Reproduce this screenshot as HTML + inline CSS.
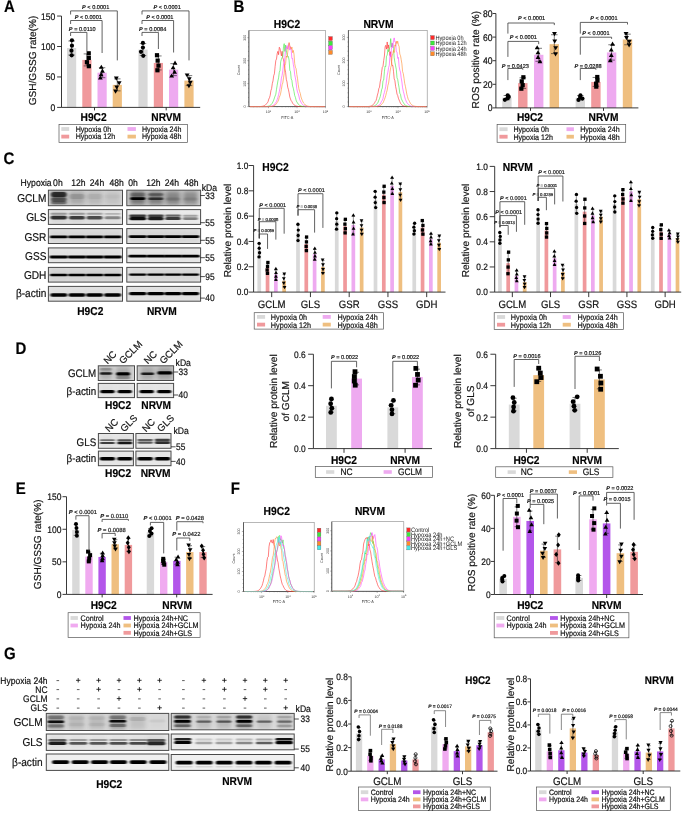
<!DOCTYPE html>
<html><head><meta charset="utf-8"><style>
html,body{margin:0;padding:0;background:#fff;}
body{width:685px;height:814px;overflow:hidden;}
svg{display:block;font-family:"Liberation Sans", sans-serif;will-change:transform;text-rendering:geometricPrecision;}
text{stroke:#111;stroke-width:0.18px;stroke-linejoin:round;}
text[fill="#333"],text[fill="#1a1a1a"]{stroke:none;}
</style></head><body>
<svg width="685" height="814" viewBox="0 0 685 814">
<defs>
<filter id="bl" x="-20%" y="-100%" width="140%" height="300%"><feGaussianBlur stdDeviation="1.1 0.7"/></filter>
<filter id="bl2" x="-20%" y="-100%" width="140%" height="300%"><feGaussianBlur stdDeviation="1.2"/></filter>
<filter id="bl3" x="-20%" y="-100%" width="140%" height="300%"><feGaussianBlur stdDeviation="2"/></filter>
</defs>
<text x="3.9" y="11.3" font-size="15" text-anchor="start" font-weight="bold" fill="#000" transform="translate(0 -0.71) scale(1 1.12)">A</text>
<text x="233.5" y="11.6" font-size="15" text-anchor="start" font-weight="bold" fill="#000" transform="translate(0 -0.74) scale(1 1.12)">B</text>
<text x="3.4" y="163.1" font-size="15" text-anchor="start" font-weight="bold" fill="#000" transform="translate(0 -18.92) scale(1 1.12)">C</text>
<text x="15.5" y="353.8" font-size="15" text-anchor="start" font-weight="bold" fill="#000" transform="translate(0 -41.81) scale(1 1.12)">D</text>
<text x="15.8" y="492.9" font-size="15" text-anchor="start" font-weight="bold" fill="#000" transform="translate(0 -58.5) scale(1 1.12)">E</text>
<text x="230.8" y="492.9" font-size="15" text-anchor="start" font-weight="bold" fill="#000" transform="translate(0 -58.5) scale(1 1.12)">F</text>
<text x="4" y="658.6" font-size="15" text-anchor="start" font-weight="bold" fill="#000" transform="translate(0 -78.38) scale(1 1.12)">G</text>
<line x1="61.5" y1="107.4" x2="61.5" y2="16.05" stroke="#222" stroke-width="0.9"/>
<line x1="57.1" y1="107.4" x2="61.5" y2="107.4" stroke="#222" stroke-width="0.9"/>
<text x="55.3" y="110.5" font-size="8.6" text-anchor="end" font-weight="normal" fill="#111" transform="translate(0 -12.89) scale(1 1.12)">0</text>
<line x1="57.1" y1="76.95" x2="61.5" y2="76.95" stroke="#222" stroke-width="0.9"/>
<text x="55.3" y="80.05" font-size="8.6" text-anchor="end" font-weight="normal" fill="#111" transform="translate(0 -9.23) scale(1 1.12)">50</text>
<line x1="57.1" y1="46.5" x2="61.5" y2="46.5" stroke="#222" stroke-width="0.9"/>
<text x="55.3" y="49.6" font-size="8.6" text-anchor="end" font-weight="normal" fill="#111" transform="translate(0 -5.58) scale(1 1.12)">100</text>
<line x1="57.1" y1="16.05" x2="61.5" y2="16.05" stroke="#222" stroke-width="0.9"/>
<text x="55.3" y="19.15" font-size="8.6" text-anchor="end" font-weight="normal" fill="#111" transform="translate(0 -1.93) scale(1 1.12)">150</text>
<text x="32.8" y="64.14" font-size="10.1" text-anchor="middle" font-weight="normal" fill="#111" transform="rotate(-90 32.8 60.5)">GSH/GSSG rate(%)</text>
<rect x="67" y="48.02" width="9.2" height="59.38" fill="#d9d9d9"/>
<line x1="71.6" y1="41.02" x2="71.6" y2="55.02" stroke="#222" stroke-width="0.6"/>
<line x1="68.38" y1="41.02" x2="74.82" y2="41.02" stroke="#222" stroke-width="0.6"/>
<line x1="68.38" y1="55.02" x2="74.82" y2="55.02" stroke="#222" stroke-width="0.6"/>
<circle cx="71.91" cy="40.32" r="2.1" fill="#000"/>
<circle cx="71.94" cy="45.71" r="2.1" fill="#000"/>
<circle cx="71.47" cy="50.72" r="2.1" fill="#000"/>
<circle cx="71.7" cy="55.34" r="2.1" fill="#000"/>
<rect x="138.4" y="49.55" width="9.2" height="57.85" fill="#d9d9d9"/>
<line x1="143" y1="43.55" x2="143" y2="55.55" stroke="#222" stroke-width="0.6"/>
<line x1="139.78" y1="43.55" x2="146.22" y2="43.55" stroke="#222" stroke-width="0.6"/>
<line x1="139.78" y1="55.55" x2="146.22" y2="55.55" stroke="#222" stroke-width="0.6"/>
<circle cx="142.92" cy="42.95" r="2.1" fill="#000"/>
<circle cx="142.92" cy="47.57" r="2.1" fill="#000"/>
<circle cx="140.96" cy="51.86" r="2.1" fill="#000"/>
<circle cx="143.24" cy="55.82" r="2.1" fill="#000"/>
<rect x="82.3" y="59.9" width="9.2" height="47.5" fill="#f0999c"/>
<line x1="86.9" y1="53.9" x2="86.9" y2="65.9" stroke="#222" stroke-width="0.6"/>
<line x1="83.68" y1="53.9" x2="90.12" y2="53.9" stroke="#222" stroke-width="0.6"/>
<line x1="83.68" y1="65.9" x2="90.12" y2="65.9" stroke="#222" stroke-width="0.6"/>
<rect x="86.63" y="51.2" width="4.2" height="4.2" fill="#000"/>
<rect x="86.69" y="55.82" width="4.2" height="4.2" fill="#000"/>
<rect x="84.83" y="60.11" width="4.2" height="4.2" fill="#000"/>
<rect x="86.75" y="64.07" width="4.2" height="4.2" fill="#000"/>
<rect x="153.8" y="62.94" width="9.2" height="44.46" fill="#f0999c"/>
<line x1="158.4" y1="55.94" x2="158.4" y2="69.94" stroke="#222" stroke-width="0.6"/>
<line x1="155.18" y1="55.94" x2="161.62" y2="55.94" stroke="#222" stroke-width="0.6"/>
<line x1="155.18" y1="69.94" x2="161.62" y2="69.94" stroke="#222" stroke-width="0.6"/>
<rect x="154.89" y="53.14" width="4.2" height="4.2" fill="#000"/>
<rect x="155.56" y="58.53" width="4.2" height="4.2" fill="#000"/>
<rect x="156.4" y="63.54" width="4.2" height="4.2" fill="#000"/>
<rect x="155.35" y="68.16" width="4.2" height="4.2" fill="#000"/>
<rect x="97.5" y="72.69" width="9.2" height="34.71" fill="#eeaaf0"/>
<line x1="102.1" y1="67.69" x2="102.1" y2="77.69" stroke="#222" stroke-width="0.6"/>
<line x1="98.88" y1="67.69" x2="105.32" y2="67.69" stroke="#222" stroke-width="0.6"/>
<line x1="98.88" y1="77.69" x2="105.32" y2="77.69" stroke="#222" stroke-width="0.6"/>
<polygon points="101.33,64.67 98.91,68.87 103.74,68.87" fill="#000"/>
<polygon points="102.46,68.52 100.05,72.72 104.88,72.72" fill="#000"/>
<polygon points="101.11,72.09 98.7,76.29 103.53,76.29" fill="#000"/>
<polygon points="100.35,75.39 97.93,79.59 102.76,79.59" fill="#000"/>
<rect x="169" y="69.64" width="9.2" height="37.76" fill="#eeaaf0"/>
<line x1="173.6" y1="63.64" x2="173.6" y2="75.64" stroke="#222" stroke-width="0.6"/>
<line x1="170.38" y1="63.64" x2="176.82" y2="63.64" stroke="#222" stroke-width="0.6"/>
<line x1="170.38" y1="75.64" x2="176.82" y2="75.64" stroke="#222" stroke-width="0.6"/>
<polygon points="175.05,60.52 172.63,64.72 177.46,64.72" fill="#000"/>
<polygon points="173.13,65.14 170.72,69.34 175.55,69.34" fill="#000"/>
<polygon points="174.6,69.43 172.18,73.63 177.01,73.63" fill="#000"/>
<polygon points="171.67,73.39 169.26,77.59 174.09,77.59" fill="#000"/>
<rect x="112.7" y="84.87" width="9.2" height="22.53" fill="#efbf80"/>
<line x1="117.3" y1="78.87" x2="117.3" y2="90.87" stroke="#222" stroke-width="0.6"/>
<line x1="114.08" y1="78.87" x2="120.52" y2="78.87" stroke="#222" stroke-width="0.6"/>
<line x1="114.08" y1="90.87" x2="120.52" y2="90.87" stroke="#222" stroke-width="0.6"/>
<polygon points="116.3,80.79 113.88,76.59 118.71,76.59" fill="#000"/>
<polygon points="119.18,85.41 116.76,81.21 121.59,81.21" fill="#000"/>
<polygon points="116.75,89.7 114.33,85.5 119.16,85.5" fill="#000"/>
<polygon points="115.59,93.66 113.17,89.46 118,89.46" fill="#000"/>
<rect x="184.4" y="80.6" width="9.2" height="26.8" fill="#efbf80"/>
<line x1="189" y1="75.6" x2="189" y2="85.6" stroke="#222" stroke-width="0.6"/>
<line x1="185.78" y1="75.6" x2="192.22" y2="75.6" stroke="#222" stroke-width="0.6"/>
<line x1="185.78" y1="85.6" x2="192.22" y2="85.6" stroke="#222" stroke-width="0.6"/>
<polygon points="187.13,77.62 184.71,73.42 189.54,73.42" fill="#000"/>
<polygon points="189.28,81.47 186.87,77.27 191.7,77.27" fill="#000"/>
<polygon points="190.3,85.05 187.89,80.85 192.72,80.85" fill="#000"/>
<polygon points="188.93,88.35 186.51,84.15 191.34,84.15" fill="#000"/>
<line x1="61.5" y1="107.4" x2="200.2" y2="107.4" stroke="#222" stroke-width="0.9"/>
<line x1="94.5" y1="107.4" x2="94.5" y2="110.4" stroke="#222" stroke-width="0.9"/>
<line x1="166.2" y1="107.4" x2="166.2" y2="110.4" stroke="#222" stroke-width="0.9"/>
<text x="93.6" y="120.97" font-size="10.2" text-anchor="middle" font-weight="bold" fill="#000" transform="translate(0 -14.08) scale(1 1.12)">H9C2</text>
<text x="166.2" y="120.97" font-size="10.2" text-anchor="middle" font-weight="bold" fill="#000" transform="translate(0 -14.08) scale(1 1.12)">NRVM</text>
<polyline points="70.6,36 70.6,32.4 86.9,32.4 86.9,51.5" fill="none" stroke="#3a3a3a" stroke-width="0.8"/>
<text x="82.25" y="31.22" font-size="5.6" text-anchor="middle" fill="#222"><tspan font-weight="bold" font-style="italic">P</tspan> = 0.0110</text>
<polyline points="70.6,24 70.6,20.5 102.1,20.5 102.1,53" fill="none" stroke="#3a3a3a" stroke-width="0.8"/>
<text x="88.35" y="18.72" font-size="5.6" text-anchor="middle" fill="#222"><tspan font-weight="bold" font-style="italic">P</tspan> &lt; 0.0001</text>
<polyline points="70.6,14.5 70.6,10.9 117.3,10.9 117.3,60.4" fill="none" stroke="#3a3a3a" stroke-width="0.8"/>
<text x="95.65" y="8.72" font-size="5.6" text-anchor="middle" fill="#222"><tspan font-weight="bold" font-style="italic">P</tspan> &lt; 0.0001</text>
<polyline points="142,36 142,32.4 158.4,32.4 158.4,49" fill="none" stroke="#3a3a3a" stroke-width="0.8"/>
<text x="152.7" y="31.22" font-size="5.6" text-anchor="middle" fill="#222"><tspan font-weight="bold" font-style="italic">P</tspan> = 0.0084</text>
<polyline points="142,24 142,20.5 173.6,20.5 173.6,52.5" fill="none" stroke="#3a3a3a" stroke-width="0.8"/>
<text x="159.8" y="18.72" font-size="5.6" text-anchor="middle" fill="#222"><tspan font-weight="bold" font-style="italic">P</tspan> &lt; 0.0001</text>
<polyline points="142,14.5 142,10.9 189,10.9 189,60.4" fill="none" stroke="#3a3a3a" stroke-width="0.8"/>
<text x="167.2" y="8.72" font-size="5.6" text-anchor="middle" fill="#222"><tspan font-weight="bold" font-style="italic">P</tspan> &lt; 0.0001</text>
<rect x="59" y="124.6" width="128.6" height="17.9" fill="#fff" stroke="#555" stroke-width="0.7"/>
<rect x="61.3" y="127.1" width="7.9" height="3.8" fill="#d9d9d9"/>
<text x="75.7" y="131.56" font-size="7.1" text-anchor="start" font-weight="normal" fill="#111" transform="translate(0 -15.48) scale(1 1.12)">Hypoxia 0h</text>
<rect x="61.3" y="134.7" width="7.9" height="3.8" fill="#f0999c"/>
<text x="75.7" y="139.16" font-size="7.1" text-anchor="start" font-weight="normal" fill="#111" transform="translate(0 -16.39) scale(1 1.12)">Hypoxia 12h</text>
<rect x="127.5" y="127.1" width="8.4" height="3.8" fill="#eeaaf0"/>
<text x="142" y="131.56" font-size="7.1" text-anchor="start" font-weight="normal" fill="#111" transform="translate(0 -15.48) scale(1 1.12)">Hypoxia 24h</text>
<rect x="127.5" y="134.7" width="8.4" height="3.8" fill="#efbf80"/>
<text x="142" y="139.16" font-size="7.1" text-anchor="start" font-weight="normal" fill="#111" transform="translate(0 -16.39) scale(1 1.12)">Hypoxia 48h</text>
<line x1="495.9" y1="107.9" x2="495.9" y2="13.5" stroke="#222" stroke-width="0.9"/>
<line x1="492.6" y1="107.9" x2="495.9" y2="107.9" stroke="#222" stroke-width="0.9"/>
<text x="492.6" y="111" font-size="8.6" text-anchor="end" font-weight="normal" fill="#111" transform="translate(0 -12.95) scale(1 1.12)">0</text>
<line x1="492.6" y1="84.3" x2="495.9" y2="84.3" stroke="#222" stroke-width="0.9"/>
<text x="492.6" y="87.4" font-size="8.6" text-anchor="end" font-weight="normal" fill="#111" transform="translate(0 -10.12) scale(1 1.12)">20</text>
<line x1="492.6" y1="60.7" x2="495.9" y2="60.7" stroke="#222" stroke-width="0.9"/>
<text x="492.6" y="63.8" font-size="8.6" text-anchor="end" font-weight="normal" fill="#111" transform="translate(0 -7.28) scale(1 1.12)">40</text>
<line x1="492.6" y1="37.1" x2="495.9" y2="37.1" stroke="#222" stroke-width="0.9"/>
<text x="492.6" y="40.2" font-size="8.6" text-anchor="end" font-weight="normal" fill="#111" transform="translate(0 -4.45) scale(1 1.12)">60</text>
<line x1="492.6" y1="13.5" x2="495.9" y2="13.5" stroke="#222" stroke-width="0.9"/>
<text x="492.6" y="16.6" font-size="8.6" text-anchor="end" font-weight="normal" fill="#111" transform="translate(0 -1.62) scale(1 1.12)">80</text>
<text x="475.4" y="63.24" font-size="10.1" text-anchor="middle" font-weight="normal" fill="#111" transform="rotate(-90 475.4 59.6)">ROS positive rate (%)</text>
<rect x="502.2" y="97.63" width="9.4" height="10.27" fill="#d9d9d9"/>
<line x1="506.9" y1="95.51" x2="506.9" y2="99.76" stroke="#222" stroke-width="0.6"/>
<line x1="503.61" y1="95.51" x2="510.19" y2="95.51" stroke="#222" stroke-width="0.6"/>
<line x1="503.61" y1="99.76" x2="510.19" y2="99.76" stroke="#222" stroke-width="0.6"/>
<circle cx="507.69" cy="95.3" r="2.1" fill="#000"/>
<circle cx="508.77" cy="96.93" r="2.1" fill="#000"/>
<circle cx="507.36" cy="98.45" r="2.1" fill="#000"/>
<circle cx="504.89" cy="99.85" r="2.1" fill="#000"/>
<rect x="575.6" y="97.75" width="9.4" height="10.15" fill="#d9d9d9"/>
<line x1="580.3" y1="95.63" x2="580.3" y2="99.88" stroke="#222" stroke-width="0.6"/>
<line x1="577.01" y1="95.63" x2="583.59" y2="95.63" stroke="#222" stroke-width="0.6"/>
<line x1="577.01" y1="99.88" x2="583.59" y2="99.88" stroke="#222" stroke-width="0.6"/>
<circle cx="580.43" cy="95.42" r="2.1" fill="#000"/>
<circle cx="580.1" cy="97.05" r="2.1" fill="#000"/>
<circle cx="582.37" cy="98.57" r="2.1" fill="#000"/>
<circle cx="578.49" cy="99.97" r="2.1" fill="#000"/>
<rect x="518.1" y="83.12" width="9.4" height="24.78" fill="#f0999c"/>
<line x1="522.8" y1="77.81" x2="522.8" y2="88.43" stroke="#222" stroke-width="0.6"/>
<line x1="519.51" y1="77.81" x2="526.09" y2="77.81" stroke="#222" stroke-width="0.6"/>
<line x1="519.51" y1="88.43" x2="526.09" y2="88.43" stroke="#222" stroke-width="0.6"/>
<rect x="521.28" y="75.18" width="4.2" height="4.2" fill="#000"/>
<rect x="519.62" y="79.27" width="4.2" height="4.2" fill="#000"/>
<rect x="520.56" y="83.06" width="4.2" height="4.2" fill="#000"/>
<rect x="519.23" y="86.57" width="4.2" height="4.2" fill="#000"/>
<rect x="591.2" y="81.94" width="9.4" height="25.96" fill="#f0999c"/>
<line x1="595.9" y1="77.46" x2="595.9" y2="86.42" stroke="#222" stroke-width="0.6"/>
<line x1="592.61" y1="77.46" x2="599.19" y2="77.46" stroke="#222" stroke-width="0.6"/>
<line x1="592.61" y1="86.42" x2="599.19" y2="86.42" stroke="#222" stroke-width="0.6"/>
<rect x="595.18" y="74.91" width="4.2" height="4.2" fill="#000"/>
<rect x="595.4" y="78.36" width="4.2" height="4.2" fill="#000"/>
<rect x="594" y="81.57" width="4.2" height="4.2" fill="#000"/>
<rect x="594.17" y="84.53" width="4.2" height="4.2" fill="#000"/>
<rect x="534" y="54.8" width="9.4" height="53.1" fill="#eeaaf0"/>
<line x1="538.7" y1="48.31" x2="538.7" y2="61.29" stroke="#222" stroke-width="0.6"/>
<line x1="535.41" y1="48.31" x2="541.99" y2="48.31" stroke="#222" stroke-width="0.6"/>
<line x1="535.41" y1="61.29" x2="541.99" y2="61.29" stroke="#222" stroke-width="0.6"/>
<polygon points="537.19,45.14 534.78,49.34 539.61,49.34" fill="#000"/>
<polygon points="537.99,50.14 535.57,54.34 540.4,54.34" fill="#000"/>
<polygon points="538.03,54.78 535.62,58.98 540.45,58.98" fill="#000"/>
<polygon points="539.92,59.06 537.51,63.26 542.34,63.26" fill="#000"/>
<rect x="606.9" y="52.44" width="9.4" height="55.46" fill="#eeaaf0"/>
<line x1="611.6" y1="44.77" x2="611.6" y2="60.11" stroke="#222" stroke-width="0.6"/>
<line x1="608.31" y1="44.77" x2="614.89" y2="44.77" stroke="#222" stroke-width="0.6"/>
<line x1="608.31" y1="60.11" x2="614.89" y2="60.11" stroke="#222" stroke-width="0.6"/>
<polygon points="612.55,41.48 610.14,45.68 614.97,45.68" fill="#000"/>
<polygon points="611.26,47.39 608.85,51.59 613.68,51.59" fill="#000"/>
<polygon points="611.31,52.87 608.89,57.07 613.72,57.07" fill="#000"/>
<polygon points="610.29,57.94 607.88,62.14 612.71,62.14" fill="#000"/>
<rect x="549.6" y="44.18" width="9.4" height="63.72" fill="#efbf80"/>
<line x1="554.3" y1="34.74" x2="554.3" y2="53.62" stroke="#222" stroke-width="0.6"/>
<line x1="551.01" y1="34.74" x2="557.59" y2="34.74" stroke="#222" stroke-width="0.6"/>
<line x1="551.01" y1="53.62" x2="557.59" y2="53.62" stroke="#222" stroke-width="0.6"/>
<polygon points="554.48,36.32 552.06,32.12 556.89,32.12" fill="#000"/>
<polygon points="554.75,43.58 552.33,39.38 557.16,39.38" fill="#000"/>
<polygon points="555.69,50.33 553.27,46.13 558.1,46.13" fill="#000"/>
<polygon points="555.54,56.56 553.12,52.36 557.95,52.36" fill="#000"/>
<rect x="622.8" y="39.46" width="9.4" height="68.44" fill="#efbf80"/>
<line x1="627.5" y1="34.15" x2="627.5" y2="44.77" stroke="#222" stroke-width="0.6"/>
<line x1="624.21" y1="34.15" x2="630.79" y2="34.15" stroke="#222" stroke-width="0.6"/>
<line x1="624.21" y1="44.77" x2="630.79" y2="44.77" stroke="#222" stroke-width="0.6"/>
<polygon points="626.06,36.14 623.64,31.94 628.47,31.94" fill="#000"/>
<polygon points="626.47,40.23 624.05,36.03 628.88,36.03" fill="#000"/>
<polygon points="629.27,44.02 626.85,39.82 631.68,39.82" fill="#000"/>
<polygon points="629.11,47.53 626.7,43.33 631.53,43.33" fill="#000"/>
<line x1="495.9" y1="107.9" x2="638.4" y2="107.9" stroke="#222" stroke-width="0.9"/>
<line x1="530.5" y1="107.9" x2="530.5" y2="110.9" stroke="#222" stroke-width="0.9"/>
<line x1="603.5" y1="107.9" x2="603.5" y2="110.9" stroke="#222" stroke-width="0.9"/>
<text x="530" y="120.47" font-size="10.2" text-anchor="middle" font-weight="bold" fill="#000" transform="translate(0 -14.02) scale(1 1.12)">H9C2</text>
<text x="603.5" y="120.47" font-size="10.2" text-anchor="middle" font-weight="bold" fill="#000" transform="translate(0 -14.02) scale(1 1.12)">NRVM</text>
<polyline points="507.9,80.1 507.9,68.5 522.8,68.5 522.8,69.8" fill="none" stroke="#3a3a3a" stroke-width="0.8"/>
<text x="515.35" y="67.62" font-size="5.6" text-anchor="middle" fill="#222"><tspan font-weight="bold" font-style="italic">P</tspan> = 0.0423</text>
<polyline points="507.9,56.9 507.9,41.4 538.7,41.4 538.7,44.2" fill="none" stroke="#3a3a3a" stroke-width="0.8"/>
<text x="523.3" y="39.42" font-size="5.6" text-anchor="middle" fill="#222"><tspan font-weight="bold" font-style="italic">P</tspan> &lt; 0.0001</text>
<polyline points="507.9,33.6 507.9,23 554.3,23 554.3,25.1" fill="none" stroke="#3a3a3a" stroke-width="0.8"/>
<text x="531.6" y="19.82" font-size="5.6" text-anchor="middle" fill="#222"><tspan font-weight="bold" font-style="italic">P</tspan> &lt; 0.0001</text>
<polyline points="580.3,80.1 580.3,68.5 595.9,68.5 595.9,69.8" fill="none" stroke="#3a3a3a" stroke-width="0.8"/>
<text x="588.1" y="67.62" font-size="5.6" text-anchor="middle" fill="#222"><tspan font-weight="bold" font-style="italic">P</tspan> = 0.0288</text>
<polyline points="580.3,54.7 580.3,37.2 611.6,37.2 611.6,38.9" fill="none" stroke="#3a3a3a" stroke-width="0.8"/>
<text x="595.95" y="35.42" font-size="5.6" text-anchor="middle" fill="#222"><tspan font-weight="bold" font-style="italic">P</tspan> &lt; 0.0001</text>
<polyline points="580.3,33.6 580.3,22.4 627.5,22.4 627.5,24.5" fill="none" stroke="#3a3a3a" stroke-width="0.8"/>
<text x="603.9" y="20.02" font-size="5.6" text-anchor="middle" fill="#222"><tspan font-weight="bold" font-style="italic">P</tspan> &lt; 0.0001</text>
<rect x="497.1" y="124.5" width="128.6" height="17.8" fill="#fff" stroke="#555" stroke-width="0.7"/>
<rect x="499.4" y="127.3" width="8.2" height="3.8" fill="#d9d9d9"/>
<text x="513.4" y="131.76" font-size="7.1" text-anchor="start" font-weight="normal" fill="#111" transform="translate(0 -15.5) scale(1 1.12)">Hypoxia 0h</text>
<rect x="499.4" y="134.8" width="8.2" height="3.8" fill="#f0999c"/>
<text x="513.4" y="139.26" font-size="7.1" text-anchor="start" font-weight="normal" fill="#111" transform="translate(0 -16.4) scale(1 1.12)">Hypoxia 12h</text>
<rect x="566.5" y="127.3" width="7.4" height="3.8" fill="#eeaaf0"/>
<text x="580.2" y="131.76" font-size="7.1" text-anchor="start" font-weight="normal" fill="#111" transform="translate(0 -15.5) scale(1 1.12)">Hypoxia 24h</text>
<rect x="566.5" y="134.8" width="7.4" height="3.8" fill="#efbf80"/>
<text x="580.2" y="139.26" font-size="7.1" text-anchor="start" font-weight="normal" fill="#111" transform="translate(0 -16.4) scale(1 1.12)">Hypoxia 48h</text>
<text x="287" y="27.21" font-size="10.3" text-anchor="middle" font-weight="bold" fill="#000" transform="translate(0 -2.82) scale(1 1.12)">H9C2</text>
<text x="378.5" y="27.21" font-size="10.3" text-anchor="middle" font-weight="bold" fill="#000" transform="translate(0 -2.82) scale(1 1.12)">NRVM</text>
<rect x="248.9" y="30.6" width="76.7" height="76" fill="#fff" stroke="#888" stroke-width="0.6"/>
<line x1="248.9" y1="30.6" x2="248.9" y2="106.6" stroke="#333" stroke-width="0.7"/>
<line x1="248.9" y1="106.6" x2="325.6" y2="106.6" stroke="#333" stroke-width="0.7"/>
<line x1="247.3" y1="106.6" x2="248.9" y2="106.6" stroke="#444" stroke-width="0.4"/>
<line x1="248" y1="102" x2="248.9" y2="102" stroke="#444" stroke-width="0.4"/>
<line x1="248" y1="97.41" x2="248.9" y2="97.41" stroke="#444" stroke-width="0.4"/>
<line x1="248" y1="92.81" x2="248.9" y2="92.81" stroke="#444" stroke-width="0.4"/>
<line x1="248" y1="88.22" x2="248.9" y2="88.22" stroke="#444" stroke-width="0.4"/>
<line x1="247.3" y1="83.62" x2="248.9" y2="83.62" stroke="#444" stroke-width="0.4"/>
<line x1="248" y1="79.03" x2="248.9" y2="79.03" stroke="#444" stroke-width="0.4"/>
<line x1="248" y1="74.43" x2="248.9" y2="74.43" stroke="#444" stroke-width="0.4"/>
<line x1="248" y1="69.84" x2="248.9" y2="69.84" stroke="#444" stroke-width="0.4"/>
<line x1="248" y1="65.24" x2="248.9" y2="65.24" stroke="#444" stroke-width="0.4"/>
<line x1="247.3" y1="60.65" x2="248.9" y2="60.65" stroke="#444" stroke-width="0.4"/>
<line x1="248" y1="56.05" x2="248.9" y2="56.05" stroke="#444" stroke-width="0.4"/>
<line x1="248" y1="51.45" x2="248.9" y2="51.45" stroke="#444" stroke-width="0.4"/>
<line x1="248" y1="46.86" x2="248.9" y2="46.86" stroke="#444" stroke-width="0.4"/>
<line x1="248" y1="42.26" x2="248.9" y2="42.26" stroke="#444" stroke-width="0.4"/>
<line x1="247.3" y1="37.67" x2="248.9" y2="37.67" stroke="#444" stroke-width="0.4"/>
<text x="244.6" y="107.9" font-size="3.6" text-anchor="middle" font-weight="normal" fill="#333" transform="rotate(-90 244.6 106.6)">0</text>
<text x="244.6" y="84.92" font-size="3.6" text-anchor="middle" font-weight="normal" fill="#333" transform="rotate(-90 244.6 83.62)">100</text>
<text x="244.6" y="61.94" font-size="3.6" text-anchor="middle" font-weight="normal" fill="#333" transform="rotate(-90 244.6 60.65)">200</text>
<text x="244.6" y="38.96" font-size="3.6" text-anchor="middle" font-weight="normal" fill="#333" transform="rotate(-90 244.6 37.67)">300</text>
<text x="238.7" y="71.47" font-size="3.8" text-anchor="middle" font-weight="normal" fill="#333" transform="rotate(-90 238.7 70.1)">Count</text>
<line x1="268.5" y1="106.6" x2="268.5" y2="108.2" stroke="#444" stroke-width="0.4"/>
<text x="268.5" y="112.9" font-size="3.6" text-anchor="middle" fill="#333">10<tspan font-size="2.4" dy="-1.3">3</tspan></text>
<line x1="297" y1="106.6" x2="297" y2="108.2" stroke="#444" stroke-width="0.4"/>
<text x="297" y="112.9" font-size="3.6" text-anchor="middle" fill="#333">10<tspan font-size="2.4" dy="-1.3">4</tspan></text>
<line x1="325.5" y1="106.6" x2="325.5" y2="108.2" stroke="#444" stroke-width="0.4"/>
<text x="325.5" y="112.9" font-size="3.6" text-anchor="middle" fill="#333">10<tspan font-size="2.4" dy="-1.3">5</tspan></text>
<line x1="253.6" y1="106.6" x2="253.6" y2="107.4" stroke="#555" stroke-width="0.35"/>
<line x1="257.16" y1="106.6" x2="257.16" y2="107.4" stroke="#555" stroke-width="0.35"/>
<line x1="259.92" y1="106.6" x2="259.92" y2="107.4" stroke="#555" stroke-width="0.35"/>
<line x1="262.18" y1="106.6" x2="262.18" y2="107.4" stroke="#555" stroke-width="0.35"/>
<line x1="264.09" y1="106.6" x2="264.09" y2="107.4" stroke="#555" stroke-width="0.35"/>
<line x1="265.74" y1="106.6" x2="265.74" y2="107.4" stroke="#555" stroke-width="0.35"/>
<line x1="267.2" y1="106.6" x2="267.2" y2="107.4" stroke="#555" stroke-width="0.35"/>
<line x1="277.08" y1="106.6" x2="277.08" y2="107.4" stroke="#555" stroke-width="0.35"/>
<line x1="282.1" y1="106.6" x2="282.1" y2="107.4" stroke="#555" stroke-width="0.35"/>
<line x1="285.66" y1="106.6" x2="285.66" y2="107.4" stroke="#555" stroke-width="0.35"/>
<line x1="288.42" y1="106.6" x2="288.42" y2="107.4" stroke="#555" stroke-width="0.35"/>
<line x1="290.68" y1="106.6" x2="290.68" y2="107.4" stroke="#555" stroke-width="0.35"/>
<line x1="292.59" y1="106.6" x2="292.59" y2="107.4" stroke="#555" stroke-width="0.35"/>
<line x1="294.24" y1="106.6" x2="294.24" y2="107.4" stroke="#555" stroke-width="0.35"/>
<line x1="295.7" y1="106.6" x2="295.7" y2="107.4" stroke="#555" stroke-width="0.35"/>
<line x1="305.58" y1="106.6" x2="305.58" y2="107.4" stroke="#555" stroke-width="0.35"/>
<line x1="310.6" y1="106.6" x2="310.6" y2="107.4" stroke="#555" stroke-width="0.35"/>
<line x1="314.16" y1="106.6" x2="314.16" y2="107.4" stroke="#555" stroke-width="0.35"/>
<line x1="316.92" y1="106.6" x2="316.92" y2="107.4" stroke="#555" stroke-width="0.35"/>
<line x1="319.18" y1="106.6" x2="319.18" y2="107.4" stroke="#555" stroke-width="0.35"/>
<line x1="321.09" y1="106.6" x2="321.09" y2="107.4" stroke="#555" stroke-width="0.35"/>
<line x1="322.74" y1="106.6" x2="322.74" y2="107.4" stroke="#555" stroke-width="0.35"/>
<line x1="324.2" y1="106.6" x2="324.2" y2="107.4" stroke="#555" stroke-width="0.35"/>
<text x="287.25" y="118.37" font-size="3.8" text-anchor="middle" font-weight="normal" fill="#333" transform="translate(0 -14.04) scale(1 1.12)">FITC-A</text>
<polyline points="249.9,106.6 250.6,106.6 251.3,106.6 252,106.6 252.7,106.6 253.4,106.6 254.1,106.6 254.8,106.6 255.5,106.6 256.2,106.6 256.9,106.59 257.6,106.59 258.3,106.58 259,106.57 259.7,106.54 260.4,106.51 261.1,106.46 261.8,106.38 262.5,106.26 263.2,106.09 263.9,105.88 264.6,105.5 265.3,105.08 266,104.38 266.7,103.52 267.4,102.79 268.1,101.55 268.8,99.03 269.5,97.68 270.2,95.32 270.9,90.72 271.6,88.62 272.3,83.62 273,80.81 273.7,75.7 274.4,73.84 275.1,66.58 275.8,60.55 276.5,58.96 277.2,53.68 277.9,51.35 278.6,54.68 279.3,47.28 280,48.59 280.7,51.97 281.4,55.95 282.1,51.29 282.8,57.78 283.5,59.77 284.2,63.06 284.9,68.72 285.6,72.3 286.3,79.34 287,81.95 287.7,87.15 288.4,89.38 289.1,92.83 289.8,96.96 290.5,99.03 291.2,100.72 291.9,101.61 292.6,103.19 293.3,104.04 294,104.85 294.7,105.33 295.4,105.73 296.1,106 296.8,106.2 297.5,106.33 298.2,106.43 298.9,106.49 299.6,106.53 300.3,106.56 301,106.57 301.7,106.58 302.4,106.59 303.1,106.59 303.8,106.6 304.5,106.6 305.2,106.6 305.9,106.6 306.6,106.6 307.3,106.6 308,106.6 308.7,106.6 309.4,106.6 310.1,106.6 310.8,106.6 311.5,106.6 312.2,106.6 312.9,106.6 313.6,106.6 314.3,106.6 315,106.6 315.7,106.6 316.4,106.6 317.1,106.6 317.8,106.6 318.5,106.6 319.2,106.6 319.9,106.6 320.6,106.6 321.3,106.6 322,106.6 322.7,106.6 323.4,106.6 324.1,106.6 324.8,106.6" fill="none" stroke="#ff2a2a" stroke-width="0.6" stroke-linejoin="round"/>
<polyline points="249.9,106.6 250.6,106.6 251.3,106.6 252,106.6 252.7,106.6 253.4,106.6 254.1,106.6 254.8,106.6 255.5,106.6 256.2,106.6 256.9,106.6 257.6,106.6 258.3,106.6 259,106.6 259.7,106.6 260.4,106.6 261.1,106.6 261.8,106.6 262.5,106.59 263.2,106.59 263.9,106.58 264.6,106.56 265.3,106.54 266,106.5 266.7,106.45 267.4,106.36 268.1,106.23 268.8,106.05 269.5,105.8 270.2,105.39 270.9,104.86 271.6,104.03 272.3,103.16 273,101.74 273.7,100.17 274.4,97.98 275.1,96 275.8,94.22 276.5,89.34 277.2,85.12 277.9,80.97 278.6,77.8 279.3,72.35 280,70.51 280.7,61.85 281.4,59.16 282.1,57.51 282.8,56.21 283.5,46.65 284.2,43.64 284.9,51.45 285.6,45.1 286.3,50.12 287,54.68 287.7,56.44 288.4,56.46 289.1,60.21 289.8,70.27 290.5,71.5 291.2,78.98 291.9,80.41 292.6,86.05 293.3,88.22 294,91.56 294.7,95.53 295.4,97.3 296.1,100.21 296.8,101.98 297.5,102.88 298.2,104.14 298.9,104.8 299.6,105.29 300.3,105.67 301,105.98 301.7,106.19 302.4,106.33 303.1,106.43 303.8,106.49 304.5,106.53 305.2,106.56 305.9,106.58 306.6,106.59 307.3,106.59 308,106.6 308.7,106.6 309.4,106.6 310.1,106.6 310.8,106.6 311.5,106.6 312.2,106.6 312.9,106.6 313.6,106.6 314.3,106.6 315,106.6 315.7,106.6 316.4,106.6 317.1,106.6 317.8,106.6 318.5,106.6 319.2,106.6 319.9,106.6 320.6,106.6 321.3,106.6 322,106.6 322.7,106.6 323.4,106.6 324.1,106.6 324.8,106.6" fill="none" stroke="#3ce83c" stroke-width="0.6" stroke-linejoin="round"/>
<polyline points="249.9,106.6 250.6,106.6 251.3,106.6 252,106.6 252.7,106.6 253.4,106.6 254.1,106.6 254.8,106.6 255.5,106.6 256.2,106.6 256.9,106.6 257.6,106.6 258.3,106.6 259,106.6 259.7,106.6 260.4,106.6 261.1,106.6 261.8,106.6 262.5,106.6 263.2,106.6 263.9,106.6 264.6,106.6 265.3,106.59 266,106.59 266.7,106.58 267.4,106.57 268.1,106.55 268.8,106.52 269.5,106.47 270.2,106.4 270.9,106.29 271.6,106.13 272.3,105.94 273,105.65 273.7,105.04 274.4,104.58 275.1,103.49 275.8,102.39 276.5,101.37 277.2,99.59 277.9,97.4 278.6,94.6 279.3,91.63 280,88.19 280.7,83.99 281.4,78.2 282.1,75.37 282.8,70.93 283.5,64.15 284.2,62.67 284.9,57.79 285.6,47.93 286.3,48.46 287,45.56 287.7,49.2 288.4,44.51 289.1,43.23 289.8,50.14 290.5,46.73 291.2,49.86 291.9,58.6 292.6,58.45 293.3,64.42 294,68.05 294.7,74.8 295.4,77.85 296.1,82.33 296.8,88.76 297.5,92.01 298.2,93.7 298.9,96.02 299.6,99.29 300.3,100.86 301,102.22 301.7,103.52 302.4,104.36 303.1,105.02 303.8,105.49 304.5,105.81 305.2,106.07 305.9,106.25 306.6,106.37 307.3,106.45 308,106.51 308.7,106.54 309.4,106.56 310.1,106.58 310.8,106.59 311.5,106.59 312.2,106.6 312.9,106.6 313.6,106.6 314.3,106.6 315,106.6 315.7,106.6 316.4,106.6 317.1,106.6 317.8,106.6 318.5,106.6 319.2,106.6 319.9,106.6 320.6,106.6 321.3,106.6 322,106.6 322.7,106.6 323.4,106.6 324.1,106.6 324.8,106.6" fill="none" stroke="#ff3cff" stroke-width="0.6" stroke-linejoin="round"/>
<polyline points="249.9,106.6 250.6,106.6 251.3,106.6 252,106.6 252.7,106.6 253.4,106.6 254.1,106.6 254.8,106.6 255.5,106.6 256.2,106.6 256.9,106.6 257.6,106.6 258.3,106.6 259,106.6 259.7,106.6 260.4,106.6 261.1,106.6 261.8,106.6 262.5,106.6 263.2,106.6 263.9,106.6 264.6,106.6 265.3,106.6 266,106.59 266.7,106.59 267.4,106.59 268.1,106.58 268.8,106.56 269.5,106.54 270.2,106.5 270.9,106.45 271.6,106.37 272.3,106.25 273,106.08 273.7,105.86 274.4,105.52 275.1,104.98 275.8,104.6 276.5,103.6 277.2,102.44 277.9,101.44 278.6,99.94 279.3,97.18 280,95.69 280.7,93.09 281.4,89.3 282.1,84.77 282.8,83 283.5,77.87 284.2,73.36 284.9,65.7 285.6,63.57 286.3,55.98 287,57.39 287.7,52.56 288.4,46.85 289.1,42.47 289.8,45.52 290.5,47.55 291.2,49.28 291.9,46.98 292.6,52.6 293.3,50.42 294,54.22 294.7,63.5 295.4,67.22 296.1,68.67 296.8,74.37 297.5,78.23 298.2,84.31 298.9,88.72 299.6,91.55 300.3,93.46 301,97 301.7,99.01 302.4,100.69 303.1,102.12 303.8,103.27 304.5,103.95 305.2,104.9 305.9,105.42 306.6,105.64 307.3,105.98 308,106.18 308.7,106.32 309.4,106.42 310.1,106.48 310.8,106.52 311.5,106.55 312.2,106.57 312.9,106.58 313.6,106.59 314.3,106.59 315,106.6 315.7,106.6 316.4,106.6 317.1,106.6 317.8,106.6 318.5,106.6 319.2,106.6 319.9,106.6 320.6,106.6 321.3,106.6 322,106.6 322.7,106.6 323.4,106.6 324.1,106.6 324.8,106.6" fill="none" stroke="#ff8a2a" stroke-width="0.6" stroke-linejoin="round"/>
<rect x="348.4" y="30.3" width="78.8" height="76.3" fill="#fff" stroke="#888" stroke-width="0.6"/>
<line x1="348.4" y1="30.3" x2="348.4" y2="106.6" stroke="#333" stroke-width="0.7"/>
<line x1="348.4" y1="106.6" x2="427.2" y2="106.6" stroke="#333" stroke-width="0.7"/>
<line x1="346.8" y1="106.6" x2="348.4" y2="106.6" stroke="#444" stroke-width="0.4"/>
<line x1="347.5" y1="101.99" x2="348.4" y2="101.99" stroke="#444" stroke-width="0.4"/>
<line x1="347.5" y1="97.37" x2="348.4" y2="97.37" stroke="#444" stroke-width="0.4"/>
<line x1="347.5" y1="92.76" x2="348.4" y2="92.76" stroke="#444" stroke-width="0.4"/>
<line x1="347.5" y1="88.15" x2="348.4" y2="88.15" stroke="#444" stroke-width="0.4"/>
<line x1="346.8" y1="83.53" x2="348.4" y2="83.53" stroke="#444" stroke-width="0.4"/>
<line x1="347.5" y1="78.92" x2="348.4" y2="78.92" stroke="#444" stroke-width="0.4"/>
<line x1="347.5" y1="74.3" x2="348.4" y2="74.3" stroke="#444" stroke-width="0.4"/>
<line x1="347.5" y1="69.69" x2="348.4" y2="69.69" stroke="#444" stroke-width="0.4"/>
<line x1="347.5" y1="65.08" x2="348.4" y2="65.08" stroke="#444" stroke-width="0.4"/>
<line x1="346.8" y1="60.46" x2="348.4" y2="60.46" stroke="#444" stroke-width="0.4"/>
<line x1="347.5" y1="55.85" x2="348.4" y2="55.85" stroke="#444" stroke-width="0.4"/>
<line x1="347.5" y1="51.24" x2="348.4" y2="51.24" stroke="#444" stroke-width="0.4"/>
<line x1="347.5" y1="46.62" x2="348.4" y2="46.62" stroke="#444" stroke-width="0.4"/>
<line x1="347.5" y1="42.01" x2="348.4" y2="42.01" stroke="#444" stroke-width="0.4"/>
<line x1="346.8" y1="37.4" x2="348.4" y2="37.4" stroke="#444" stroke-width="0.4"/>
<text x="344.1" y="107.9" font-size="3.6" text-anchor="middle" font-weight="normal" fill="#333" transform="rotate(-90 344.1 106.6)">0</text>
<text x="344.1" y="84.83" font-size="3.6" text-anchor="middle" font-weight="normal" fill="#333" transform="rotate(-90 344.1 83.53)">100</text>
<text x="344.1" y="61.76" font-size="3.6" text-anchor="middle" font-weight="normal" fill="#333" transform="rotate(-90 344.1 60.46)">200</text>
<text x="344.1" y="38.69" font-size="3.6" text-anchor="middle" font-weight="normal" fill="#333" transform="rotate(-90 344.1 37.4)">300</text>
<text x="338.2" y="71.32" font-size="3.8" text-anchor="middle" font-weight="normal" fill="#333" transform="rotate(-90 338.2 69.95)">Count</text>
<line x1="369" y1="106.6" x2="369" y2="108.2" stroke="#444" stroke-width="0.4"/>
<text x="369" y="112.9" font-size="3.6" text-anchor="middle" fill="#333">10<tspan font-size="2.4" dy="-1.3">3</tspan></text>
<line x1="398" y1="106.6" x2="398" y2="108.2" stroke="#444" stroke-width="0.4"/>
<text x="398" y="112.9" font-size="3.6" text-anchor="middle" fill="#333">10<tspan font-size="2.4" dy="-1.3">4</tspan></text>
<line x1="427" y1="106.6" x2="427" y2="108.2" stroke="#444" stroke-width="0.4"/>
<text x="427" y="112.9" font-size="3.6" text-anchor="middle" fill="#333">10<tspan font-size="2.4" dy="-1.3">5</tspan></text>
<line x1="348.73" y1="106.6" x2="348.73" y2="107.4" stroke="#555" stroke-width="0.35"/>
<line x1="353.84" y1="106.6" x2="353.84" y2="107.4" stroke="#555" stroke-width="0.35"/>
<line x1="357.46" y1="106.6" x2="357.46" y2="107.4" stroke="#555" stroke-width="0.35"/>
<line x1="360.27" y1="106.6" x2="360.27" y2="107.4" stroke="#555" stroke-width="0.35"/>
<line x1="362.57" y1="106.6" x2="362.57" y2="107.4" stroke="#555" stroke-width="0.35"/>
<line x1="364.51" y1="106.6" x2="364.51" y2="107.4" stroke="#555" stroke-width="0.35"/>
<line x1="366.19" y1="106.6" x2="366.19" y2="107.4" stroke="#555" stroke-width="0.35"/>
<line x1="367.67" y1="106.6" x2="367.67" y2="107.4" stroke="#555" stroke-width="0.35"/>
<line x1="377.73" y1="106.6" x2="377.73" y2="107.4" stroke="#555" stroke-width="0.35"/>
<line x1="382.84" y1="106.6" x2="382.84" y2="107.4" stroke="#555" stroke-width="0.35"/>
<line x1="386.46" y1="106.6" x2="386.46" y2="107.4" stroke="#555" stroke-width="0.35"/>
<line x1="389.27" y1="106.6" x2="389.27" y2="107.4" stroke="#555" stroke-width="0.35"/>
<line x1="391.57" y1="106.6" x2="391.57" y2="107.4" stroke="#555" stroke-width="0.35"/>
<line x1="393.51" y1="106.6" x2="393.51" y2="107.4" stroke="#555" stroke-width="0.35"/>
<line x1="395.19" y1="106.6" x2="395.19" y2="107.4" stroke="#555" stroke-width="0.35"/>
<line x1="396.67" y1="106.6" x2="396.67" y2="107.4" stroke="#555" stroke-width="0.35"/>
<line x1="406.73" y1="106.6" x2="406.73" y2="107.4" stroke="#555" stroke-width="0.35"/>
<line x1="411.84" y1="106.6" x2="411.84" y2="107.4" stroke="#555" stroke-width="0.35"/>
<line x1="415.46" y1="106.6" x2="415.46" y2="107.4" stroke="#555" stroke-width="0.35"/>
<line x1="418.27" y1="106.6" x2="418.27" y2="107.4" stroke="#555" stroke-width="0.35"/>
<line x1="420.57" y1="106.6" x2="420.57" y2="107.4" stroke="#555" stroke-width="0.35"/>
<line x1="422.51" y1="106.6" x2="422.51" y2="107.4" stroke="#555" stroke-width="0.35"/>
<line x1="424.19" y1="106.6" x2="424.19" y2="107.4" stroke="#555" stroke-width="0.35"/>
<line x1="425.67" y1="106.6" x2="425.67" y2="107.4" stroke="#555" stroke-width="0.35"/>
<text x="387.8" y="118.37" font-size="3.8" text-anchor="middle" font-weight="normal" fill="#333" transform="translate(0 -14.04) scale(1 1.12)">FITC-A</text>
<polyline points="349.4,106.6 350.1,106.6 350.8,106.6 351.5,106.6 352.2,106.6 352.9,106.6 353.6,106.6 354.3,106.6 355,106.6 355.7,106.6 356.4,106.6 357.1,106.6 357.8,106.6 358.5,106.6 359.2,106.6 359.9,106.6 360.6,106.6 361.3,106.6 362,106.6 362.7,106.6 363.4,106.6 364.1,106.59 364.8,106.59 365.5,106.58 366.2,106.57 366.9,106.56 367.6,106.53 368.3,106.49 369,106.43 369.7,106.33 370.4,106.19 371.1,105.99 371.8,105.68 372.5,105.24 373.2,104.66 373.9,103.82 374.6,102.9 375.3,101.46 376,100.68 376.7,98.28 377.4,95.08 378.1,92.69 378.8,88.63 379.5,87.24 380.2,81.93 380.9,78.49 381.6,72.33 382.3,67.25 383,66.32 383.7,60.52 384.4,56.02 385.1,46.86 385.8,45.27 386.5,49.14 387.2,41.94 387.9,48.51 388.6,44.91 389.3,51.61 390,55.49 390.7,51.65 391.4,61.18 392.1,65.55 392.8,65.46 393.5,71.27 394.2,78.93 394.9,80.64 395.6,86.4 396.3,89.75 397,94.07 397.7,95.48 398.4,98.29 399.1,99.99 399.8,101.69 400.5,103.3 401.2,104.18 401.9,104.93 402.6,105.43 403.3,105.8 404,106.02 404.7,106.21 405.4,106.35 406.1,106.44 406.8,106.5 407.5,106.54 408.2,106.56 408.9,106.58 409.6,106.59 410.3,106.59 411,106.6 411.7,106.6 412.4,106.6 413.1,106.6 413.8,106.6 414.5,106.6 415.2,106.6 415.9,106.6 416.6,106.6 417.3,106.6 418,106.6 418.7,106.6 419.4,106.6 420.1,106.6 420.8,106.6 421.5,106.6 422.2,106.6 422.9,106.6 423.6,106.6 424.3,106.6 425,106.6 425.7,106.6 426.4,106.6" fill="none" stroke="#ff2a2a" stroke-width="0.6" stroke-linejoin="round"/>
<polyline points="349.4,106.6 350.1,106.6 350.8,106.6 351.5,106.6 352.2,106.6 352.9,106.6 353.6,106.6 354.3,106.6 355,106.6 355.7,106.6 356.4,106.6 357.1,106.6 357.8,106.6 358.5,106.6 359.2,106.6 359.9,106.6 360.6,106.6 361.3,106.6 362,106.6 362.7,106.6 363.4,106.6 364.1,106.6 364.8,106.6 365.5,106.6 366.2,106.6 366.9,106.6 367.6,106.59 368.3,106.59 369,106.58 369.7,106.56 370.4,106.54 371.1,106.5 371.8,106.44 372.5,106.35 373.2,106.23 373.9,106.04 374.6,105.8 375.3,105.37 376,105.01 376.7,104.11 377.4,103.34 378.1,102.2 378.8,100.22 379.5,98.66 380.2,96.62 380.9,93.58 381.6,89.75 382.3,87.99 383,80.58 383.7,80.08 384.4,71.74 385.1,66 385.8,66.51 386.5,56.16 387.2,55.1 387.9,49.4 388.6,51.65 389.3,49.2 390,46.66 390.7,38.59 391.4,47.08 392.1,43.4 392.8,44.68 393.5,48.39 394.2,57.68 394.9,62.14 395.6,65.83 396.3,69.4 397,77.79 397.7,79.48 398.4,83.81 399.1,87.73 399.8,93.27 400.5,94.37 401.2,98.27 401.9,99.94 402.6,101.36 403.3,102.52 404,103.88 404.7,104.47 405.4,105.18 406.1,105.65 406.8,105.93 407.5,106.15 408.2,106.31 408.9,106.41 409.6,106.48 410.3,106.52 411,106.55 411.7,106.57 412.4,106.58 413.1,106.59 413.8,106.59 414.5,106.6 415.2,106.6 415.9,106.6 416.6,106.6 417.3,106.6 418,106.6 418.7,106.6 419.4,106.6 420.1,106.6 420.8,106.6 421.5,106.6 422.2,106.6 422.9,106.6 423.6,106.6 424.3,106.6 425,106.6 425.7,106.6 426.4,106.6" fill="none" stroke="#3ce83c" stroke-width="0.6" stroke-linejoin="round"/>
<polyline points="349.4,106.6 350.1,106.6 350.8,106.6 351.5,106.6 352.2,106.6 352.9,106.6 353.6,106.6 354.3,106.6 355,106.6 355.7,106.6 356.4,106.6 357.1,106.6 357.8,106.6 358.5,106.6 359.2,106.6 359.9,106.6 360.6,106.6 361.3,106.6 362,106.6 362.7,106.6 363.4,106.6 364.1,106.6 364.8,106.6 365.5,106.6 366.2,106.6 366.9,106.6 367.6,106.6 368.3,106.6 369,106.6 369.7,106.6 370.4,106.59 371.1,106.59 371.8,106.58 372.5,106.57 373.2,106.55 373.9,106.52 374.6,106.47 375.3,106.4 376,106.3 376.7,106.14 377.4,105.93 378.1,105.65 378.8,105.26 379.5,104.75 380.2,104 380.9,102.73 381.6,101.15 382.3,100.29 383,98.55 383.7,94.63 384.4,92.55 385.1,89.54 385.8,86.38 386.5,80.91 387.2,75.18 387.9,72.18 388.6,67.49 389.3,65.25 390,54.1 390.7,57.04 391.4,49.31 392.1,42.91 392.8,47.68 393.5,40.37 394.2,37.9 394.9,42 395.6,42.3 396.3,51.54 397,51.91 397.7,58.33 398.4,57.46 399.1,66.25 399.8,70.1 400.5,72.15 401.2,77.84 401.9,82 402.6,87.85 403.3,91.28 404,93.87 404.7,96.97 405.4,99.37 406.1,100.99 406.8,102.57 407.5,103.51 408.2,104.13 408.9,104.85 409.6,105.43 410.3,105.81 411,106.06 411.7,106.24 412.4,106.36 413.1,106.45 413.8,106.5 414.5,106.54 415.2,106.56 415.9,106.58 416.6,106.59 417.3,106.59 418,106.6 418.7,106.6 419.4,106.6 420.1,106.6 420.8,106.6 421.5,106.6 422.2,106.6 422.9,106.6 423.6,106.6 424.3,106.6 425,106.6 425.7,106.6 426.4,106.6" fill="none" stroke="#ff3cff" stroke-width="0.6" stroke-linejoin="round"/>
<polyline points="349.4,106.6 350.1,106.6 350.8,106.6 351.5,106.6 352.2,106.6 352.9,106.6 353.6,106.6 354.3,106.6 355,106.6 355.7,106.6 356.4,106.6 357.1,106.6 357.8,106.6 358.5,106.6 359.2,106.6 359.9,106.6 360.6,106.6 361.3,106.6 362,106.6 362.7,106.6 363.4,106.6 364.1,106.6 364.8,106.6 365.5,106.6 366.2,106.6 366.9,106.6 367.6,106.6 368.3,106.6 369,106.6 369.7,106.6 370.4,106.6 371.1,106.6 371.8,106.59 372.5,106.59 373.2,106.59 373.9,106.58 374.6,106.56 375.3,106.54 376,106.5 376.7,106.45 377.4,106.37 378.1,106.25 378.8,106.09 379.5,105.87 380.2,105.6 380.9,105.15 381.6,104.42 382.3,103.57 383,102.83 383.7,101.25 384.4,99.62 385.1,97.72 385.8,95.38 386.5,92.37 387.2,90.15 387.9,85.53 388.6,83.09 389.3,77.99 390,71.93 390.7,67.5 391.4,65.34 392.1,55.97 392.8,53.79 393.5,50.45 394.2,52.5 394.9,44.93 395.6,46.23 396.3,41.22 397,43.55 397.7,41.17 398.4,44.95 399.1,46.49 399.8,54.07 400.5,55.68 401.2,59.56 401.9,63.82 402.6,71.55 403.3,73.63 404,78.22 404.7,83.3 405.4,86.35 406.1,90.06 406.8,94.12 407.5,96.66 408.2,99.27 408.9,100.3 409.6,101.74 410.3,103.22 411,104.02 411.7,104.72 412.4,105.25 413.1,105.73 413.8,105.96 414.5,106.17 415.2,106.31 415.9,106.41 416.6,106.47 417.3,106.52 418,106.55 418.7,106.57 419.4,106.58 420.1,106.59 420.8,106.59 421.5,106.6 422.2,106.6 422.9,106.6 423.6,106.6 424.3,106.6 425,106.6 425.7,106.6 426.4,106.6" fill="none" stroke="#ff8a2a" stroke-width="0.6" stroke-linejoin="round"/>
<rect x="328.6" y="36.6" width="3.8" height="4" fill="#ff2a2a" stroke="#555" stroke-width="0.3"/>
<rect x="328.6" y="41.2" width="3.8" height="4" fill="#3ce83c" stroke="#555" stroke-width="0.3"/>
<rect x="328.6" y="45.8" width="3.8" height="4" fill="#ff3cff" stroke="#555" stroke-width="0.3"/>
<rect x="328.6" y="50.4" width="3.8" height="4" fill="#ff8a2a" stroke="#555" stroke-width="0.3"/>
<rect x="430.6" y="35.6" width="3.8" height="4" fill="#ff2a2a" stroke="#555" stroke-width="0.3"/>
<rect x="430.6" y="41" width="3.8" height="4" fill="#3ce83c" stroke="#555" stroke-width="0.3"/>
<rect x="430.6" y="46.4" width="3.8" height="4" fill="#ff3cff" stroke="#555" stroke-width="0.3"/>
<rect x="430.6" y="51.8" width="3.8" height="4" fill="#ff8a2a" stroke="#555" stroke-width="0.3"/>
<text x="435.4" y="39.83" font-size="5.65" text-anchor="start" font-weight="normal" fill="#1a1a1a" transform="translate(0 -4.54) scale(1 1.12)">Hypoxia 0h</text>
<text x="435.4" y="45.23" font-size="5.65" text-anchor="start" font-weight="normal" fill="#1a1a1a" transform="translate(0 -5.18) scale(1 1.12)">Hypoxia 12h</text>
<text x="435.4" y="50.63" font-size="5.65" text-anchor="start" font-weight="normal" fill="#1a1a1a" transform="translate(0 -5.83) scale(1 1.12)">Hypoxia 24h</text>
<text x="435.4" y="56.03" font-size="5.65" text-anchor="start" font-weight="normal" fill="#1a1a1a" transform="translate(0 -6.48) scale(1 1.12)">Hypoxia 48h</text>
<text x="20.6" y="185.8" font-size="8.6" text-anchor="start" font-weight="normal" fill="#111" transform="translate(0 -21.92) scale(1 1.12)">Hypoxia</text>
<text x="57.9" y="185.8" font-size="8.6" text-anchor="middle" font-weight="normal" fill="#111" transform="translate(0 -21.92) scale(1 1.12)">0h</text>
<text x="78.4" y="185.8" font-size="8.6" text-anchor="middle" font-weight="normal" fill="#111" transform="translate(0 -21.92) scale(1 1.12)">12h</text>
<text x="97" y="185.8" font-size="8.6" text-anchor="middle" font-weight="normal" fill="#111" transform="translate(0 -21.92) scale(1 1.12)">24h</text>
<text x="116.7" y="185.8" font-size="8.6" text-anchor="middle" font-weight="normal" fill="#111" transform="translate(0 -21.92) scale(1 1.12)">48h</text>
<text x="133.1" y="185.8" font-size="8.6" text-anchor="middle" font-weight="normal" fill="#111" transform="translate(0 -21.92) scale(1 1.12)">0h</text>
<text x="153.3" y="185.8" font-size="8.6" text-anchor="middle" font-weight="normal" fill="#111" transform="translate(0 -21.92) scale(1 1.12)">12h</text>
<text x="171.8" y="185.8" font-size="8.6" text-anchor="middle" font-weight="normal" fill="#111" transform="translate(0 -21.92) scale(1 1.12)">24h</text>
<text x="191.4" y="185.8" font-size="8.6" text-anchor="middle" font-weight="normal" fill="#111" transform="translate(0 -21.92) scale(1 1.12)">48h</text>
<text x="201.8" y="190.8" font-size="8.6" text-anchor="start" font-weight="normal" fill="#111" transform="translate(0 -22.52) scale(1 1.12)">kDa</text>
<text x="46.4" y="201.99" font-size="10.1" text-anchor="end" font-weight="normal" fill="#111" transform="translate(0 -23.8) scale(1 1.12)">GCLM</text>
<text x="46.4" y="221.04" font-size="10.1" text-anchor="end" font-weight="normal" fill="#111" transform="translate(0 -26.09) scale(1 1.12)">GLS</text>
<text x="46.4" y="240.09" font-size="10.1" text-anchor="end" font-weight="normal" fill="#111" transform="translate(0 -28.37) scale(1 1.12)">GSR</text>
<text x="46.4" y="259.34" font-size="10.1" text-anchor="end" font-weight="normal" fill="#111" transform="translate(0 -30.68) scale(1 1.12)">GSS</text>
<text x="46.4" y="278.79" font-size="10.1" text-anchor="end" font-weight="normal" fill="#111" transform="translate(0 -33.02) scale(1 1.12)">GDH</text>
<text x="46.4" y="296.84" font-size="10.1" text-anchor="end" font-weight="normal" fill="#111" transform="translate(0 -35.18) scale(1 1.12)">β-actin</text>
<clipPath id="cp1"><rect x="48.4" y="190.2" width="74.1" height="15.5"/></clipPath>
<g clip-path="url(#cp1)">
<rect x="48.4" y="190.2" width="74.1" height="15.5" fill="#d8d8d8"/>
<rect x="51.05" y="191.2" width="15.5" height="13.5" fill="#000" fill-opacity="0.42" filter="url(#bl3)"/>
<rect x="51.05" y="192" width="15.5" height="5" rx="2.5" fill="#000" fill-opacity="0.7" filter="url(#bl)"/>
<rect x="51.05" y="197.5" width="15.5" height="4" rx="2" fill="#000" fill-opacity="0.4" filter="url(#bl)"/>
<rect x="51.05" y="201" width="15.5" height="3" rx="1.5" fill="#000" fill-opacity="0.3" filter="url(#bl)"/>
<rect x="69.25" y="191.2" width="15.5" height="13.5" fill="#000" fill-opacity="0.22" filter="url(#bl3)"/>
<rect x="69.25" y="194" width="15.5" height="5" rx="2.5" fill="#000" fill-opacity="0.12" filter="url(#bl)"/>
<rect x="86.85" y="191.2" width="15.5" height="13.5" fill="#000" fill-opacity="0.15" filter="url(#bl3)"/>
<rect x="86.85" y="194" width="15.5" height="5" rx="2.5" fill="#000" fill-opacity="0.06" filter="url(#bl)"/>
<rect x="104.85" y="191.2" width="15.5" height="13.5" fill="#000" fill-opacity="0.1" filter="url(#bl3)"/>
<rect x="104.85" y="194.5" width="15.5" height="4" rx="2" fill="#000" fill-opacity="0.03" filter="url(#bl)"/>
</g>
<rect x="48.4" y="190.2" width="74.1" height="15.5" fill="none" stroke="#4a4a4a" stroke-width="1"/>
<clipPath id="cp2"><rect x="48.4" y="209.6" width="74.1" height="14.8"/></clipPath>
<g clip-path="url(#cp2)">
<rect x="48.4" y="209.6" width="74.1" height="14.8" fill="#e8e8e8"/>
<rect x="50.55" y="210.6" width="16.5" height="12.8" fill="#000" fill-opacity="0.08" filter="url(#bl3)"/>
<rect x="50.55" y="212.8" width="16.5" height="2" rx="1" fill="#000" fill-opacity="0.3" filter="url(#bl)"/>
<rect x="50.55" y="215.8" width="16.5" height="3.6" rx="1.8" fill="#000" fill-opacity="0.78" filter="url(#bl)"/>
<rect x="69" y="210.6" width="16" height="12.8" fill="#000" fill-opacity="0.08" filter="url(#bl3)"/>
<rect x="69" y="212.8" width="16" height="2" rx="1" fill="#000" fill-opacity="0.3" filter="url(#bl)"/>
<rect x="69" y="216" width="16" height="3.6" rx="1.8" fill="#000" fill-opacity="0.72" filter="url(#bl)"/>
<rect x="86.6" y="210.6" width="16" height="12.8" fill="#000" fill-opacity="0.06" filter="url(#bl3)"/>
<rect x="86.6" y="212.8" width="16" height="2" rx="1" fill="#000" fill-opacity="0.28" filter="url(#bl)"/>
<rect x="86.6" y="216.1" width="16" height="3.4" rx="1.7" fill="#000" fill-opacity="0.66" filter="url(#bl)"/>
<rect x="104.6" y="210.6" width="16" height="12.8" fill="#000" fill-opacity="0.04" filter="url(#bl3)"/>
<rect x="104.6" y="212.9" width="16" height="1.8" rx="0.9" fill="#000" fill-opacity="0.2" filter="url(#bl)"/>
<rect x="104.6" y="216.3" width="16" height="3" rx="1.5" fill="#000" fill-opacity="0.4" filter="url(#bl)"/>
</g>
<rect x="48.4" y="209.6" width="74.1" height="14.8" fill="none" stroke="#4a4a4a" stroke-width="1"/>
<clipPath id="cp3"><rect x="48.4" y="228.6" width="74.1" height="14.9"/></clipPath>
<g clip-path="url(#cp3)">
<rect x="48.4" y="228.6" width="74.1" height="14.9" fill="#e2e2e2"/>
<rect x="49.9" y="229.6" width="17.8" height="12.9" fill="#000" fill-opacity="0.05" filter="url(#bl3)"/>
<rect x="49.9" y="235.6" width="17.8" height="2.6" rx="1.3" fill="#000" fill-opacity="1" filter="url(#bl)"/>
<rect x="68.1" y="229.6" width="17.8" height="12.9" fill="#000" fill-opacity="0.05" filter="url(#bl3)"/>
<rect x="68.1" y="235.6" width="17.8" height="2.6" rx="1.3" fill="#000" fill-opacity="1" filter="url(#bl)"/>
<rect x="85.7" y="229.6" width="17.8" height="12.9" fill="#000" fill-opacity="0.05" filter="url(#bl3)"/>
<rect x="85.7" y="235.6" width="17.8" height="2.6" rx="1.3" fill="#000" fill-opacity="1" filter="url(#bl)"/>
<rect x="103.7" y="229.6" width="17.8" height="12.9" fill="#000" fill-opacity="0.05" filter="url(#bl3)"/>
<rect x="103.7" y="235.6" width="17.8" height="2.6" rx="1.3" fill="#000" fill-opacity="1" filter="url(#bl)"/>
</g>
<rect x="48.4" y="228.6" width="74.1" height="14.9" fill="none" stroke="#4a4a4a" stroke-width="1"/>
<clipPath id="cp4"><rect x="48.4" y="247.9" width="74.1" height="14.8"/></clipPath>
<g clip-path="url(#cp4)">
<rect x="48.4" y="247.9" width="74.1" height="14.8" fill="#e8e8e8"/>
<rect x="49.55" y="248.9" width="18.5" height="12.8" fill="#000" fill-opacity="0.03" filter="url(#bl3)"/>
<rect x="49.55" y="255.6" width="18.5" height="2.8" rx="1.4" fill="#000" fill-opacity="1" filter="url(#bl)"/>
<rect x="67.75" y="248.9" width="18.5" height="12.8" fill="#000" fill-opacity="0.03" filter="url(#bl3)"/>
<rect x="67.75" y="255.6" width="18.5" height="2.8" rx="1.4" fill="#000" fill-opacity="1" filter="url(#bl)"/>
<rect x="85.35" y="248.9" width="18.5" height="12.8" fill="#000" fill-opacity="0.03" filter="url(#bl3)"/>
<rect x="85.35" y="255.6" width="18.5" height="2.8" rx="1.4" fill="#000" fill-opacity="1" filter="url(#bl)"/>
<rect x="103.35" y="248.9" width="18.5" height="12.8" fill="#000" fill-opacity="0.03" filter="url(#bl3)"/>
<rect x="103.35" y="255.6" width="18.5" height="2.8" rx="1.4" fill="#000" fill-opacity="1" filter="url(#bl)"/>
</g>
<rect x="48.4" y="247.9" width="74.1" height="14.8" fill="none" stroke="#4a4a4a" stroke-width="1"/>
<clipPath id="cp5"><rect x="48.4" y="267.4" width="74.1" height="14.7"/></clipPath>
<g clip-path="url(#cp5)">
<rect x="48.4" y="267.4" width="74.1" height="14.7" fill="#dedede"/>
<rect x="49.9" y="268.4" width="17.8" height="12.7" fill="#000" fill-opacity="0.06" filter="url(#bl3)"/>
<rect x="49.9" y="273.8" width="17.8" height="2.4" rx="1.2" fill="#000" fill-opacity="1" filter="url(#bl)"/>
<rect x="68.1" y="268.4" width="17.8" height="12.7" fill="#000" fill-opacity="0.06" filter="url(#bl3)"/>
<rect x="68.1" y="273.8" width="17.8" height="2.4" rx="1.2" fill="#000" fill-opacity="1" filter="url(#bl)"/>
<rect x="85.7" y="268.4" width="17.8" height="12.7" fill="#000" fill-opacity="0.06" filter="url(#bl3)"/>
<rect x="85.7" y="273.8" width="17.8" height="2.4" rx="1.2" fill="#000" fill-opacity="1" filter="url(#bl)"/>
<rect x="103.7" y="268.4" width="17.8" height="12.7" fill="#000" fill-opacity="0.06" filter="url(#bl3)"/>
<rect x="103.7" y="273.8" width="17.8" height="2.4" rx="1.2" fill="#000" fill-opacity="1" filter="url(#bl)"/>
</g>
<rect x="48.4" y="267.4" width="74.1" height="14.7" fill="none" stroke="#4a4a4a" stroke-width="1"/>
<clipPath id="cp6"><rect x="48.4" y="286.4" width="74.1" height="14.8"/></clipPath>
<g clip-path="url(#cp6)">
<rect x="48.4" y="286.4" width="74.1" height="14.8" fill="#e4e4e4"/>
<rect x="50.3" y="287.4" width="17" height="12.8" fill="#000" fill-opacity="0.03" filter="url(#bl3)"/>
<rect x="50.3" y="293.3" width="17" height="3.4" rx="1.7" fill="#000" fill-opacity="1" filter="url(#bl)"/>
<rect x="68.5" y="287.4" width="17" height="12.8" fill="#000" fill-opacity="0.03" filter="url(#bl3)"/>
<rect x="68.5" y="293.3" width="17" height="3.4" rx="1.7" fill="#000" fill-opacity="1" filter="url(#bl)"/>
<rect x="86.1" y="287.4" width="17" height="12.8" fill="#000" fill-opacity="0.03" filter="url(#bl3)"/>
<rect x="86.1" y="293.3" width="17" height="3.4" rx="1.7" fill="#000" fill-opacity="1" filter="url(#bl)"/>
<rect x="104.1" y="287.4" width="17" height="12.8" fill="#000" fill-opacity="0.03" filter="url(#bl3)"/>
<rect x="104.1" y="293.3" width="17" height="3.4" rx="1.7" fill="#000" fill-opacity="1" filter="url(#bl)"/>
</g>
<rect x="48.4" y="286.4" width="74.1" height="14.8" fill="none" stroke="#4a4a4a" stroke-width="1"/>
<clipPath id="cp7"><rect x="126.8" y="190.2" width="73.8" height="15.5"/></clipPath>
<g clip-path="url(#cp7)">
<rect x="126.8" y="190.2" width="73.8" height="15.5" fill="#d0d0d0"/>
<rect x="130.3" y="191.2" width="15" height="13.5" fill="#000" fill-opacity="0.45" filter="url(#bl3)"/>
<rect x="130.3" y="197.2" width="15" height="2.8" rx="1.4" fill="#000" fill-opacity="1" filter="url(#bl)"/>
<rect x="130.3" y="192.75" width="15" height="3.5" rx="1.75" fill="#000" fill-opacity="0.2" filter="url(#bl)"/>
<rect x="148.3" y="191.2" width="15" height="13.5" fill="#000" fill-opacity="0.4" filter="url(#bl3)"/>
<rect x="148.3" y="197.5" width="15" height="2.6" rx="1.3" fill="#000" fill-opacity="0.65" filter="url(#bl)"/>
<rect x="148.3" y="193.2" width="15" height="2.6" rx="1.3" fill="#000" fill-opacity="0.35" filter="url(#bl)"/>
<rect x="165.75" y="191.2" width="14.5" height="13.5" fill="#000" fill-opacity="0.36" filter="url(#bl3)"/>
<rect x="165.75" y="197.5" width="14.5" height="3" rx="1.5" fill="#000" fill-opacity="0.15" filter="url(#bl)"/>
<rect x="183.15" y="191.2" width="14.5" height="13.5" fill="#000" fill-opacity="0.32" filter="url(#bl3)"/>
<rect x="183.15" y="197.5" width="14.5" height="3" rx="1.5" fill="#000" fill-opacity="0.1" filter="url(#bl)"/>
</g>
<rect x="126.8" y="190.2" width="73.8" height="15.5" fill="none" stroke="#4a4a4a" stroke-width="1"/>
<clipPath id="cp8"><rect x="126.8" y="209.6" width="73.8" height="14.8"/></clipPath>
<g clip-path="url(#cp8)">
<rect x="126.8" y="209.6" width="73.8" height="14.8" fill="#ededed"/>
<rect x="129.3" y="210.6" width="17" height="12.8" fill="#000" fill-opacity="0.04" filter="url(#bl3)"/>
<rect x="129.3" y="214.5" width="17" height="2.4" rx="1.2" fill="#000" fill-opacity="0.75" filter="url(#bl)"/>
<rect x="129.3" y="217" width="17" height="3.2" rx="1.6" fill="#000" fill-opacity="0.95" filter="url(#bl)"/>
<rect x="147.8" y="210.6" width="16" height="12.8" fill="#000" fill-opacity="0.04" filter="url(#bl3)"/>
<rect x="147.8" y="214.5" width="16" height="2.4" rx="1.2" fill="#000" fill-opacity="0.72" filter="url(#bl)"/>
<rect x="147.8" y="217" width="16" height="3.2" rx="1.6" fill="#000" fill-opacity="0.88" filter="url(#bl)"/>
<rect x="165.25" y="210.6" width="15.5" height="12.8" fill="#000" fill-opacity="0.03" filter="url(#bl3)"/>
<rect x="165.25" y="214.6" width="15.5" height="2.2" rx="1.1" fill="#000" fill-opacity="0.55" filter="url(#bl)"/>
<rect x="165.25" y="217.1" width="15.5" height="3" rx="1.5" fill="#000" fill-opacity="0.75" filter="url(#bl)"/>
<rect x="182.9" y="210.6" width="15" height="12.8" fill="#000" fill-opacity="0.02" filter="url(#bl3)"/>
<rect x="182.9" y="214.7" width="15" height="2" rx="1" fill="#000" fill-opacity="0.3" filter="url(#bl)"/>
<rect x="182.9" y="217.3" width="15" height="2.6" rx="1.3" fill="#000" fill-opacity="0.45" filter="url(#bl)"/>
</g>
<rect x="126.8" y="209.6" width="73.8" height="14.8" fill="none" stroke="#4a4a4a" stroke-width="1"/>
<clipPath id="cp9"><rect x="126.8" y="228.6" width="73.8" height="14.9"/></clipPath>
<g clip-path="url(#cp9)">
<rect x="126.8" y="228.6" width="73.8" height="14.9" fill="#e2e2e2"/>
<rect x="128.8" y="229.6" width="18" height="12.9" fill="#000" fill-opacity="0.05" filter="url(#bl3)"/>
<rect x="128.8" y="235.3" width="18" height="2.6" rx="1.3" fill="#000" fill-opacity="1" filter="url(#bl)"/>
<rect x="146.8" y="229.6" width="18" height="12.9" fill="#000" fill-opacity="0.05" filter="url(#bl3)"/>
<rect x="146.8" y="235.3" width="18" height="2.6" rx="1.3" fill="#000" fill-opacity="1" filter="url(#bl)"/>
<rect x="164" y="229.6" width="18" height="12.9" fill="#000" fill-opacity="0.05" filter="url(#bl3)"/>
<rect x="164" y="235.3" width="18" height="2.6" rx="1.3" fill="#000" fill-opacity="1" filter="url(#bl)"/>
<rect x="181.4" y="229.6" width="18" height="12.9" fill="#000" fill-opacity="0.05" filter="url(#bl3)"/>
<rect x="181.4" y="235.3" width="18" height="2.6" rx="1.3" fill="#000" fill-opacity="1" filter="url(#bl)"/>
</g>
<rect x="126.8" y="228.6" width="73.8" height="14.9" fill="none" stroke="#4a4a4a" stroke-width="1"/>
<clipPath id="cp10"><rect x="126.8" y="247.9" width="73.8" height="14.8"/></clipPath>
<g clip-path="url(#cp10)">
<rect x="126.8" y="247.9" width="73.8" height="14.8" fill="#ebebeb"/>
<rect x="128.4" y="248.9" width="18.8" height="12.8" fill="#000" fill-opacity="0.03" filter="url(#bl3)"/>
<rect x="128.4" y="254.8" width="18.8" height="2.8" rx="1.4" fill="#000" fill-opacity="1" filter="url(#bl)"/>
<rect x="146.4" y="248.9" width="18.8" height="12.8" fill="#000" fill-opacity="0.03" filter="url(#bl3)"/>
<rect x="146.4" y="254.8" width="18.8" height="2.8" rx="1.4" fill="#000" fill-opacity="1" filter="url(#bl)"/>
<rect x="163.6" y="248.9" width="18.8" height="12.8" fill="#000" fill-opacity="0.03" filter="url(#bl3)"/>
<rect x="163.6" y="254.8" width="18.8" height="2.8" rx="1.4" fill="#000" fill-opacity="1" filter="url(#bl)"/>
<rect x="181" y="248.9" width="18.8" height="12.8" fill="#000" fill-opacity="0.03" filter="url(#bl3)"/>
<rect x="181" y="254.8" width="18.8" height="2.8" rx="1.4" fill="#000" fill-opacity="1" filter="url(#bl)"/>
</g>
<rect x="126.8" y="247.9" width="73.8" height="14.8" fill="none" stroke="#4a4a4a" stroke-width="1"/>
<clipPath id="cp11"><rect x="126.8" y="267.4" width="73.8" height="14.7"/></clipPath>
<g clip-path="url(#cp11)">
<rect x="126.8" y="267.4" width="73.8" height="14.7" fill="#e2e2e2"/>
<rect x="129.05" y="268.4" width="17.5" height="12.7" fill="#000" fill-opacity="0.05" filter="url(#bl3)"/>
<rect x="129.05" y="273.5" width="17.5" height="2.2" rx="1.1" fill="#000" fill-opacity="1" filter="url(#bl)"/>
<rect x="147.05" y="268.4" width="17.5" height="12.7" fill="#000" fill-opacity="0.05" filter="url(#bl3)"/>
<rect x="147.05" y="273.5" width="17.5" height="2.2" rx="1.1" fill="#000" fill-opacity="1" filter="url(#bl)"/>
<rect x="164.25" y="268.4" width="17.5" height="12.7" fill="#000" fill-opacity="0.05" filter="url(#bl3)"/>
<rect x="164.25" y="273.5" width="17.5" height="2.2" rx="1.1" fill="#000" fill-opacity="1" filter="url(#bl)"/>
<rect x="181.65" y="268.4" width="17.5" height="12.7" fill="#000" fill-opacity="0.05" filter="url(#bl3)"/>
<rect x="181.65" y="273.5" width="17.5" height="2.2" rx="1.1" fill="#000" fill-opacity="1" filter="url(#bl)"/>
</g>
<rect x="126.8" y="267.4" width="73.8" height="14.7" fill="none" stroke="#4a4a4a" stroke-width="1"/>
<clipPath id="cp12"><rect x="126.8" y="286.4" width="73.8" height="14.8"/></clipPath>
<g clip-path="url(#cp12)">
<rect x="126.8" y="286.4" width="73.8" height="14.8" fill="#e6e6e6"/>
<rect x="129.05" y="287.4" width="17.5" height="12.8" fill="#000" fill-opacity="0.03" filter="url(#bl3)"/>
<rect x="129.05" y="291.9" width="17.5" height="3.4" rx="1.7" fill="#000" fill-opacity="1" filter="url(#bl)"/>
<rect x="147.05" y="287.4" width="17.5" height="12.8" fill="#000" fill-opacity="0.03" filter="url(#bl3)"/>
<rect x="147.05" y="291.9" width="17.5" height="3.4" rx="1.7" fill="#000" fill-opacity="1" filter="url(#bl)"/>
<rect x="164.25" y="287.4" width="17.5" height="12.8" fill="#000" fill-opacity="0.03" filter="url(#bl3)"/>
<rect x="164.25" y="291.9" width="17.5" height="3.4" rx="1.7" fill="#000" fill-opacity="1" filter="url(#bl)"/>
<rect x="181.65" y="287.4" width="17.5" height="12.8" fill="#000" fill-opacity="0.03" filter="url(#bl3)"/>
<rect x="181.65" y="291.9" width="17.5" height="3.4" rx="1.7" fill="#000" fill-opacity="1" filter="url(#bl)"/>
</g>
<rect x="126.8" y="286.4" width="73.8" height="14.8" fill="none" stroke="#4a4a4a" stroke-width="1"/>
<line x1="200.3" y1="195.5" x2="204.9" y2="195.5" stroke="#222" stroke-width="0.8"/>
<text x="205.3" y="198.52" font-size="8.4" text-anchor="start" font-weight="normal" fill="#111" transform="translate(0 -23.46) scale(1 1.12)">33</text>
<line x1="200.3" y1="222.7" x2="204.9" y2="222.7" stroke="#222" stroke-width="0.8"/>
<text x="205.3" y="225.72" font-size="8.4" text-anchor="start" font-weight="normal" fill="#111" transform="translate(0 -26.72) scale(1 1.12)">55</text>
<line x1="200.3" y1="240.3" x2="204.9" y2="240.3" stroke="#222" stroke-width="0.8"/>
<text x="205.3" y="243.32" font-size="8.4" text-anchor="start" font-weight="normal" fill="#111" transform="translate(0 -28.84) scale(1 1.12)">55</text>
<line x1="200.3" y1="257.7" x2="204.9" y2="257.7" stroke="#222" stroke-width="0.8"/>
<text x="205.3" y="260.72" font-size="8.4" text-anchor="start" font-weight="normal" fill="#111" transform="translate(0 -30.92) scale(1 1.12)">55</text>
<line x1="200.3" y1="276.6" x2="204.9" y2="276.6" stroke="#222" stroke-width="0.8"/>
<text x="205.3" y="279.62" font-size="8.4" text-anchor="start" font-weight="normal" fill="#111" transform="translate(0 -33.19) scale(1 1.12)">95</text>
<line x1="200.3" y1="298.1" x2="204.9" y2="298.1" stroke="#222" stroke-width="0.8"/>
<text x="205.3" y="301.12" font-size="8.4" text-anchor="start" font-weight="normal" fill="#111" transform="translate(0 -35.77) scale(1 1.12)">40</text>
<text x="90.3" y="314.87" font-size="10.2" text-anchor="middle" font-weight="bold" fill="#000" transform="translate(0 -37.34) scale(1 1.12)">H9C2</text>
<text x="161.8" y="314.47" font-size="10.2" text-anchor="middle" font-weight="bold" fill="#000" transform="translate(0 -37.3) scale(1 1.12)">NRVM</text>
<line x1="253.6" y1="292.1" x2="253.6" y2="165.5" stroke="#222" stroke-width="0.9"/>
<line x1="248.6" y1="292.1" x2="253.6" y2="292.1" stroke="#222" stroke-width="0.9"/>
<text x="248.3" y="295.09" font-size="8.3" text-anchor="end" font-weight="normal" fill="#111" transform="translate(0 -35.05) scale(1 1.12)">0.0</text>
<line x1="248.6" y1="266.78" x2="253.6" y2="266.78" stroke="#222" stroke-width="0.9"/>
<text x="248.3" y="269.77" font-size="8.3" text-anchor="end" font-weight="normal" fill="#111" transform="translate(0 -32.01) scale(1 1.12)">0.2</text>
<line x1="248.6" y1="241.46" x2="253.6" y2="241.46" stroke="#222" stroke-width="0.9"/>
<text x="248.3" y="244.45" font-size="8.3" text-anchor="end" font-weight="normal" fill="#111" transform="translate(0 -28.98) scale(1 1.12)">0.4</text>
<line x1="248.6" y1="216.14" x2="253.6" y2="216.14" stroke="#222" stroke-width="0.9"/>
<text x="248.3" y="219.13" font-size="8.3" text-anchor="end" font-weight="normal" fill="#111" transform="translate(0 -25.94) scale(1 1.12)">0.6</text>
<line x1="248.6" y1="190.82" x2="253.6" y2="190.82" stroke="#222" stroke-width="0.9"/>
<text x="248.3" y="193.81" font-size="8.3" text-anchor="end" font-weight="normal" fill="#111" transform="translate(0 -22.9) scale(1 1.12)">0.8</text>
<line x1="248.6" y1="165.5" x2="253.6" y2="165.5" stroke="#222" stroke-width="0.9"/>
<text x="248.3" y="168.49" font-size="8.3" text-anchor="end" font-weight="normal" fill="#111" transform="translate(0 -19.86) scale(1 1.12)">1.0</text>
<text x="227.3" y="234.14" font-size="10.1" text-anchor="middle" font-weight="normal" fill="#111" transform="rotate(-90 227.3 230.5)">Relative protein level</text>
<text x="262.3" y="170.41" font-size="10.3" text-anchor="start" font-weight="bold" fill="#000" transform="translate(0 -20) scale(1 1.12)">H9C2</text>
<rect x="257.4" y="250.32" width="3.7" height="41.78" fill="#d9d9d9"/>
<line x1="259.25" y1="243.99" x2="259.25" y2="256.65" stroke="#222" stroke-width="0.5"/>
<line x1="257.65" y1="243.99" x2="260.85" y2="243.99" stroke="#222" stroke-width="0.5"/>
<line x1="257.65" y1="256.65" x2="260.85" y2="256.65" stroke="#222" stroke-width="0.5"/>
<circle cx="259.14" cy="243.36" r="1.65" fill="#000"/>
<circle cx="259.21" cy="248.23" r="1.65" fill="#000"/>
<circle cx="259.54" cy="252.76" r="1.65" fill="#000"/>
<circle cx="259.04" cy="256.94" r="1.65" fill="#000"/>
<rect x="265.7" y="268.05" width="3.7" height="24.05" fill="#f0999c"/>
<line x1="267.55" y1="262.98" x2="267.55" y2="273.11" stroke="#222" stroke-width="0.5"/>
<line x1="265.95" y1="262.98" x2="269.15" y2="262.98" stroke="#222" stroke-width="0.5"/>
<line x1="265.95" y1="273.11" x2="269.15" y2="273.11" stroke="#222" stroke-width="0.5"/>
<rect x="266.26" y="260.83" width="3.3" height="3.3" fill="#000"/>
<rect x="265.88" y="264.72" width="3.3" height="3.3" fill="#000"/>
<rect x="265.49" y="268.35" width="3.3" height="3.3" fill="#000"/>
<rect x="265.8" y="271.69" width="3.3" height="3.3" fill="#000"/>
<rect x="274" y="274.38" width="3.7" height="17.72" fill="#eeaaf0"/>
<line x1="275.85" y1="269.31" x2="275.85" y2="279.44" stroke="#222" stroke-width="0.5"/>
<line x1="274.25" y1="269.31" x2="277.45" y2="269.31" stroke="#222" stroke-width="0.5"/>
<line x1="274.25" y1="279.44" x2="277.45" y2="279.44" stroke="#222" stroke-width="0.5"/>
<polygon points="275.88,266.83 273.98,270.13 277.78,270.13" fill="#000"/>
<polygon points="276.01,270.72 274.11,274.02 277.91,274.02" fill="#000"/>
<polygon points="275.94,274.35 274.05,277.65 277.84,277.65" fill="#000"/>
<polygon points="275.92,277.69 274.03,280.99 277.82,280.99" fill="#000"/>
<rect x="282.3" y="280.71" width="3.7" height="11.39" fill="#efbf80"/>
<line x1="284.15" y1="274.38" x2="284.15" y2="287.04" stroke="#222" stroke-width="0.5"/>
<line x1="282.55" y1="274.38" x2="285.75" y2="274.38" stroke="#222" stroke-width="0.5"/>
<line x1="282.55" y1="287.04" x2="285.75" y2="287.04" stroke="#222" stroke-width="0.5"/>
<polygon points="284.3,275.72 282.41,272.42 286.2,272.42" fill="#000"/>
<polygon points="283.81,280.6 281.92,277.3 285.71,277.3" fill="#000"/>
<polygon points="283.75,285.12 281.86,281.82 285.65,281.82" fill="#000"/>
<polygon points="284.56,289.3 282.67,286 286.46,286" fill="#000"/>
<rect x="296.15" y="232.6" width="3.7" height="59.5" fill="#d9d9d9"/>
<line x1="298" y1="225" x2="298" y2="240.19" stroke="#222" stroke-width="0.5"/>
<line x1="296.4" y1="225" x2="299.6" y2="225" stroke="#222" stroke-width="0.5"/>
<line x1="296.4" y1="240.19" x2="299.6" y2="240.19" stroke="#222" stroke-width="0.5"/>
<circle cx="297.93" cy="224.24" r="1.65" fill="#000"/>
<circle cx="298.28" cy="230.09" r="1.65" fill="#000"/>
<circle cx="298.16" cy="235.52" r="1.65" fill="#000"/>
<circle cx="298" cy="240.54" r="1.65" fill="#000"/>
<rect x="304.45" y="243.99" width="3.7" height="48.11" fill="#f0999c"/>
<line x1="306.3" y1="237.66" x2="306.3" y2="250.32" stroke="#222" stroke-width="0.5"/>
<line x1="304.7" y1="237.66" x2="307.9" y2="237.66" stroke="#222" stroke-width="0.5"/>
<line x1="304.7" y1="250.32" x2="307.9" y2="250.32" stroke="#222" stroke-width="0.5"/>
<rect x="304.94" y="235.38" width="3.3" height="3.3" fill="#000"/>
<rect x="304.81" y="240.25" width="3.3" height="3.3" fill="#000"/>
<rect x="304.52" y="244.78" width="3.3" height="3.3" fill="#000"/>
<rect x="304.77" y="248.96" width="3.3" height="3.3" fill="#000"/>
<rect x="312.75" y="254.12" width="3.7" height="37.98" fill="#eeaaf0"/>
<line x1="314.6" y1="249.06" x2="314.6" y2="259.18" stroke="#222" stroke-width="0.5"/>
<line x1="313" y1="249.06" x2="316.2" y2="249.06" stroke="#222" stroke-width="0.5"/>
<line x1="313" y1="259.18" x2="316.2" y2="259.18" stroke="#222" stroke-width="0.5"/>
<polygon points="314.81,246.57 312.91,249.87 316.71,249.87" fill="#000"/>
<polygon points="314.98,250.47 313.08,253.77 316.87,253.77" fill="#000"/>
<polygon points="315.01,254.09 313.11,257.39 316.9,257.39" fill="#000"/>
<polygon points="314.72,257.43 312.83,260.73 316.62,260.73" fill="#000"/>
<rect x="321.05" y="266.78" width="3.7" height="25.32" fill="#efbf80"/>
<line x1="322.9" y1="260.45" x2="322.9" y2="273.11" stroke="#222" stroke-width="0.5"/>
<line x1="321.3" y1="260.45" x2="324.5" y2="260.45" stroke="#222" stroke-width="0.5"/>
<line x1="321.3" y1="273.11" x2="324.5" y2="273.11" stroke="#222" stroke-width="0.5"/>
<polygon points="322.62,261.8 320.73,258.5 324.52,258.5" fill="#000"/>
<polygon points="323,266.67 321.1,263.37 324.9,263.37" fill="#000"/>
<polygon points="323.05,271.2 321.15,267.9 324.94,267.9" fill="#000"/>
<polygon points="322.91,275.37 321.01,272.07 324.81,272.07" fill="#000"/>
<rect x="334.9" y="221.2" width="3.7" height="70.9" fill="#d9d9d9"/>
<line x1="336.75" y1="213.61" x2="336.75" y2="228.8" stroke="#222" stroke-width="0.5"/>
<line x1="335.15" y1="213.61" x2="338.35" y2="213.61" stroke="#222" stroke-width="0.5"/>
<line x1="335.15" y1="228.8" x2="338.35" y2="228.8" stroke="#222" stroke-width="0.5"/>
<circle cx="336.81" cy="212.85" r="1.65" fill="#000"/>
<circle cx="336.63" cy="218.7" r="1.65" fill="#000"/>
<circle cx="336.77" cy="224.13" r="1.65" fill="#000"/>
<circle cx="336.54" cy="229.14" r="1.65" fill="#000"/>
<rect x="343.2" y="226.27" width="3.7" height="65.83" fill="#f0999c"/>
<line x1="345.05" y1="219.94" x2="345.05" y2="232.6" stroke="#222" stroke-width="0.5"/>
<line x1="343.45" y1="219.94" x2="346.65" y2="219.94" stroke="#222" stroke-width="0.5"/>
<line x1="343.45" y1="232.6" x2="346.65" y2="232.6" stroke="#222" stroke-width="0.5"/>
<rect x="343.73" y="217.66" width="3.3" height="3.3" fill="#000"/>
<rect x="343.26" y="222.53" width="3.3" height="3.3" fill="#000"/>
<rect x="343.72" y="227.06" width="3.3" height="3.3" fill="#000"/>
<rect x="343.48" y="231.23" width="3.3" height="3.3" fill="#000"/>
<rect x="351.5" y="225" width="3.7" height="67.1" fill="#eeaaf0"/>
<line x1="353.35" y1="216.14" x2="353.35" y2="233.86" stroke="#222" stroke-width="0.5"/>
<line x1="351.75" y1="216.14" x2="354.95" y2="216.14" stroke="#222" stroke-width="0.5"/>
<line x1="351.75" y1="233.86" x2="354.95" y2="233.86" stroke="#222" stroke-width="0.5"/>
<polygon points="353.36,213.27 351.46,216.57 355.26,216.57" fill="#000"/>
<polygon points="353.55,220.1 351.66,223.4 355.45,223.4" fill="#000"/>
<polygon points="353.55,226.43 351.65,229.73 355.44,229.73" fill="#000"/>
<polygon points="352.96,232.28 351.06,235.58 354.86,235.58" fill="#000"/>
<rect x="359.8" y="227.53" width="3.7" height="64.57" fill="#efbf80"/>
<line x1="361.65" y1="221.2" x2="361.65" y2="233.86" stroke="#222" stroke-width="0.5"/>
<line x1="360.05" y1="221.2" x2="363.25" y2="221.2" stroke="#222" stroke-width="0.5"/>
<line x1="360.05" y1="233.86" x2="363.25" y2="233.86" stroke="#222" stroke-width="0.5"/>
<polygon points="361.51,222.55 359.61,219.25 363.4,219.25" fill="#000"/>
<polygon points="361.49,227.43 359.6,224.13 363.39,224.13" fill="#000"/>
<polygon points="361.56,231.95 359.66,228.65 363.45,228.65" fill="#000"/>
<polygon points="361.85,236.13 359.95,232.83 363.75,232.83" fill="#000"/>
<rect x="373.65" y="199.68" width="3.7" height="92.42" fill="#d9d9d9"/>
<line x1="375.5" y1="192.09" x2="375.5" y2="207.28" stroke="#222" stroke-width="0.5"/>
<line x1="373.9" y1="192.09" x2="377.1" y2="192.09" stroke="#222" stroke-width="0.5"/>
<line x1="373.9" y1="207.28" x2="377.1" y2="207.28" stroke="#222" stroke-width="0.5"/>
<circle cx="375.14" cy="191.33" r="1.65" fill="#000"/>
<circle cx="375.11" cy="197.18" r="1.65" fill="#000"/>
<circle cx="375.3" cy="202.61" r="1.65" fill="#000"/>
<circle cx="375.66" cy="207.62" r="1.65" fill="#000"/>
<rect x="381.95" y="194.62" width="3.7" height="97.48" fill="#f0999c"/>
<line x1="383.8" y1="187.02" x2="383.8" y2="202.21" stroke="#222" stroke-width="0.5"/>
<line x1="382.2" y1="187.02" x2="385.4" y2="187.02" stroke="#222" stroke-width="0.5"/>
<line x1="382.2" y1="202.21" x2="385.4" y2="202.21" stroke="#222" stroke-width="0.5"/>
<rect x="382.51" y="184.61" width="3.3" height="3.3" fill="#000"/>
<rect x="382.17" y="190.46" width="3.3" height="3.3" fill="#000"/>
<rect x="382.26" y="195.89" width="3.3" height="3.3" fill="#000"/>
<rect x="382.43" y="200.91" width="3.3" height="3.3" fill="#000"/>
<rect x="390.25" y="185.76" width="3.7" height="106.34" fill="#eeaaf0"/>
<line x1="392.1" y1="178.16" x2="392.1" y2="193.35" stroke="#222" stroke-width="0.5"/>
<line x1="390.5" y1="178.16" x2="393.7" y2="178.16" stroke="#222" stroke-width="0.5"/>
<line x1="390.5" y1="193.35" x2="393.7" y2="193.35" stroke="#222" stroke-width="0.5"/>
<polygon points="392.1,175.42 390.21,178.72 394,178.72" fill="#000"/>
<polygon points="391.76,181.27 389.86,184.57 393.65,184.57" fill="#000"/>
<polygon points="392.39,186.7 390.49,190 394.29,190" fill="#000"/>
<polygon points="392.32,191.71 390.42,195.01 394.21,195.01" fill="#000"/>
<rect x="398.55" y="192.09" width="3.7" height="100.01" fill="#efbf80"/>
<line x1="400.4" y1="184.49" x2="400.4" y2="199.68" stroke="#222" stroke-width="0.5"/>
<line x1="398.8" y1="184.49" x2="402" y2="184.49" stroke="#222" stroke-width="0.5"/>
<line x1="398.8" y1="199.68" x2="402" y2="199.68" stroke="#222" stroke-width="0.5"/>
<polygon points="400.26,185.71 398.36,182.41 402.16,182.41" fill="#000"/>
<polygon points="400.33,191.56 398.43,188.26 402.23,188.26" fill="#000"/>
<polygon points="400.18,196.99 398.28,193.69 402.08,193.69" fill="#000"/>
<polygon points="400.6,202 398.71,198.7 402.5,198.7" fill="#000"/>
<rect x="412.4" y="228.8" width="3.7" height="63.3" fill="#d9d9d9"/>
<line x1="414.25" y1="223.74" x2="414.25" y2="233.86" stroke="#222" stroke-width="0.5"/>
<line x1="412.65" y1="223.74" x2="415.85" y2="223.74" stroke="#222" stroke-width="0.5"/>
<line x1="412.65" y1="233.86" x2="415.85" y2="233.86" stroke="#222" stroke-width="0.5"/>
<circle cx="414.64" cy="223.23" r="1.65" fill="#000"/>
<circle cx="413.88" cy="227.13" r="1.65" fill="#000"/>
<circle cx="414.4" cy="230.75" r="1.65" fill="#000"/>
<circle cx="413.92" cy="234.09" r="1.65" fill="#000"/>
<rect x="420.7" y="227.53" width="3.7" height="64.57" fill="#f0999c"/>
<line x1="422.55" y1="221.2" x2="422.55" y2="233.86" stroke="#222" stroke-width="0.5"/>
<line x1="420.95" y1="221.2" x2="424.15" y2="221.2" stroke="#222" stroke-width="0.5"/>
<line x1="420.95" y1="233.86" x2="424.15" y2="233.86" stroke="#222" stroke-width="0.5"/>
<rect x="420.63" y="218.92" width="3.3" height="3.3" fill="#000"/>
<rect x="421.26" y="223.8" width="3.3" height="3.3" fill="#000"/>
<rect x="420.82" y="228.32" width="3.3" height="3.3" fill="#000"/>
<rect x="421.26" y="232.5" width="3.3" height="3.3" fill="#000"/>
<rect x="429" y="238.93" width="3.7" height="53.17" fill="#eeaaf0"/>
<line x1="430.85" y1="233.86" x2="430.85" y2="243.99" stroke="#222" stroke-width="0.5"/>
<line x1="429.25" y1="233.86" x2="432.45" y2="233.86" stroke="#222" stroke-width="0.5"/>
<line x1="429.25" y1="243.99" x2="432.45" y2="243.99" stroke="#222" stroke-width="0.5"/>
<polygon points="431.02,231.38 429.12,234.68 432.91,234.68" fill="#000"/>
<polygon points="431.05,235.28 429.15,238.58 432.94,238.58" fill="#000"/>
<polygon points="430.57,238.9 428.67,242.2 432.47,242.2" fill="#000"/>
<polygon points="430.93,242.24 429.04,245.54 432.83,245.54" fill="#000"/>
<rect x="437.3" y="242.73" width="3.7" height="49.37" fill="#efbf80"/>
<line x1="439.15" y1="236.4" x2="439.15" y2="249.06" stroke="#222" stroke-width="0.5"/>
<line x1="437.55" y1="236.4" x2="440.75" y2="236.4" stroke="#222" stroke-width="0.5"/>
<line x1="437.55" y1="249.06" x2="440.75" y2="249.06" stroke="#222" stroke-width="0.5"/>
<polygon points="439.33,237.74 437.43,234.44 441.23,234.44" fill="#000"/>
<polygon points="438.81,242.62 436.92,239.32 440.71,239.32" fill="#000"/>
<polygon points="438.91,247.14 437.01,243.84 440.8,243.84" fill="#000"/>
<polygon points="439.32,251.32 437.42,248.02 441.21,248.02" fill="#000"/>
<line x1="253.6" y1="292.1" x2="445.5" y2="292.1" stroke="#222" stroke-width="0.9"/>
<line x1="271.7" y1="292.1" x2="271.7" y2="297.1" stroke="#222" stroke-width="0.9"/>
<line x1="310.45" y1="292.1" x2="310.45" y2="297.1" stroke="#222" stroke-width="0.9"/>
<line x1="349.2" y1="292.1" x2="349.2" y2="297.1" stroke="#222" stroke-width="0.9"/>
<line x1="387.95" y1="292.1" x2="387.95" y2="297.1" stroke="#222" stroke-width="0.9"/>
<line x1="426.7" y1="292.1" x2="426.7" y2="297.1" stroke="#222" stroke-width="0.9"/>
<text x="271.7" y="307.96" font-size="9.6" text-anchor="middle" font-weight="normal" fill="#111" transform="translate(0 -36.54) scale(1 1.12)">GCLM</text>
<text x="310.45" y="307.96" font-size="9.6" text-anchor="middle" font-weight="normal" fill="#111" transform="translate(0 -36.54) scale(1 1.12)">GLS</text>
<text x="349.2" y="307.96" font-size="9.6" text-anchor="middle" font-weight="normal" fill="#111" transform="translate(0 -36.54) scale(1 1.12)">GSR</text>
<text x="387.95" y="307.96" font-size="9.6" text-anchor="middle" font-weight="normal" fill="#111" transform="translate(0 -36.54) scale(1 1.12)">GSS</text>
<text x="426.7" y="307.96" font-size="9.6" text-anchor="middle" font-weight="normal" fill="#111" transform="translate(0 -36.54) scale(1 1.12)">GDH</text>
<polyline points="259.25,238.4 259.25,208.3 284.15,208.3 284.15,233.7" fill="none" stroke="#3a3a3a" stroke-width="0.8"/>
<text x="272.7" y="206.58" font-size="5.5" text-anchor="middle" fill="#222"><tspan font-weight="bold" font-style="italic">P</tspan> &lt; 0.0001</text>
<polyline points="259.25,238.4 259.25,221.7 275.85,221.7 275.85,239.6" fill="none" stroke="#3a3a3a" stroke-width="0.8"/>
<text x="268.05" y="220.73" font-size="4.25" text-anchor="middle" fill="#222"><tspan font-weight="bold" font-style="italic">P</tspan> = 0.0005</text>
<polyline points="259.25,238.4 259.25,234 267.55,234 267.55,248.9" fill="none" stroke="#3a3a3a" stroke-width="0.8"/>
<text x="263.9" y="232.43" font-size="4.25" text-anchor="middle" fill="#222"><tspan font-weight="bold" font-style="italic">P</tspan> = 0.0056</text>
<polyline points="298,215.6 298,193.7 322.9,193.7 322.9,227.9" fill="none" stroke="#3a3a3a" stroke-width="0.8"/>
<text x="311.45" y="191.88" font-size="5.5" text-anchor="middle" fill="#222"><tspan font-weight="bold" font-style="italic">P</tspan> &lt; 0.0001</text>
<polyline points="298,215.6 298,209.7 314.6,209.7 314.6,232.6" fill="none" stroke="#3a3a3a" stroke-width="0.8"/>
<text x="306.8" y="207.83" font-size="4.25" text-anchor="middle" fill="#222"><tspan font-weight="bold" font-style="italic">P</tspan> = 0.0038</text>
<rect x="254.2" y="312.7" width="129.2" height="16.4" fill="#fff" stroke="#555" stroke-width="0.7"/>
<rect x="257" y="315" width="8.1" height="3.8" fill="#d9d9d9"/>
<text x="270.8" y="319.51" font-size="7.25" text-anchor="start" font-weight="normal" fill="#111" transform="translate(0 -38.03) scale(1 1.12)">Hypoxia 0h</text>
<rect x="257" y="322.7" width="8.1" height="3.8" fill="#f0999c"/>
<text x="270.8" y="327.21" font-size="7.25" text-anchor="start" font-weight="normal" fill="#111" transform="translate(0 -38.95) scale(1 1.12)">Hypoxia 12h</text>
<rect x="322.7" y="315" width="8.1" height="3.8" fill="#eeaaf0"/>
<text x="337.4" y="319.51" font-size="7.25" text-anchor="start" font-weight="normal" fill="#111" transform="translate(0 -38.03) scale(1 1.12)">Hypoxia 24h</text>
<rect x="322.7" y="322.7" width="8.1" height="3.8" fill="#efbf80"/>
<text x="337.4" y="327.21" font-size="7.25" text-anchor="start" font-weight="normal" fill="#111" transform="translate(0 -38.95) scale(1 1.12)">Hypoxia 48h</text>
<line x1="494.7" y1="292.1" x2="494.7" y2="166.4" stroke="#222" stroke-width="0.9"/>
<line x1="489.7" y1="292.1" x2="494.7" y2="292.1" stroke="#222" stroke-width="0.9"/>
<text x="487.9" y="295.09" font-size="8.3" text-anchor="end" font-weight="normal" fill="#111" transform="translate(0 -35.05) scale(1 1.12)">0.0</text>
<line x1="489.7" y1="266.96" x2="494.7" y2="266.96" stroke="#222" stroke-width="0.9"/>
<text x="487.9" y="269.95" font-size="8.3" text-anchor="end" font-weight="normal" fill="#111" transform="translate(0 -32.04) scale(1 1.12)">0.2</text>
<line x1="489.7" y1="241.82" x2="494.7" y2="241.82" stroke="#222" stroke-width="0.9"/>
<text x="487.9" y="244.81" font-size="8.3" text-anchor="end" font-weight="normal" fill="#111" transform="translate(0 -29.02) scale(1 1.12)">0.4</text>
<line x1="489.7" y1="216.68" x2="494.7" y2="216.68" stroke="#222" stroke-width="0.9"/>
<text x="487.9" y="219.67" font-size="8.3" text-anchor="end" font-weight="normal" fill="#111" transform="translate(0 -26) scale(1 1.12)">0.6</text>
<line x1="489.7" y1="191.54" x2="494.7" y2="191.54" stroke="#222" stroke-width="0.9"/>
<text x="487.9" y="194.53" font-size="8.3" text-anchor="end" font-weight="normal" fill="#111" transform="translate(0 -22.98) scale(1 1.12)">0.8</text>
<line x1="489.7" y1="166.4" x2="494.7" y2="166.4" stroke="#222" stroke-width="0.9"/>
<text x="487.9" y="169.39" font-size="8.3" text-anchor="end" font-weight="normal" fill="#111" transform="translate(0 -19.97) scale(1 1.12)">1.0</text>
<text x="465" y="234.14" font-size="10.1" text-anchor="middle" font-weight="normal" fill="#111" transform="rotate(-90 465 230.5)">Relative protein level</text>
<text x="502.8" y="170.41" font-size="10.3" text-anchor="start" font-weight="bold" fill="#000" transform="translate(0 -20) scale(1 1.12)">NRVM</text>
<rect x="498.1" y="238.05" width="3.7" height="54.05" fill="#d9d9d9"/>
<line x1="499.95" y1="233.02" x2="499.95" y2="243.08" stroke="#222" stroke-width="0.5"/>
<line x1="498.35" y1="233.02" x2="501.55" y2="233.02" stroke="#222" stroke-width="0.5"/>
<line x1="498.35" y1="243.08" x2="501.55" y2="243.08" stroke="#222" stroke-width="0.5"/>
<circle cx="499.78" cy="232.52" r="1.65" fill="#000"/>
<circle cx="500.28" cy="236.39" r="1.65" fill="#000"/>
<circle cx="499.97" cy="239.98" r="1.65" fill="#000"/>
<circle cx="499.88" cy="243.3" r="1.65" fill="#000"/>
<rect x="506.35" y="263.19" width="3.7" height="28.91" fill="#f0999c"/>
<line x1="508.2" y1="253.13" x2="508.2" y2="273.25" stroke="#222" stroke-width="0.5"/>
<line x1="506.6" y1="253.13" x2="509.8" y2="253.13" stroke="#222" stroke-width="0.5"/>
<line x1="506.6" y1="273.25" x2="509.8" y2="273.25" stroke="#222" stroke-width="0.5"/>
<rect x="506.96" y="250.48" width="3.3" height="3.3" fill="#000"/>
<rect x="506.7" y="258.22" width="3.3" height="3.3" fill="#000"/>
<rect x="506.43" y="265.41" width="3.3" height="3.3" fill="#000"/>
<rect x="506.31" y="272.05" width="3.3" height="3.3" fill="#000"/>
<rect x="514.6" y="275.76" width="3.7" height="16.34" fill="#eeaaf0"/>
<line x1="516.45" y1="270.73" x2="516.45" y2="280.79" stroke="#222" stroke-width="0.5"/>
<line x1="514.85" y1="270.73" x2="518.05" y2="270.73" stroke="#222" stroke-width="0.5"/>
<line x1="514.85" y1="280.79" x2="518.05" y2="280.79" stroke="#222" stroke-width="0.5"/>
<polygon points="516.71,268.25 514.81,271.55 518.6,271.55" fill="#000"/>
<polygon points="516.8,272.12 514.9,275.42 518.7,275.42" fill="#000"/>
<polygon points="516.3,275.71 514.41,279.01 518.2,279.01" fill="#000"/>
<polygon points="516.81,279.03 514.92,282.33 518.71,282.33" fill="#000"/>
<rect x="522.85" y="282.04" width="3.7" height="10.06" fill="#efbf80"/>
<line x1="524.7" y1="277.02" x2="524.7" y2="287.07" stroke="#222" stroke-width="0.5"/>
<line x1="523.1" y1="277.02" x2="526.3" y2="277.02" stroke="#222" stroke-width="0.5"/>
<line x1="523.1" y1="287.07" x2="526.3" y2="287.07" stroke="#222" stroke-width="0.5"/>
<polygon points="524.51,278.49 522.61,275.19 526.41,275.19" fill="#000"/>
<polygon points="524.33,282.36 522.43,279.06 526.23,279.06" fill="#000"/>
<polygon points="524.66,285.96 522.76,282.66 526.56,282.66" fill="#000"/>
<polygon points="524.5,289.28 522.6,285.98 526.4,285.98" fill="#000"/>
<rect x="536.3" y="216.68" width="3.7" height="75.42" fill="#d9d9d9"/>
<line x1="538.15" y1="210.4" x2="538.15" y2="222.97" stroke="#222" stroke-width="0.5"/>
<line x1="536.55" y1="210.4" x2="539.75" y2="210.4" stroke="#222" stroke-width="0.5"/>
<line x1="536.55" y1="222.97" x2="539.75" y2="222.97" stroke="#222" stroke-width="0.5"/>
<circle cx="537.99" cy="209.77" r="1.65" fill="#000"/>
<circle cx="537.97" cy="214.61" r="1.65" fill="#000"/>
<circle cx="538.06" cy="219.1" r="1.65" fill="#000"/>
<circle cx="538.05" cy="223.25" r="1.65" fill="#000"/>
<rect x="544.55" y="230.51" width="3.7" height="61.59" fill="#f0999c"/>
<line x1="546.4" y1="224.22" x2="546.4" y2="236.79" stroke="#222" stroke-width="0.5"/>
<line x1="544.8" y1="224.22" x2="548" y2="224.22" stroke="#222" stroke-width="0.5"/>
<line x1="544.8" y1="236.79" x2="548" y2="236.79" stroke="#222" stroke-width="0.5"/>
<rect x="544.88" y="221.94" width="3.3" height="3.3" fill="#000"/>
<rect x="545.12" y="226.78" width="3.3" height="3.3" fill="#000"/>
<rect x="545.06" y="231.28" width="3.3" height="3.3" fill="#000"/>
<rect x="544.9" y="235.42" width="3.3" height="3.3" fill="#000"/>
<rect x="552.8" y="258.16" width="3.7" height="33.94" fill="#eeaaf0"/>
<line x1="554.65" y1="251.88" x2="554.65" y2="264.45" stroke="#222" stroke-width="0.5"/>
<line x1="553.05" y1="251.88" x2="556.25" y2="251.88" stroke="#222" stroke-width="0.5"/>
<line x1="553.05" y1="264.45" x2="556.25" y2="264.45" stroke="#222" stroke-width="0.5"/>
<polygon points="554.36,249.27 552.46,252.57 556.26,252.57" fill="#000"/>
<polygon points="554.29,254.11 552.39,257.41 556.19,257.41" fill="#000"/>
<polygon points="554.58,258.6 552.69,261.9 556.48,261.9" fill="#000"/>
<polygon points="554.54,262.75 552.64,266.05 556.44,266.05" fill="#000"/>
<rect x="561.05" y="271.99" width="3.7" height="20.11" fill="#efbf80"/>
<line x1="562.9" y1="265.7" x2="562.9" y2="278.27" stroke="#222" stroke-width="0.5"/>
<line x1="561.3" y1="265.7" x2="564.5" y2="265.7" stroke="#222" stroke-width="0.5"/>
<line x1="561.3" y1="278.27" x2="564.5" y2="278.27" stroke="#222" stroke-width="0.5"/>
<polygon points="562.51,267.05 560.61,263.75 564.41,263.75" fill="#000"/>
<polygon points="563.04,271.89 561.14,268.59 564.94,268.59" fill="#000"/>
<polygon points="562.68,276.39 560.78,273.09 564.58,273.09" fill="#000"/>
<polygon points="562.7,280.54 560.8,277.24 564.6,277.24" fill="#000"/>
<rect x="574.5" y="204.11" width="3.7" height="87.99" fill="#d9d9d9"/>
<line x1="576.35" y1="195.31" x2="576.35" y2="212.91" stroke="#222" stroke-width="0.5"/>
<line x1="574.75" y1="195.31" x2="577.95" y2="195.31" stroke="#222" stroke-width="0.5"/>
<line x1="574.75" y1="212.91" x2="577.95" y2="212.91" stroke="#222" stroke-width="0.5"/>
<circle cx="576.45" cy="194.43" r="1.65" fill="#000"/>
<circle cx="576.15" cy="201.21" r="1.65" fill="#000"/>
<circle cx="576.6" cy="207.5" r="1.65" fill="#000"/>
<circle cx="576.77" cy="213.3" r="1.65" fill="#000"/>
<rect x="582.75" y="211.65" width="3.7" height="80.45" fill="#f0999c"/>
<line x1="584.6" y1="200.34" x2="584.6" y2="222.97" stroke="#222" stroke-width="0.5"/>
<line x1="583" y1="200.34" x2="586.2" y2="200.34" stroke="#222" stroke-width="0.5"/>
<line x1="583" y1="222.97" x2="586.2" y2="222.97" stroke="#222" stroke-width="0.5"/>
<rect x="583.3" y="197.56" width="3.3" height="3.3" fill="#000"/>
<rect x="583.1" y="206.27" width="3.3" height="3.3" fill="#000"/>
<rect x="582.98" y="214.36" width="3.3" height="3.3" fill="#000"/>
<rect x="583.01" y="221.82" width="3.3" height="3.3" fill="#000"/>
<rect x="591" y="215.42" width="3.7" height="76.68" fill="#eeaaf0"/>
<line x1="592.85" y1="209.14" x2="592.85" y2="221.71" stroke="#222" stroke-width="0.5"/>
<line x1="591.25" y1="209.14" x2="594.45" y2="209.14" stroke="#222" stroke-width="0.5"/>
<line x1="591.25" y1="221.71" x2="594.45" y2="221.71" stroke="#222" stroke-width="0.5"/>
<polygon points="592.5,206.53 590.6,209.83 594.39,209.83" fill="#000"/>
<polygon points="592.45,211.37 590.55,214.67 594.34,214.67" fill="#000"/>
<polygon points="592.53,215.86 590.64,219.16 594.43,219.16" fill="#000"/>
<polygon points="593.21,220.01 591.31,223.31 595.11,223.31" fill="#000"/>
<rect x="599.25" y="216.68" width="3.7" height="75.42" fill="#efbf80"/>
<line x1="601.1" y1="211.65" x2="601.1" y2="221.71" stroke="#222" stroke-width="0.5"/>
<line x1="599.5" y1="211.65" x2="602.7" y2="211.65" stroke="#222" stroke-width="0.5"/>
<line x1="599.5" y1="221.71" x2="602.7" y2="221.71" stroke="#222" stroke-width="0.5"/>
<polygon points="600.73,213.13 598.83,209.83 602.62,209.83" fill="#000"/>
<polygon points="600.78,217 598.88,213.7 602.68,213.7" fill="#000"/>
<polygon points="600.87,220.6 598.97,217.3 602.76,217.3" fill="#000"/>
<polygon points="600.81,223.91 598.91,220.61 602.7,220.61" fill="#000"/>
<rect x="612.7" y="204.11" width="3.7" height="87.99" fill="#d9d9d9"/>
<line x1="614.55" y1="196.57" x2="614.55" y2="211.65" stroke="#222" stroke-width="0.5"/>
<line x1="612.95" y1="196.57" x2="616.15" y2="196.57" stroke="#222" stroke-width="0.5"/>
<line x1="612.95" y1="211.65" x2="616.15" y2="211.65" stroke="#222" stroke-width="0.5"/>
<circle cx="614.78" cy="195.81" r="1.65" fill="#000"/>
<circle cx="614.85" cy="201.62" r="1.65" fill="#000"/>
<circle cx="614.64" cy="207.01" r="1.65" fill="#000"/>
<circle cx="614.86" cy="211.99" r="1.65" fill="#000"/>
<rect x="620.95" y="196.57" width="3.7" height="95.53" fill="#f0999c"/>
<line x1="622.8" y1="190.28" x2="622.8" y2="202.85" stroke="#222" stroke-width="0.5"/>
<line x1="621.2" y1="190.28" x2="624.4" y2="190.28" stroke="#222" stroke-width="0.5"/>
<line x1="621.2" y1="202.85" x2="624.4" y2="202.85" stroke="#222" stroke-width="0.5"/>
<rect x="621.26" y="188" width="3.3" height="3.3" fill="#000"/>
<rect x="621" y="192.84" width="3.3" height="3.3" fill="#000"/>
<rect x="621.36" y="197.34" width="3.3" height="3.3" fill="#000"/>
<rect x="621.27" y="201.49" width="3.3" height="3.3" fill="#000"/>
<rect x="629.2" y="191.54" width="3.7" height="100.56" fill="#eeaaf0"/>
<line x1="631.05" y1="182.74" x2="631.05" y2="200.34" stroke="#222" stroke-width="0.5"/>
<line x1="629.45" y1="182.74" x2="632.65" y2="182.74" stroke="#222" stroke-width="0.5"/>
<line x1="629.45" y1="200.34" x2="632.65" y2="200.34" stroke="#222" stroke-width="0.5"/>
<polygon points="630.88,179.88 628.98,183.18 632.78,183.18" fill="#000"/>
<polygon points="630.9,186.66 629.01,189.96 632.8,189.96" fill="#000"/>
<polygon points="631.31,192.95 629.41,196.25 633.21,196.25" fill="#000"/>
<polygon points="630.94,198.75 629.05,202.05 632.84,202.05" fill="#000"/>
<rect x="637.45" y="199.08" width="3.7" height="93.02" fill="#efbf80"/>
<line x1="639.3" y1="192.8" x2="639.3" y2="205.37" stroke="#222" stroke-width="0.5"/>
<line x1="637.7" y1="192.8" x2="640.9" y2="192.8" stroke="#222" stroke-width="0.5"/>
<line x1="637.7" y1="205.37" x2="640.9" y2="205.37" stroke="#222" stroke-width="0.5"/>
<polygon points="639.35,194.15 637.46,190.85 641.25,190.85" fill="#000"/>
<polygon points="639.65,198.99 637.75,195.69 641.54,195.69" fill="#000"/>
<polygon points="639.28,203.48 637.38,200.18 641.17,200.18" fill="#000"/>
<polygon points="639.01,207.63 637.11,204.33 640.91,204.33" fill="#000"/>
<rect x="650.9" y="233.02" width="3.7" height="59.08" fill="#d9d9d9"/>
<line x1="652.75" y1="227.99" x2="652.75" y2="238.05" stroke="#222" stroke-width="0.5"/>
<line x1="651.15" y1="227.99" x2="654.35" y2="227.99" stroke="#222" stroke-width="0.5"/>
<line x1="651.15" y1="238.05" x2="654.35" y2="238.05" stroke="#222" stroke-width="0.5"/>
<circle cx="652.73" cy="227.49" r="1.65" fill="#000"/>
<circle cx="652.67" cy="231.36" r="1.65" fill="#000"/>
<circle cx="652.37" cy="234.96" r="1.65" fill="#000"/>
<circle cx="652.69" cy="238.28" r="1.65" fill="#000"/>
<rect x="659.15" y="231.76" width="3.7" height="60.34" fill="#f0999c"/>
<line x1="661" y1="225.48" x2="661" y2="238.05" stroke="#222" stroke-width="0.5"/>
<line x1="659.4" y1="225.48" x2="662.6" y2="225.48" stroke="#222" stroke-width="0.5"/>
<line x1="659.4" y1="238.05" x2="662.6" y2="238.05" stroke="#222" stroke-width="0.5"/>
<rect x="659.67" y="223.2" width="3.3" height="3.3" fill="#000"/>
<rect x="659.14" y="228.04" width="3.3" height="3.3" fill="#000"/>
<rect x="659.6" y="232.53" width="3.3" height="3.3" fill="#000"/>
<rect x="659.53" y="236.68" width="3.3" height="3.3" fill="#000"/>
<rect x="667.4" y="234.28" width="3.7" height="57.82" fill="#eeaaf0"/>
<line x1="669.25" y1="230.51" x2="669.25" y2="238.05" stroke="#222" stroke-width="0.5"/>
<line x1="667.65" y1="230.51" x2="670.85" y2="230.51" stroke="#222" stroke-width="0.5"/>
<line x1="667.65" y1="238.05" x2="670.85" y2="238.05" stroke="#222" stroke-width="0.5"/>
<polygon points="668.91,228.15 667.01,231.45 670.8,231.45" fill="#000"/>
<polygon points="669.62,231.05 667.72,234.35 671.51,234.35" fill="#000"/>
<polygon points="668.96,233.75 667.06,237.05 670.86,237.05" fill="#000"/>
<polygon points="669.65,236.24 667.75,239.54 671.54,239.54" fill="#000"/>
<rect x="675.65" y="238.05" width="3.7" height="54.05" fill="#efbf80"/>
<line x1="677.5" y1="234.28" x2="677.5" y2="241.82" stroke="#222" stroke-width="0.5"/>
<line x1="675.9" y1="234.28" x2="679.1" y2="234.28" stroke="#222" stroke-width="0.5"/>
<line x1="675.9" y1="241.82" x2="679.1" y2="241.82" stroke="#222" stroke-width="0.5"/>
<polygon points="677.81,235.88 675.91,232.58 679.7,232.58" fill="#000"/>
<polygon points="677.87,238.78 675.98,235.48 679.77,235.48" fill="#000"/>
<polygon points="677.45,241.48 675.55,238.18 679.35,238.18" fill="#000"/>
<polygon points="677.91,243.97 676.02,240.67 679.81,240.67" fill="#000"/>
<line x1="494.7" y1="292.1" x2="681.2" y2="292.1" stroke="#222" stroke-width="0.9"/>
<line x1="512.33" y1="292.1" x2="512.33" y2="297.1" stroke="#222" stroke-width="0.9"/>
<line x1="550.53" y1="292.1" x2="550.53" y2="297.1" stroke="#222" stroke-width="0.9"/>
<line x1="588.73" y1="292.1" x2="588.73" y2="297.1" stroke="#222" stroke-width="0.9"/>
<line x1="626.93" y1="292.1" x2="626.93" y2="297.1" stroke="#222" stroke-width="0.9"/>
<line x1="665.13" y1="292.1" x2="665.13" y2="297.1" stroke="#222" stroke-width="0.9"/>
<text x="512.33" y="307.96" font-size="9.6" text-anchor="middle" font-weight="normal" fill="#111" transform="translate(0 -36.54) scale(1 1.12)">GCLM</text>
<text x="550.53" y="307.96" font-size="9.6" text-anchor="middle" font-weight="normal" fill="#111" transform="translate(0 -36.54) scale(1 1.12)">GLS</text>
<text x="588.73" y="307.96" font-size="9.6" text-anchor="middle" font-weight="normal" fill="#111" transform="translate(0 -36.54) scale(1 1.12)">GSR</text>
<text x="626.93" y="307.96" font-size="9.6" text-anchor="middle" font-weight="normal" fill="#111" transform="translate(0 -36.54) scale(1 1.12)">GSS</text>
<text x="665.13" y="307.96" font-size="9.6" text-anchor="middle" font-weight="normal" fill="#111" transform="translate(0 -36.54) scale(1 1.12)">GDH</text>
<polyline points="499.95,227.2 499.95,201.7 524.7,201.7 524.7,224.8" fill="none" stroke="#3a3a3a" stroke-width="0.8"/>
<text x="513.33" y="200.28" font-size="5.5" text-anchor="middle" fill="#222"><tspan font-weight="bold" font-style="italic">P</tspan> &lt; 0.0001</text>
<polyline points="499.95,227.2 499.95,215.6 516.45,215.6 516.45,231.8" fill="none" stroke="#3a3a3a" stroke-width="0.8"/>
<text x="508.7" y="213.78" font-size="5.5" text-anchor="middle" fill="#222"><tspan font-weight="bold" font-style="italic">P</tspan> &lt; 0.0001</text>
<polyline points="499.95,227.2 499.95,225.5 508.2,225.5 508.2,234.8" fill="none" stroke="#3a3a3a" stroke-width="0.8"/>
<text x="504.58" y="223.53" font-size="4.25" text-anchor="middle" fill="#222"><tspan font-weight="bold" font-style="italic">P</tspan> = 0.0013</text>
<polyline points="538.15,200.9 538.15,176 562.9,176 562.9,201.5" fill="none" stroke="#3a3a3a" stroke-width="0.8"/>
<text x="551.53" y="174.48" font-size="5.5" text-anchor="middle" fill="#222"><tspan font-weight="bold" font-style="italic">P</tspan> &lt; 0.0001</text>
<polyline points="538.15,200.9 538.15,188.3 554.65,188.3 554.65,204.4" fill="none" stroke="#3a3a3a" stroke-width="0.8"/>
<text x="546.9" y="187.33" font-size="4.25" text-anchor="middle" fill="#222"><tspan font-weight="bold" font-style="italic">P</tspan> = 0.0001</text>
<polyline points="538.15,200.9 538.15,197.3 546.4,197.3 546.4,210.2" fill="none" stroke="#3a3a3a" stroke-width="0.8"/>
<text x="542.78" y="196.03" font-size="4.25" text-anchor="middle" fill="#222"><tspan font-weight="bold" font-style="italic">P</tspan> = 0.0286</text>
<rect x="494.2" y="312.7" width="129.2" height="16.7" fill="#fff" stroke="#555" stroke-width="0.7"/>
<rect x="497" y="315.1" width="8.1" height="3.8" fill="#d9d9d9"/>
<text x="510.8" y="319.61" font-size="7.25" text-anchor="start" font-weight="normal" fill="#111" transform="translate(0 -38.04) scale(1 1.12)">Hypoxia 0h</text>
<rect x="497" y="322.8" width="8.1" height="3.8" fill="#f0999c"/>
<text x="510.8" y="327.31" font-size="7.25" text-anchor="start" font-weight="normal" fill="#111" transform="translate(0 -38.96) scale(1 1.12)">Hypoxia 12h</text>
<rect x="562.7" y="315.1" width="8.1" height="3.8" fill="#eeaaf0"/>
<text x="577.4" y="319.61" font-size="7.25" text-anchor="start" font-weight="normal" fill="#111" transform="translate(0 -38.04) scale(1 1.12)">Hypoxia 24h</text>
<rect x="562.7" y="322.8" width="8.1" height="3.8" fill="#efbf80"/>
<text x="577.4" y="327.31" font-size="7.25" text-anchor="start" font-weight="normal" fill="#111" transform="translate(0 -38.96) scale(1 1.12)">Hypoxia 48h</text>
<text x="107.4" y="364.6" font-size="9.7" fill="#222" transform="rotate(-45 107.4 364.6)">NC</text>
<text x="123.1" y="364.6" font-size="9.7" fill="#222" transform="rotate(-45 123.1 364.6)">GCLM</text>
<text x="147.7" y="364.6" font-size="9.7" fill="#222" transform="rotate(-45 147.7 364.6)">NC</text>
<text x="163.4" y="364.6" font-size="9.7" fill="#222" transform="rotate(-45 163.4 364.6)">GCLM</text>
<clipPath id="cp13"><rect x="98.3" y="365.8" width="36.2" height="14.7"/></clipPath>
<g clip-path="url(#cp13)">
<rect x="98.3" y="365.8" width="36.2" height="14.7" fill="#d4d4d4"/>
<rect x="99.9" y="366.8" width="12" height="12.7" fill="#000" fill-opacity="0.18" filter="url(#bl3)"/>
<rect x="99.9" y="372.3" width="12" height="2.4" rx="1.2" fill="#000" fill-opacity="0.85" filter="url(#bl)"/>
<rect x="99.9" y="368.05" width="12" height="2.5" rx="1.25" fill="#000" fill-opacity="0.2" filter="url(#bl)"/>
<rect x="116.1" y="366.8" width="14" height="12.7" fill="#000" fill-opacity="0.2" filter="url(#bl3)"/>
<rect x="116.1" y="372.3" width="14" height="3.2" rx="1.6" fill="#000" fill-opacity="1" filter="url(#bl)"/>
<rect x="116.1" y="376" width="14" height="3" rx="1.5" fill="#000" fill-opacity="0.25" filter="url(#bl)"/>
</g>
<rect x="98.3" y="365.8" width="36.2" height="14.7" fill="none" stroke="#4a4a4a" stroke-width="1"/>
<clipPath id="cp14"><rect x="137.2" y="365.8" width="36.4" height="14.7"/></clipPath>
<g clip-path="url(#cp14)">
<rect x="137.2" y="365.8" width="36.4" height="14.7" fill="#cccccc"/>
<rect x="141.1" y="366.8" width="13" height="12.7" fill="#000" fill-opacity="0.18" filter="url(#bl3)"/>
<rect x="141.1" y="372.5" width="13" height="2.6" rx="1.3" fill="#000" fill-opacity="0.85" filter="url(#bl)"/>
<rect x="157.3" y="366.8" width="15" height="12.7" fill="#000" fill-opacity="0.22" filter="url(#bl3)"/>
<rect x="157.3" y="371.3" width="15" height="3.2" rx="1.6" fill="#000" fill-opacity="1" filter="url(#bl)"/>
</g>
<rect x="137.2" y="365.8" width="36.4" height="14.7" fill="none" stroke="#4a4a4a" stroke-width="1"/>
<clipPath id="cp15"><rect x="98.3" y="383.4" width="36.2" height="14.2"/></clipPath>
<g clip-path="url(#cp15)">
<rect x="98.3" y="383.4" width="36.2" height="14.2" fill="#e6e6e6"/>
<rect x="100.3" y="384.4" width="14.4" height="12.2" fill="#000" fill-opacity="0.02" filter="url(#bl3)"/>
<rect x="100.3" y="390.05" width="14.4" height="3.1" rx="1.55" fill="#000" fill-opacity="1" filter="url(#bl)"/>
<rect x="117.5" y="384.4" width="14.4" height="12.2" fill="#000" fill-opacity="0.02" filter="url(#bl3)"/>
<rect x="117.5" y="390.05" width="14.4" height="3.1" rx="1.55" fill="#000" fill-opacity="1" filter="url(#bl)"/>
</g>
<rect x="98.3" y="383.4" width="36.2" height="14.2" fill="none" stroke="#4a4a4a" stroke-width="1"/>
<clipPath id="cp16"><rect x="137.2" y="383.4" width="36.4" height="14.2"/></clipPath>
<g clip-path="url(#cp16)">
<rect x="137.2" y="383.4" width="36.4" height="14.2" fill="#e8e8e8"/>
<rect x="139.6" y="384.4" width="14.4" height="12.2" fill="#000" fill-opacity="0.02" filter="url(#bl3)"/>
<rect x="139.6" y="390.05" width="14.4" height="3.1" rx="1.55" fill="#000" fill-opacity="1" filter="url(#bl)"/>
<rect x="157" y="384.4" width="14.4" height="12.2" fill="#000" fill-opacity="0.02" filter="url(#bl3)"/>
<rect x="157" y="390.05" width="14.4" height="3.1" rx="1.55" fill="#000" fill-opacity="1" filter="url(#bl)"/>
</g>
<rect x="137.2" y="383.4" width="36.4" height="14.2" fill="none" stroke="#4a4a4a" stroke-width="1"/>
<text x="96.2" y="376.73" font-size="9.8" text-anchor="end" font-weight="normal" fill="#111" transform="translate(0 -44.78) scale(1 1.12)">GCLM</text>
<text x="96.2" y="394.43" font-size="9.8" text-anchor="end" font-weight="normal" fill="#111" transform="translate(0 -46.91) scale(1 1.12)">β-actin</text>
<text x="175.6" y="365.4" font-size="8.6" text-anchor="start" font-weight="normal" fill="#111" transform="translate(0 -43.48) scale(1 1.12)">kDa</text>
<line x1="173.6" y1="372" x2="178.2" y2="372" stroke="#222" stroke-width="0.8"/>
<text x="178.6" y="375.02" font-size="8.4" text-anchor="start" font-weight="normal" fill="#111" transform="translate(0 -44.64) scale(1 1.12)">33</text>
<line x1="173.6" y1="395" x2="178.2" y2="395" stroke="#222" stroke-width="0.8"/>
<text x="178.6" y="398.02" font-size="8.4" text-anchor="start" font-weight="normal" fill="#111" transform="translate(0 -47.4) scale(1 1.12)">40</text>
<text x="118.1" y="408.87" font-size="10.2" text-anchor="middle" font-weight="bold" fill="#000" transform="translate(0 -48.62) scale(1 1.12)">H9C2</text>
<text x="156.2" y="408.87" font-size="10.2" text-anchor="middle" font-weight="bold" fill="#000" transform="translate(0 -48.62) scale(1 1.12)">NRVM</text>
<text x="109.1" y="432.4" font-size="9.7" fill="#222" transform="rotate(-45 109.1 432.4)">NC</text>
<text x="124.3" y="432.4" font-size="9.7" fill="#222" transform="rotate(-45 124.3 432.4)">GLS</text>
<text x="145.9" y="432.4" font-size="9.7" fill="#222" transform="rotate(-45 145.9 432.4)">NC</text>
<text x="161.1" y="432.4" font-size="9.7" fill="#222" transform="rotate(-45 161.1 432.4)">GLS</text>
<clipPath id="cp17"><rect x="98.4" y="433.5" width="35" height="14.8"/></clipPath>
<g clip-path="url(#cp17)">
<rect x="98.4" y="433.5" width="35" height="14.8" fill="#ececec"/>
<rect x="99.9" y="434.5" width="15" height="12.8" fill="#000" fill-opacity="0.05" filter="url(#bl3)"/>
<rect x="99.9" y="439.3" width="15" height="1.8" rx="0.9" fill="#000" fill-opacity="0.5" filter="url(#bl)"/>
<rect x="99.9" y="441.9" width="15" height="2.2" rx="1.1" fill="#000" fill-opacity="0.72" filter="url(#bl)"/>
<rect x="117.3" y="434.5" width="15" height="12.8" fill="#000" fill-opacity="0.05" filter="url(#bl3)"/>
<rect x="117.3" y="439.2" width="15" height="2" rx="1" fill="#000" fill-opacity="0.65" filter="url(#bl)"/>
<rect x="117.3" y="441.7" width="15" height="2.6" rx="1.3" fill="#000" fill-opacity="0.9" filter="url(#bl)"/>
</g>
<rect x="98.4" y="433.5" width="35" height="14.8" fill="none" stroke="#4a4a4a" stroke-width="1"/>
<clipPath id="cp18"><rect x="135.9" y="433.5" width="35.1" height="14.8"/></clipPath>
<g clip-path="url(#cp18)">
<rect x="135.9" y="433.5" width="35.1" height="14.8" fill="#eeeeee"/>
<rect x="137.45" y="434.5" width="15.5" height="12.8" fill="#000" fill-opacity="0.04" filter="url(#bl3)"/>
<rect x="137.45" y="438.9" width="15.5" height="2" rx="1" fill="#000" fill-opacity="0.6" filter="url(#bl)"/>
<rect x="137.45" y="441.5" width="15.5" height="2.2" rx="1.1" fill="#000" fill-opacity="0.62" filter="url(#bl)"/>
<rect x="154.85" y="434.5" width="15.5" height="12.8" fill="#000" fill-opacity="0.04" filter="url(#bl3)"/>
<rect x="154.85" y="438.8" width="15.5" height="2.2" rx="1.1" fill="#000" fill-opacity="0.72" filter="url(#bl)"/>
<rect x="154.85" y="441.3" width="15.5" height="2.6" rx="1.3" fill="#000" fill-opacity="0.8" filter="url(#bl)"/>
</g>
<rect x="135.9" y="433.5" width="35.1" height="14.8" fill="none" stroke="#4a4a4a" stroke-width="1"/>
<clipPath id="cp19"><rect x="98.4" y="451.1" width="35" height="14.6"/></clipPath>
<g clip-path="url(#cp19)">
<rect x="98.4" y="451.1" width="35" height="14.6" fill="#e8e8e8"/>
<rect x="99.65" y="452.1" width="15.5" height="12.6" fill="#000" fill-opacity="0.02" filter="url(#bl3)"/>
<rect x="99.65" y="456.9" width="15.5" height="3.6" rx="1.8" fill="#000" fill-opacity="1" filter="url(#bl)"/>
<rect x="117.05" y="452.1" width="15.5" height="12.6" fill="#000" fill-opacity="0.02" filter="url(#bl3)"/>
<rect x="117.05" y="456.9" width="15.5" height="3.6" rx="1.8" fill="#000" fill-opacity="1" filter="url(#bl)"/>
</g>
<rect x="98.4" y="451.1" width="35" height="14.6" fill="none" stroke="#4a4a4a" stroke-width="1"/>
<clipPath id="cp20"><rect x="135.9" y="451.1" width="35.1" height="14.6"/></clipPath>
<g clip-path="url(#cp20)">
<rect x="135.9" y="451.1" width="35.1" height="14.6" fill="#eaeaea"/>
<rect x="137.45" y="452.1" width="15.5" height="12.6" fill="#000" fill-opacity="0.02" filter="url(#bl3)"/>
<rect x="137.45" y="457" width="15.5" height="3.4" rx="1.7" fill="#000" fill-opacity="1" filter="url(#bl)"/>
<rect x="154.85" y="452.1" width="15.5" height="12.6" fill="#000" fill-opacity="0.02" filter="url(#bl3)"/>
<rect x="154.85" y="457" width="15.5" height="3.4" rx="1.7" fill="#000" fill-opacity="1" filter="url(#bl)"/>
</g>
<rect x="135.9" y="451.1" width="35.1" height="14.6" fill="none" stroke="#4a4a4a" stroke-width="1"/>
<text x="96.2" y="445.93" font-size="9.8" text-anchor="end" font-weight="normal" fill="#111" transform="translate(0 -53.09) scale(1 1.12)">GLS</text>
<text x="96.2" y="462.03" font-size="9.8" text-anchor="end" font-weight="normal" fill="#111" transform="translate(0 -55.02) scale(1 1.12)">β-actin</text>
<text x="173.5" y="433.9" font-size="8.6" text-anchor="start" font-weight="normal" fill="#111" transform="translate(0 -51.7) scale(1 1.12)">kDa</text>
<line x1="171" y1="446.8" x2="175.6" y2="446.8" stroke="#222" stroke-width="0.8"/>
<text x="176" y="449.82" font-size="8.4" text-anchor="start" font-weight="normal" fill="#111" transform="translate(0 -53.62) scale(1 1.12)">55</text>
<line x1="171" y1="461.4" x2="175.6" y2="461.4" stroke="#222" stroke-width="0.8"/>
<text x="176" y="464.42" font-size="8.4" text-anchor="start" font-weight="normal" fill="#111" transform="translate(0 -55.37) scale(1 1.12)">40</text>
<text x="118.1" y="476.67" font-size="10.2" text-anchor="middle" font-weight="bold" fill="#000" transform="translate(0 -56.76) scale(1 1.12)">H9C2</text>
<text x="155.6" y="476.67" font-size="10.2" text-anchor="middle" font-weight="bold" fill="#000" transform="translate(0 -56.76) scale(1 1.12)">NRVM</text>
<line x1="313.4" y1="448.6" x2="313.4" y2="354.22" stroke="#222" stroke-width="0.9"/>
<line x1="308.1" y1="448.6" x2="313.4" y2="448.6" stroke="#222" stroke-width="0.9"/>
<text x="305.7" y="451.62" font-size="8.4" text-anchor="end" font-weight="normal" fill="#111" transform="translate(0 -53.83) scale(1 1.12)">0.0</text>
<line x1="308.1" y1="417.14" x2="313.4" y2="417.14" stroke="#222" stroke-width="0.9"/>
<text x="305.7" y="420.16" font-size="8.4" text-anchor="end" font-weight="normal" fill="#111" transform="translate(0 -50.06) scale(1 1.12)">0.2</text>
<line x1="308.1" y1="385.68" x2="313.4" y2="385.68" stroke="#222" stroke-width="0.9"/>
<text x="305.7" y="388.7" font-size="8.4" text-anchor="end" font-weight="normal" fill="#111" transform="translate(0 -46.28) scale(1 1.12)">0.4</text>
<line x1="308.1" y1="354.22" x2="313.4" y2="354.22" stroke="#222" stroke-width="0.9"/>
<text x="305.7" y="357.24" font-size="8.4" text-anchor="end" font-weight="normal" fill="#111" transform="translate(0 -42.51) scale(1 1.12)">0.6</text>
<text x="273" y="404.84" font-size="10.1" text-anchor="middle" font-weight="normal" fill="#111" transform="rotate(-90 273 401.2)">Relative protein level</text>
<text x="285.4" y="404.84" font-size="10.1" text-anchor="middle" font-weight="normal" fill="#111" transform="rotate(-90 285.4 401.2)">of GCLM</text>
<rect x="326" y="405.81" width="10.8" height="42.79" fill="#d9d9d9"/>
<line x1="331.4" y1="399.52" x2="331.4" y2="412.11" stroke="#222" stroke-width="0.6"/>
<line x1="328.9" y1="399.52" x2="333.9" y2="399.52" stroke="#222" stroke-width="0.6"/>
<line x1="328.9" y1="412.11" x2="333.9" y2="412.11" stroke="#222" stroke-width="0.6"/>
<circle cx="331.44" cy="398.89" r="2.4" fill="#000"/>
<circle cx="330.65" cy="403.74" r="2.4" fill="#000"/>
<circle cx="331.81" cy="408.24" r="2.4" fill="#000"/>
<circle cx="330.74" cy="412.39" r="2.4" fill="#000"/>
<rect x="351.2" y="378.6" width="10.8" height="70" fill="#eeaaf0"/>
<line x1="356.6" y1="372.31" x2="356.6" y2="384.89" stroke="#222" stroke-width="0.6"/>
<line x1="354.1" y1="372.31" x2="359.1" y2="372.31" stroke="#222" stroke-width="0.6"/>
<line x1="354.1" y1="384.89" x2="359.1" y2="384.89" stroke="#222" stroke-width="0.6"/>
<rect x="352.6" y="369.28" width="4.8" height="4.8" fill="#000"/>
<rect x="351.91" y="374.13" width="4.8" height="4.8" fill="#000"/>
<rect x="351.88" y="378.62" width="4.8" height="4.8" fill="#000"/>
<rect x="352.84" y="382.78" width="4.8" height="4.8" fill="#000"/>
<rect x="387.4" y="407.39" width="10.8" height="41.21" fill="#d9d9d9"/>
<line x1="392.8" y1="401.1" x2="392.8" y2="413.68" stroke="#222" stroke-width="0.6"/>
<line x1="390.3" y1="401.1" x2="395.3" y2="401.1" stroke="#222" stroke-width="0.6"/>
<line x1="390.3" y1="413.68" x2="395.3" y2="413.68" stroke="#222" stroke-width="0.6"/>
<circle cx="393.44" cy="400.47" r="2.4" fill="#000"/>
<circle cx="391.09" cy="405.31" r="2.4" fill="#000"/>
<circle cx="391.96" cy="409.81" r="2.4" fill="#000"/>
<circle cx="391.98" cy="413.96" r="2.4" fill="#000"/>
<rect x="412" y="377.03" width="10.8" height="71.57" fill="#eeaaf0"/>
<line x1="417.4" y1="369.16" x2="417.4" y2="384.89" stroke="#222" stroke-width="0.6"/>
<line x1="414.9" y1="369.16" x2="419.9" y2="369.16" stroke="#222" stroke-width="0.6"/>
<line x1="414.9" y1="384.89" x2="419.9" y2="384.89" stroke="#222" stroke-width="0.6"/>
<rect x="413.44" y="365.98" width="4.8" height="4.8" fill="#000"/>
<rect x="415.1" y="372.03" width="4.8" height="4.8" fill="#000"/>
<rect x="415.8" y="377.66" width="4.8" height="4.8" fill="#000"/>
<rect x="413.11" y="382.85" width="4.8" height="4.8" fill="#000"/>
<line x1="313.4" y1="448.6" x2="432" y2="448.6" stroke="#222" stroke-width="0.9"/>
<line x1="344" y1="448.6" x2="344" y2="452.8" stroke="#222" stroke-width="0.9"/>
<line x1="405.1" y1="448.6" x2="405.1" y2="452.8" stroke="#222" stroke-width="0.9"/>
<text x="344" y="463.57" font-size="10.2" text-anchor="middle" font-weight="bold" fill="#000" transform="translate(0 -55.19) scale(1 1.12)">H9C2</text>
<text x="405.1" y="463.57" font-size="10.2" text-anchor="middle" font-weight="bold" fill="#000" transform="translate(0 -55.19) scale(1 1.12)">NRVM</text>
<polyline points="331.4,388.4 331.4,361.3 356.6,361.3 356.6,367.3" fill="none" stroke="#3a3a3a" stroke-width="0.8"/>
<text x="344.5" y="358.92" font-size="5.6" text-anchor="middle" fill="#222"><tspan font-weight="bold" font-style="italic">P</tspan> = 0.0022</text>
<polyline points="392.8,392 392.8,361.3 417.4,361.3 417.4,366.5" fill="none" stroke="#3a3a3a" stroke-width="0.8"/>
<text x="405.6" y="358.92" font-size="5.6" text-anchor="middle" fill="#222"><tspan font-weight="bold" font-style="italic">P</tspan> = 0.0022</text>
<rect x="315.3" y="466.6" width="117.1" height="10.8" fill="#fff" stroke="#555" stroke-width="0.7"/>
<rect x="326.1" y="470.2" width="8.2" height="3.6" fill="#d9d9d9"/>
<text x="340.4" y="475.02" font-size="8.4" text-anchor="start" font-weight="normal" fill="#111" transform="translate(0 -56.64) scale(1 1.12)">NC</text>
<rect x="383.6" y="470.2" width="8.2" height="3.6" fill="#eeaaf0"/>
<text x="397.9" y="475.02" font-size="8.4" text-anchor="start" font-weight="normal" fill="#111" transform="translate(0 -56.64) scale(1 1.12)">GCLM</text>
<line x1="495.7" y1="448.6" x2="495.7" y2="354.22" stroke="#222" stroke-width="0.9"/>
<line x1="490.4" y1="448.6" x2="495.7" y2="448.6" stroke="#222" stroke-width="0.9"/>
<text x="488" y="451.62" font-size="8.4" text-anchor="end" font-weight="normal" fill="#111" transform="translate(0 -53.83) scale(1 1.12)">0.0</text>
<line x1="490.4" y1="417.14" x2="495.7" y2="417.14" stroke="#222" stroke-width="0.9"/>
<text x="488" y="420.16" font-size="8.4" text-anchor="end" font-weight="normal" fill="#111" transform="translate(0 -50.06) scale(1 1.12)">0.2</text>
<line x1="490.4" y1="385.68" x2="495.7" y2="385.68" stroke="#222" stroke-width="0.9"/>
<text x="488" y="388.7" font-size="8.4" text-anchor="end" font-weight="normal" fill="#111" transform="translate(0 -46.28) scale(1 1.12)">0.4</text>
<line x1="490.4" y1="354.22" x2="495.7" y2="354.22" stroke="#222" stroke-width="0.9"/>
<text x="488" y="357.24" font-size="8.4" text-anchor="end" font-weight="normal" fill="#111" transform="translate(0 -42.51) scale(1 1.12)">0.6</text>
<text x="457.8" y="404.84" font-size="10.1" text-anchor="middle" font-weight="normal" fill="#111" transform="rotate(-90 457.8 401.2)">Relative protein level</text>
<text x="470.4" y="404.84" font-size="10.1" text-anchor="middle" font-weight="normal" fill="#111" transform="rotate(-90 470.4 401.2)">of GLS</text>
<rect x="508.8" y="404.56" width="10.8" height="44.04" fill="#d9d9d9"/>
<line x1="514.2" y1="398.26" x2="514.2" y2="410.85" stroke="#222" stroke-width="0.6"/>
<line x1="511.7" y1="398.26" x2="516.7" y2="398.26" stroke="#222" stroke-width="0.6"/>
<line x1="511.7" y1="410.85" x2="516.7" y2="410.85" stroke="#222" stroke-width="0.6"/>
<circle cx="512.93" cy="397.63" r="2.4" fill="#000"/>
<circle cx="514.23" cy="402.48" r="2.4" fill="#000"/>
<circle cx="513.6" cy="406.98" r="2.4" fill="#000"/>
<circle cx="513.48" cy="411.13" r="2.4" fill="#000"/>
<rect x="533.3" y="375.14" width="10.8" height="73.46" fill="#efbf80"/>
<line x1="538.7" y1="368.85" x2="538.7" y2="381.43" stroke="#222" stroke-width="0.6"/>
<line x1="536.2" y1="368.85" x2="541.2" y2="368.85" stroke="#222" stroke-width="0.6"/>
<line x1="536.2" y1="381.43" x2="541.2" y2="381.43" stroke="#222" stroke-width="0.6"/>
<rect x="536.32" y="365.82" width="4.8" height="4.8" fill="#000"/>
<rect x="537.9" y="370.66" width="4.8" height="4.8" fill="#000"/>
<rect x="538.67" y="375.16" width="4.8" height="4.8" fill="#000"/>
<rect x="534.38" y="379.32" width="4.8" height="4.8" fill="#000"/>
<rect x="569.6" y="403.77" width="10.8" height="44.83" fill="#d9d9d9"/>
<line x1="575" y1="397.48" x2="575" y2="410.06" stroke="#222" stroke-width="0.6"/>
<line x1="572.5" y1="397.48" x2="577.5" y2="397.48" stroke="#222" stroke-width="0.6"/>
<line x1="572.5" y1="410.06" x2="577.5" y2="410.06" stroke="#222" stroke-width="0.6"/>
<circle cx="577.21" cy="396.85" r="2.4" fill="#000"/>
<circle cx="573.09" cy="401.69" r="2.4" fill="#000"/>
<circle cx="573.98" cy="406.19" r="2.4" fill="#000"/>
<circle cx="574.68" cy="410.34" r="2.4" fill="#000"/>
<rect x="594" y="379.39" width="10.8" height="69.21" fill="#efbf80"/>
<line x1="599.4" y1="369.95" x2="599.4" y2="388.83" stroke="#222" stroke-width="0.6"/>
<line x1="596.9" y1="369.95" x2="601.9" y2="369.95" stroke="#222" stroke-width="0.6"/>
<line x1="596.9" y1="388.83" x2="601.9" y2="388.83" stroke="#222" stroke-width="0.6"/>
<rect x="594.75" y="366.61" width="4.8" height="4.8" fill="#000"/>
<rect x="598.04" y="373.87" width="4.8" height="4.8" fill="#000"/>
<rect x="598.47" y="380.62" width="4.8" height="4.8" fill="#000"/>
<rect x="598.28" y="386.85" width="4.8" height="4.8" fill="#000"/>
<line x1="495.7" y1="448.6" x2="618.8" y2="448.6" stroke="#222" stroke-width="0.9"/>
<line x1="526.45" y1="448.6" x2="526.45" y2="452.8" stroke="#222" stroke-width="0.9"/>
<line x1="587.2" y1="448.6" x2="587.2" y2="452.8" stroke="#222" stroke-width="0.9"/>
<text x="526.45" y="463.57" font-size="10.2" text-anchor="middle" font-weight="bold" fill="#000" transform="translate(0 -55.19) scale(1 1.12)">H9C2</text>
<text x="587.2" y="463.57" font-size="10.2" text-anchor="middle" font-weight="bold" fill="#000" transform="translate(0 -55.19) scale(1 1.12)">NRVM</text>
<polyline points="514.2,386.9 514.2,359.5 538.7,359.5 538.7,364" fill="none" stroke="#3a3a3a" stroke-width="0.8"/>
<text x="526.95" y="358.32" font-size="5.6" text-anchor="middle" fill="#222"><tspan font-weight="bold" font-style="italic">P</tspan> = 0.0016</text>
<polyline points="575,389 575,356.3 599.4,356.3 599.4,361" fill="none" stroke="#3a3a3a" stroke-width="0.8"/>
<text x="587.7" y="354.82" font-size="5.6" text-anchor="middle" fill="#222"><tspan font-weight="bold" font-style="italic">P</tspan> = 0.0126</text>
<rect x="495.7" y="466.8" width="117.2" height="10.6" fill="#fff" stroke="#555" stroke-width="0.7"/>
<rect x="507.6" y="470.3" width="8.2" height="3.6" fill="#d9d9d9"/>
<text x="520.8" y="475.12" font-size="8.4" text-anchor="start" font-weight="normal" fill="#111" transform="translate(0 -56.65) scale(1 1.12)">NC</text>
<rect x="568.8" y="470.3" width="8.2" height="3.6" fill="#efbf80"/>
<text x="582.7" y="475.12" font-size="8.4" text-anchor="start" font-weight="normal" fill="#111" transform="translate(0 -56.65) scale(1 1.12)">GLS</text>
<line x1="66.5" y1="594.4" x2="66.5" y2="496.7" stroke="#222" stroke-width="0.9"/>
<line x1="62.5" y1="594.4" x2="66.5" y2="594.4" stroke="#222" stroke-width="0.9"/>
<text x="61.4" y="597.46" font-size="8.5" text-anchor="end" font-weight="normal" fill="#111" transform="translate(0 -71.33) scale(1 1.12)">0</text>
<line x1="62.5" y1="561.84" x2="66.5" y2="561.84" stroke="#222" stroke-width="0.9"/>
<text x="61.4" y="564.89" font-size="8.5" text-anchor="end" font-weight="normal" fill="#111" transform="translate(0 -67.42) scale(1 1.12)">50</text>
<line x1="62.5" y1="529.27" x2="66.5" y2="529.27" stroke="#222" stroke-width="0.9"/>
<text x="61.4" y="532.33" font-size="8.5" text-anchor="end" font-weight="normal" fill="#111" transform="translate(0 -63.51) scale(1 1.12)">100</text>
<line x1="62.5" y1="496.7" x2="66.5" y2="496.7" stroke="#222" stroke-width="0.9"/>
<text x="61.4" y="499.76" font-size="8.5" text-anchor="end" font-weight="normal" fill="#111" transform="translate(0 -59.6) scale(1 1.12)">150</text>
<text x="37.4" y="547.94" font-size="10.1" text-anchor="middle" font-weight="normal" fill="#111" transform="rotate(-90 37.4 544.3)">GSH/GSSG rate(%)</text>
<rect x="72.2" y="529.92" width="7.4" height="64.48" fill="#d9d9d9"/>
<line x1="75.9" y1="524.45" x2="75.9" y2="535.39" stroke="#222" stroke-width="0.6"/>
<line x1="73.7" y1="524.45" x2="78.1" y2="524.45" stroke="#222" stroke-width="0.6"/>
<line x1="73.7" y1="535.39" x2="78.1" y2="535.39" stroke="#222" stroke-width="0.6"/>
<circle cx="76.01" cy="523.9" r="2" fill="#000"/>
<circle cx="76.48" cy="528.12" r="2" fill="#000"/>
<circle cx="76.9" cy="532.03" r="2" fill="#000"/>
<circle cx="76.88" cy="535.64" r="2" fill="#000"/>
<rect x="146.7" y="532.2" width="7.4" height="62.2" fill="#d9d9d9"/>
<line x1="150.4" y1="528.55" x2="150.4" y2="535.85" stroke="#222" stroke-width="0.6"/>
<line x1="148.2" y1="528.55" x2="152.6" y2="528.55" stroke="#222" stroke-width="0.6"/>
<line x1="148.2" y1="535.85" x2="152.6" y2="535.85" stroke="#222" stroke-width="0.6"/>
<circle cx="151.56" cy="528.19" r="2" fill="#000"/>
<circle cx="149.9" cy="531" r="2" fill="#000"/>
<circle cx="151.46" cy="533.61" r="2" fill="#000"/>
<circle cx="149.27" cy="536.01" r="2" fill="#000"/>
<rect x="85.3" y="556.62" width="7.4" height="37.78" fill="#f0aaf0"/>
<line x1="89" y1="552.07" x2="89" y2="561.18" stroke="#222" stroke-width="0.6"/>
<line x1="86.8" y1="552.07" x2="91.2" y2="552.07" stroke="#222" stroke-width="0.6"/>
<line x1="86.8" y1="561.18" x2="91.2" y2="561.18" stroke="#222" stroke-width="0.6"/>
<rect x="86.08" y="549.61" width="4" height="4" fill="#000"/>
<rect x="88.13" y="553.12" width="4" height="4" fill="#000"/>
<rect x="87.2" y="556.38" width="4" height="4" fill="#000"/>
<rect x="86.78" y="559.39" width="4" height="4" fill="#000"/>
<rect x="160" y="561.84" width="7.4" height="32.56" fill="#f0aaf0"/>
<line x1="163.7" y1="559.1" x2="163.7" y2="564.57" stroke="#222" stroke-width="0.6"/>
<line x1="161.5" y1="559.1" x2="165.9" y2="559.1" stroke="#222" stroke-width="0.6"/>
<line x1="161.5" y1="564.57" x2="165.9" y2="564.57" stroke="#222" stroke-width="0.6"/>
<rect x="161.25" y="556.83" width="4" height="4" fill="#000"/>
<rect x="161.17" y="558.93" width="4" height="4" fill="#000"/>
<rect x="161.64" y="560.89" width="4" height="4" fill="#000"/>
<rect x="162.27" y="562.69" width="4" height="4" fill="#000"/>
<rect x="98.4" y="556.95" width="7.4" height="37.45" fill="#b356ea"/>
<line x1="102.1" y1="553.3" x2="102.1" y2="560.6" stroke="#222" stroke-width="0.6"/>
<line x1="99.9" y1="553.3" x2="104.3" y2="553.3" stroke="#222" stroke-width="0.6"/>
<line x1="99.9" y1="560.6" x2="104.3" y2="560.6" stroke="#222" stroke-width="0.6"/>
<polygon points="102.66,550.54 100.36,554.54 104.96,554.54" fill="#000"/>
<polygon points="102.66,553.35 100.36,557.35 104.96,557.35" fill="#000"/>
<polygon points="102.53,555.95 100.23,559.95 104.83,559.95" fill="#000"/>
<polygon points="102.16,558.36 99.86,562.36 104.46,562.36" fill="#000"/>
<rect x="173.1" y="560.86" width="7.4" height="33.54" fill="#b356ea"/>
<line x1="176.8" y1="557.21" x2="176.8" y2="564.51" stroke="#222" stroke-width="0.6"/>
<line x1="174.6" y1="557.21" x2="179" y2="557.21" stroke="#222" stroke-width="0.6"/>
<line x1="174.6" y1="564.51" x2="179" y2="564.51" stroke="#222" stroke-width="0.6"/>
<polygon points="178.06,554.45 175.76,558.45 180.36,558.45" fill="#000"/>
<polygon points="176.19,557.25 173.89,561.25 178.49,561.25" fill="#000"/>
<polygon points="177.58,559.86 175.28,563.86 179.88,563.86" fill="#000"/>
<polygon points="177.49,562.27 175.19,566.27 179.79,566.27" fill="#000"/>
<rect x="111.5" y="544.25" width="7.4" height="50.15" fill="#efbf80"/>
<line x1="115.2" y1="539.69" x2="115.2" y2="548.81" stroke="#222" stroke-width="0.6"/>
<line x1="113" y1="539.69" x2="117.4" y2="539.69" stroke="#222" stroke-width="0.6"/>
<line x1="113" y1="548.81" x2="117.4" y2="548.81" stroke="#222" stroke-width="0.6"/>
<polygon points="114.3,541.63 112,537.63 116.6,537.63" fill="#000"/>
<polygon points="114.44,545.15 112.14,541.15 116.74,541.15" fill="#000"/>
<polygon points="114.73,548.41 112.43,544.41 117.03,544.41" fill="#000"/>
<polygon points="115.51,551.41 113.21,547.41 117.81,547.41" fill="#000"/>
<rect x="186.1" y="552.07" width="7.4" height="42.33" fill="#efbf80"/>
<line x1="189.8" y1="545.68" x2="189.8" y2="558.45" stroke="#222" stroke-width="0.6"/>
<line x1="187.6" y1="545.68" x2="192" y2="545.68" stroke="#222" stroke-width="0.6"/>
<line x1="187.6" y1="558.45" x2="192" y2="558.45" stroke="#222" stroke-width="0.6"/>
<polygon points="188.61,547.44 186.31,543.44 190.91,543.44" fill="#000"/>
<polygon points="190.17,552.36 187.87,548.36 192.47,548.36" fill="#000"/>
<polygon points="188.89,556.92 186.59,552.92 191.19,552.92" fill="#000"/>
<polygon points="189.49,561.14 187.19,557.14 191.79,557.14" fill="#000"/>
<rect x="124.7" y="544.9" width="7.4" height="49.5" fill="#f09a9c"/>
<line x1="128.4" y1="538.52" x2="128.4" y2="551.28" stroke="#222" stroke-width="0.6"/>
<line x1="126.2" y1="538.52" x2="130.6" y2="538.52" stroke="#222" stroke-width="0.6"/>
<line x1="126.2" y1="551.28" x2="130.6" y2="551.28" stroke="#222" stroke-width="0.6"/>
<polygon points="128.31,535.28 130.31,537.88 128.31,540.48 126.31,537.88" fill="#000"/>
<polygon points="127.66,540.19 129.66,542.79 127.66,545.39 125.66,542.79" fill="#000"/>
<polygon points="128.76,544.76 130.76,547.36 128.76,549.96 126.76,547.36" fill="#000"/>
<polygon points="128.94,548.97 130.94,551.57 128.94,554.17 126.94,551.57" fill="#000"/>
<rect x="199.3" y="552.07" width="7.4" height="42.33" fill="#f09a9c"/>
<line x1="203" y1="546.59" x2="203" y2="557.54" stroke="#222" stroke-width="0.6"/>
<line x1="200.8" y1="546.59" x2="205.2" y2="546.59" stroke="#222" stroke-width="0.6"/>
<line x1="200.8" y1="557.54" x2="205.2" y2="557.54" stroke="#222" stroke-width="0.6"/>
<polygon points="201.72,543.45 203.72,546.05 201.72,548.65 199.72,546.05" fill="#000"/>
<polygon points="203.07,547.66 205.07,550.26 203.07,552.86 201.07,550.26" fill="#000"/>
<polygon points="203.49,551.57 205.49,554.17 203.49,556.77 201.49,554.17" fill="#000"/>
<polygon points="204.18,555.18 206.18,557.78 204.18,560.38 202.18,557.78" fill="#000"/>
<line x1="66.5" y1="594.4" x2="212.6" y2="594.4" stroke="#222" stroke-width="0.9"/>
<line x1="102.15" y1="594.4" x2="102.15" y2="597.4" stroke="#222" stroke-width="0.9"/>
<line x1="176.7" y1="594.4" x2="176.7" y2="597.4" stroke="#222" stroke-width="0.9"/>
<text x="103.65" y="608.47" font-size="10.2" text-anchor="middle" font-weight="bold" fill="#000" transform="translate(0 -72.58) scale(1 1.12)">H9C2</text>
<text x="177.2" y="608.17" font-size="10.2" text-anchor="middle" font-weight="bold" fill="#000" transform="translate(0 -72.54) scale(1 1.12)">NRVM</text>
<polyline points="75.9,519.7 75.9,515.7 89,515.7 89,551" fill="none" stroke="#3a3a3a" stroke-width="0.8"/>
<text x="82.95" y="514.49" font-size="5.8" text-anchor="middle" fill="#222"><tspan font-weight="bold" font-style="italic">P</tspan> &lt; 0.0001</text>
<polyline points="102.1,522 102.1,519.4 128.4,519.4 128.4,520.8" fill="none" stroke="#3a3a3a" stroke-width="0.8"/>
<text x="114.25" y="517.79" font-size="5.8" text-anchor="middle" fill="#222"><tspan font-weight="bold" font-style="italic">P</tspan> = 0.0110</text>
<polyline points="102.1,538.4 102.1,533.4 115.2,533.4 115.2,536" fill="none" stroke="#3a3a3a" stroke-width="0.8"/>
<text x="111.65" y="531.79" font-size="5.8" text-anchor="middle" fill="#222"><tspan font-weight="bold" font-style="italic">P</tspan> = 0.0088</text>
<polyline points="150.4,525.4 150.4,522.4 163.7,522.4 163.7,553.4" fill="none" stroke="#3a3a3a" stroke-width="0.8"/>
<text x="157.55" y="520.09" font-size="5.8" text-anchor="middle" fill="#222"><tspan font-weight="bold" font-style="italic">P</tspan> &lt; 0.0001</text>
<polyline points="176.8,530.6 176.8,521.7 203,521.7 203,523.2" fill="none" stroke="#3a3a3a" stroke-width="0.8"/>
<text x="189.9" y="520.09" font-size="5.8" text-anchor="middle" fill="#222"><tspan font-weight="bold" font-style="italic">P</tspan> = 0.0428</text>
<polyline points="176.8,550.5 176.8,538 189.8,538 189.8,540.9" fill="none" stroke="#3a3a3a" stroke-width="0.8"/>
<text x="186.3" y="536.09" font-size="5.8" text-anchor="middle" fill="#222"><tspan font-weight="bold" font-style="italic">P</tspan> = 0.0422</text>
<rect x="68.1" y="612.7" width="132" height="24.7" fill="#fff" stroke="#555" stroke-width="0.7"/>
<rect x="70.5" y="616.1" width="7.4" height="3.8" fill="#d9d9d9"/>
<text x="80.5" y="620.59" font-size="7.2" text-anchor="start" font-weight="normal" fill="#111" transform="translate(0 -74.16) scale(1 1.12)">Control</text>
<rect x="70.5" y="623.6" width="7.4" height="3.8" fill="#f0aaf0"/>
<text x="80.5" y="628.09" font-size="7.2" text-anchor="start" font-weight="normal" fill="#111" transform="translate(0 -75.06) scale(1 1.12)">Hypoxia 24h</text>
<rect x="123.5" y="616.1" width="7.4" height="3.8" fill="#b356ea"/>
<text x="133.5" y="620.59" font-size="7.2" text-anchor="start" font-weight="normal" fill="#111" transform="translate(0 -74.16) scale(1 1.12)">Hypoxia 24h+NC</text>
<rect x="123.5" y="623.6" width="7.4" height="3.8" fill="#efbf80"/>
<text x="133.5" y="628.09" font-size="7.2" text-anchor="start" font-weight="normal" fill="#111" transform="translate(0 -75.06) scale(1 1.12)">Hypoxia 24h+GCLM</text>
<rect x="123.5" y="630.9" width="7.4" height="3.8" fill="#f09a9c"/>
<text x="133.5" y="635.39" font-size="7.2" text-anchor="start" font-weight="normal" fill="#111" transform="translate(0 -75.94) scale(1 1.12)">Hypoxia 24h+GLS</text>
<text x="276.7" y="514.51" font-size="10.3" text-anchor="middle" font-weight="bold" fill="#000" transform="translate(0 -61.3) scale(1 1.12)">H9C2</text>
<text x="370" y="514.51" font-size="10.3" text-anchor="middle" font-weight="bold" fill="#000" transform="translate(0 -61.3) scale(1 1.12)">NRVM</text>
<rect x="243.5" y="522.5" width="70.7" height="69" fill="#fff" stroke="#888" stroke-width="0.6"/>
<line x1="243.5" y1="522.5" x2="243.5" y2="591.5" stroke="#333" stroke-width="0.7"/>
<line x1="243.5" y1="591.5" x2="314.2" y2="591.5" stroke="#333" stroke-width="0.7"/>
<line x1="241.9" y1="591.5" x2="243.5" y2="591.5" stroke="#444" stroke-width="0.4"/>
<line x1="242.6" y1="587.5" x2="243.5" y2="587.5" stroke="#444" stroke-width="0.4"/>
<line x1="242.6" y1="583.5" x2="243.5" y2="583.5" stroke="#444" stroke-width="0.4"/>
<line x1="242.6" y1="579.49" x2="243.5" y2="579.49" stroke="#444" stroke-width="0.4"/>
<line x1="242.6" y1="575.49" x2="243.5" y2="575.49" stroke="#444" stroke-width="0.4"/>
<line x1="241.9" y1="571.49" x2="243.5" y2="571.49" stroke="#444" stroke-width="0.4"/>
<line x1="242.6" y1="567.49" x2="243.5" y2="567.49" stroke="#444" stroke-width="0.4"/>
<line x1="242.6" y1="563.49" x2="243.5" y2="563.49" stroke="#444" stroke-width="0.4"/>
<line x1="242.6" y1="559.48" x2="243.5" y2="559.48" stroke="#444" stroke-width="0.4"/>
<line x1="242.6" y1="555.48" x2="243.5" y2="555.48" stroke="#444" stroke-width="0.4"/>
<line x1="241.9" y1="551.48" x2="243.5" y2="551.48" stroke="#444" stroke-width="0.4"/>
<line x1="242.6" y1="547.48" x2="243.5" y2="547.48" stroke="#444" stroke-width="0.4"/>
<line x1="242.6" y1="543.48" x2="243.5" y2="543.48" stroke="#444" stroke-width="0.4"/>
<line x1="242.6" y1="539.47" x2="243.5" y2="539.47" stroke="#444" stroke-width="0.4"/>
<line x1="242.6" y1="535.47" x2="243.5" y2="535.47" stroke="#444" stroke-width="0.4"/>
<line x1="241.9" y1="531.47" x2="243.5" y2="531.47" stroke="#444" stroke-width="0.4"/>
<text x="239.2" y="592.8" font-size="3.6" text-anchor="middle" font-weight="normal" fill="#333" transform="rotate(-90 239.2 591.5)">0</text>
<text x="239.2" y="572.79" font-size="3.6" text-anchor="middle" font-weight="normal" fill="#333" transform="rotate(-90 239.2 571.49)">100</text>
<text x="239.2" y="552.78" font-size="3.6" text-anchor="middle" font-weight="normal" fill="#333" transform="rotate(-90 239.2 551.48)">200</text>
<text x="239.2" y="532.77" font-size="3.6" text-anchor="middle" font-weight="normal" fill="#333" transform="rotate(-90 239.2 531.47)">300</text>
<text x="233.3" y="559.87" font-size="3.8" text-anchor="middle" font-weight="normal" fill="#333" transform="rotate(-90 233.3 558.5)">Count</text>
<line x1="261.6" y1="591.5" x2="261.6" y2="593.1" stroke="#444" stroke-width="0.4"/>
<text x="261.6" y="597.8" font-size="3.6" text-anchor="middle" fill="#333">10<tspan font-size="2.4" dy="-1.3">3</tspan></text>
<line x1="287.8" y1="591.5" x2="287.8" y2="593.1" stroke="#444" stroke-width="0.4"/>
<text x="287.8" y="597.8" font-size="3.6" text-anchor="middle" fill="#333">10<tspan font-size="2.4" dy="-1.3">4</tspan></text>
<line x1="314" y1="591.5" x2="314" y2="593.1" stroke="#444" stroke-width="0.4"/>
<text x="314" y="597.8" font-size="3.6" text-anchor="middle" fill="#333">10<tspan font-size="2.4" dy="-1.3">5</tspan></text>
<line x1="247.9" y1="591.5" x2="247.9" y2="592.3" stroke="#555" stroke-width="0.35"/>
<line x1="251.17" y1="591.5" x2="251.17" y2="592.3" stroke="#555" stroke-width="0.35"/>
<line x1="253.71" y1="591.5" x2="253.71" y2="592.3" stroke="#555" stroke-width="0.35"/>
<line x1="255.79" y1="591.5" x2="255.79" y2="592.3" stroke="#555" stroke-width="0.35"/>
<line x1="257.54" y1="591.5" x2="257.54" y2="592.3" stroke="#555" stroke-width="0.35"/>
<line x1="259.06" y1="591.5" x2="259.06" y2="592.3" stroke="#555" stroke-width="0.35"/>
<line x1="260.4" y1="591.5" x2="260.4" y2="592.3" stroke="#555" stroke-width="0.35"/>
<line x1="269.49" y1="591.5" x2="269.49" y2="592.3" stroke="#555" stroke-width="0.35"/>
<line x1="274.1" y1="591.5" x2="274.1" y2="592.3" stroke="#555" stroke-width="0.35"/>
<line x1="277.37" y1="591.5" x2="277.37" y2="592.3" stroke="#555" stroke-width="0.35"/>
<line x1="279.91" y1="591.5" x2="279.91" y2="592.3" stroke="#555" stroke-width="0.35"/>
<line x1="281.99" y1="591.5" x2="281.99" y2="592.3" stroke="#555" stroke-width="0.35"/>
<line x1="283.74" y1="591.5" x2="283.74" y2="592.3" stroke="#555" stroke-width="0.35"/>
<line x1="285.26" y1="591.5" x2="285.26" y2="592.3" stroke="#555" stroke-width="0.35"/>
<line x1="286.6" y1="591.5" x2="286.6" y2="592.3" stroke="#555" stroke-width="0.35"/>
<line x1="295.69" y1="591.5" x2="295.69" y2="592.3" stroke="#555" stroke-width="0.35"/>
<line x1="300.3" y1="591.5" x2="300.3" y2="592.3" stroke="#555" stroke-width="0.35"/>
<line x1="303.57" y1="591.5" x2="303.57" y2="592.3" stroke="#555" stroke-width="0.35"/>
<line x1="306.11" y1="591.5" x2="306.11" y2="592.3" stroke="#555" stroke-width="0.35"/>
<line x1="308.19" y1="591.5" x2="308.19" y2="592.3" stroke="#555" stroke-width="0.35"/>
<line x1="309.94" y1="591.5" x2="309.94" y2="592.3" stroke="#555" stroke-width="0.35"/>
<line x1="311.46" y1="591.5" x2="311.46" y2="592.3" stroke="#555" stroke-width="0.35"/>
<line x1="312.8" y1="591.5" x2="312.8" y2="592.3" stroke="#555" stroke-width="0.35"/>
<text x="278.85" y="603.27" font-size="3.8" text-anchor="middle" font-weight="normal" fill="#333" transform="translate(0 -72.23) scale(1 1.12)">FITC-A</text>
<polyline points="244.5,591.5 245.2,591.5 245.9,591.5 246.6,591.5 247.3,591.5 248,591.5 248.7,591.5 249.4,591.5 250.1,591.5 250.8,591.5 251.5,591.49 252.2,591.49 252.9,591.47 253.6,591.46 254.3,591.43 255,591.38 255.7,591.3 256.4,591.19 257.1,591.01 257.8,590.77 258.5,590.39 259.2,589.78 259.9,589.21 260.6,588.26 261.3,586.98 262,585.78 262.7,583.5 263.4,580.91 264.1,577.66 264.8,576.06 265.5,571.91 266.2,568.79 266.9,561.45 267.6,557.41 268.3,556.79 269,546.69 269.7,542.82 270.4,541.91 271.1,539.88 271.8,542.3 272.5,543.15 273.2,539.51 273.9,544.91 274.6,546.27 275.3,549.02 276,554.09 276.7,555.49 277.4,560 278.1,562.63 278.8,568.32 279.5,571.94 280.2,575.97 280.9,578.82 281.6,581.92 282.3,584.38 283,585.52 283.7,587.1 284.4,588.4 285.1,589.35 285.8,590.1 286.5,590.56 287.2,590.87 287.9,591.07 288.6,591.22 289.3,591.33 290,591.39 290.7,591.44 291.4,591.46 292.1,591.48 292.8,591.49 293.5,591.49 294.2,591.5 294.9,591.5 295.6,591.5 296.3,591.5 297,591.5 297.7,591.5 298.4,591.5 299.1,591.5 299.8,591.5 300.5,591.5 301.2,591.5 301.9,591.5 302.6,591.5 303.3,591.5 304,591.5 304.7,591.5 305.4,591.5 306.1,591.5 306.8,591.5 307.5,591.5 308.2,591.5 308.9,591.5 309.6,591.5 310.3,591.5 311,591.5 311.7,591.5 312.4,591.5 313.1,591.5" fill="none" stroke="#ff2a2a" stroke-width="0.6" stroke-linejoin="round"/>
<polyline points="244.5,591.5 245.2,591.5 245.9,591.5 246.6,591.5 247.3,591.5 248,591.5 248.7,591.5 249.4,591.5 250.1,591.5 250.8,591.5 251.5,591.5 252.2,591.5 252.9,591.5 253.6,591.5 254.3,591.5 255,591.5 255.7,591.5 256.4,591.5 257.1,591.5 257.8,591.5 258.5,591.5 259.2,591.49 259.9,591.49 260.6,591.47 261.3,591.46 262,591.43 262.7,591.38 263.4,591.31 264.1,591.21 264.8,591.05 265.5,590.86 266.2,590.43 266.9,590.03 267.6,589.25 268.3,588.55 269,587.05 269.7,585.58 270.4,584.65 271.1,582.24 271.8,578.27 272.5,575.99 273.2,570.82 273.9,568.66 274.6,565.84 275.3,558.77 276,553.23 276.7,551.94 277.4,549.29 278.1,544.01 278.8,535.96 279.5,535.52 280.2,539.99 280.9,538.8 281.6,540.97 282.3,543.11 283,539.9 283.7,548.11 284.4,549.42 285.1,554.53 285.8,560.4 286.5,562.27 287.2,569.09 287.9,571.29 288.6,576.41 289.3,578.82 290,581.9 290.7,584.04 291.4,585.21 292.1,586.96 292.8,588.45 293.5,589.12 294.2,590 294.9,590.44 295.6,590.73 296.3,591.02 297,591.19 297.7,591.3 298.4,591.38 299.1,591.42 299.8,591.45 300.5,591.47 301.2,591.48 301.9,591.49 302.6,591.49 303.3,591.5 304,591.5 304.7,591.5 305.4,591.5 306.1,591.5 306.8,591.5 307.5,591.5 308.2,591.5 308.9,591.5 309.6,591.5 310.3,591.5 311,591.5 311.7,591.5 312.4,591.5 313.1,591.5" fill="none" stroke="#3ce83c" stroke-width="0.6" stroke-linejoin="round"/>
<polyline points="244.5,591.5 245.2,591.5 245.9,591.5 246.6,591.5 247.3,591.5 248,591.5 248.7,591.5 249.4,591.5 250.1,591.5 250.8,591.5 251.5,591.5 252.2,591.5 252.9,591.5 253.6,591.5 254.3,591.5 255,591.5 255.7,591.5 256.4,591.5 257.1,591.5 257.8,591.5 258.5,591.5 259.2,591.49 259.9,591.49 260.6,591.48 261.3,591.46 262,591.44 262.7,591.4 263.4,591.34 264.1,591.25 264.8,591.12 265.5,590.92 266.2,590.61 266.9,590.3 267.6,589.52 268.3,589.02 269,588.03 269.7,586.38 270.4,585.12 271.1,583.19 271.8,581.21 272.5,578.47 273.2,574 273.9,571.37 274.6,566.05 275.3,562.79 276,558.09 276.7,550.76 277.4,549.63 278.1,545.39 278.8,540.11 279.5,543.33 280.2,542.32 280.9,535.66 281.6,537.08 282.3,543.31 283,546.1 283.7,545.19 284.4,547.76 285.1,556.54 285.8,556.74 286.5,561.71 287.2,567.25 287.9,571.86 288.6,576.25 289.3,579.39 290,580.44 290.7,583.87 291.4,585.26 292.1,587.17 292.8,588.04 293.5,589.1 294.2,589.89 294.9,590.41 295.6,590.69 296.3,590.98 297,591.16 297.7,591.28 298.4,591.36 299.1,591.42 299.8,591.45 300.5,591.47 301.2,591.48 301.9,591.49 302.6,591.49 303.3,591.5 304,591.5 304.7,591.5 305.4,591.5 306.1,591.5 306.8,591.5 307.5,591.5 308.2,591.5 308.9,591.5 309.6,591.5 310.3,591.5 311,591.5 311.7,591.5 312.4,591.5 313.1,591.5" fill="none" stroke="#ff3cff" stroke-width="0.6" stroke-linejoin="round"/>
<polyline points="244.5,591.5 245.2,591.5 245.9,591.5 246.6,591.5 247.3,591.5 248,591.5 248.7,591.5 249.4,591.5 250.1,591.5 250.8,591.5 251.5,591.5 252.2,591.5 252.9,591.5 253.6,591.5 254.3,591.5 255,591.5 255.7,591.49 256.4,591.49 257.1,591.48 257.8,591.47 258.5,591.44 259.2,591.41 259.9,591.35 260.6,591.26 261.3,591.13 262,590.94 262.7,590.72 263.4,590.31 264.1,589.69 264.8,588.82 265.5,587.91 266.2,586.86 266.9,584.63 267.6,583.44 268.3,581.43 269,578.2 269.7,574.49 270.4,572.06 271.1,567.79 271.8,562.77 272.5,557.31 273.2,555.55 273.9,550.06 274.6,542.49 275.3,538.44 276,538.56 276.7,536.75 277.4,537.15 278.1,541.43 278.8,543.7 279.5,546.03 280.2,542.35 280.9,547.76 281.6,550.47 282.3,560.29 283,561.51 283.7,566.57 284.4,569.82 285.1,574.84 285.8,576.58 286.5,581.33 287.2,582.97 287.9,584.81 288.6,586.38 289.3,587.84 290,588.88 290.7,589.63 291.4,590.18 292.1,590.68 292.8,590.94 293.5,591.13 294.2,591.26 294.9,591.35 295.6,591.41 296.3,591.44 297,591.47 297.7,591.48 298.4,591.49 299.1,591.49 299.8,591.5 300.5,591.5 301.2,591.5 301.9,591.5 302.6,591.5 303.3,591.5 304,591.5 304.7,591.5 305.4,591.5 306.1,591.5 306.8,591.5 307.5,591.5 308.2,591.5 308.9,591.5 309.6,591.5 310.3,591.5 311,591.5 311.7,591.5 312.4,591.5 313.1,591.5" fill="none" stroke="#ff8a2a" stroke-width="0.6" stroke-linejoin="round"/>
<polyline points="244.5,591.5 245.2,591.5 245.9,591.5 246.6,591.5 247.3,591.5 248,591.5 248.7,591.5 249.4,591.5 250.1,591.5 250.8,591.5 251.5,591.5 252.2,591.5 252.9,591.5 253.6,591.5 254.3,591.5 255,591.5 255.7,591.5 256.4,591.5 257.1,591.49 257.8,591.49 258.5,591.48 259.2,591.47 259.9,591.45 260.6,591.42 261.3,591.37 262,591.3 262.7,591.18 263.4,591.01 264.1,590.74 264.8,590.34 265.5,589.83 266.2,589.28 266.9,588.21 267.6,586.94 268.3,585.63 269,583.68 269.7,581.75 270.4,578.68 271.1,575.43 271.8,573.45 272.5,567.71 273.2,561.87 273.9,557.77 274.6,554.05 275.3,551.92 276,545.74 276.7,543.53 277.4,542.07 278.1,537.09 278.8,542.6 279.5,537.24 280.2,544.34 280.9,541.8 281.6,545.6 282.3,550.81 283,551.73 283.7,557.23 284.4,561.02 285.1,564.14 285.8,570.79 286.5,575.11 287.2,577.56 287.9,579.74 288.6,583.01 289.3,585.04 290,586.05 290.7,587.63 291.4,588.8 292.1,589.44 292.8,590.19 293.5,590.55 294.2,590.91 294.9,591.09 295.6,591.24 296.3,591.33 297,591.4 297.7,591.44 298.4,591.46 299.1,591.48 299.8,591.49 300.5,591.49 301.2,591.5 301.9,591.5 302.6,591.5 303.3,591.5 304,591.5 304.7,591.5 305.4,591.5 306.1,591.5 306.8,591.5 307.5,591.5 308.2,591.5 308.9,591.5 309.6,591.5 310.3,591.5 311,591.5 311.7,591.5 312.4,591.5 313.1,591.5" fill="none" stroke="#45e8e8" stroke-width="0.6" stroke-linejoin="round"/>
<rect x="331.8" y="521.7" width="72" height="69.6" fill="#fff" stroke="#888" stroke-width="0.6"/>
<line x1="331.8" y1="521.7" x2="331.8" y2="591.3" stroke="#333" stroke-width="0.7"/>
<line x1="331.8" y1="591.3" x2="403.8" y2="591.3" stroke="#333" stroke-width="0.7"/>
<line x1="330.2" y1="591.3" x2="331.8" y2="591.3" stroke="#444" stroke-width="0.4"/>
<line x1="330.9" y1="587.26" x2="331.8" y2="587.26" stroke="#444" stroke-width="0.4"/>
<line x1="330.9" y1="583.23" x2="331.8" y2="583.23" stroke="#444" stroke-width="0.4"/>
<line x1="330.9" y1="579.19" x2="331.8" y2="579.19" stroke="#444" stroke-width="0.4"/>
<line x1="330.9" y1="575.15" x2="331.8" y2="575.15" stroke="#444" stroke-width="0.4"/>
<line x1="330.2" y1="571.12" x2="331.8" y2="571.12" stroke="#444" stroke-width="0.4"/>
<line x1="330.9" y1="567.08" x2="331.8" y2="567.08" stroke="#444" stroke-width="0.4"/>
<line x1="330.9" y1="563.04" x2="331.8" y2="563.04" stroke="#444" stroke-width="0.4"/>
<line x1="330.9" y1="559.01" x2="331.8" y2="559.01" stroke="#444" stroke-width="0.4"/>
<line x1="330.9" y1="554.97" x2="331.8" y2="554.97" stroke="#444" stroke-width="0.4"/>
<line x1="330.2" y1="550.93" x2="331.8" y2="550.93" stroke="#444" stroke-width="0.4"/>
<line x1="330.9" y1="546.9" x2="331.8" y2="546.9" stroke="#444" stroke-width="0.4"/>
<line x1="330.9" y1="542.86" x2="331.8" y2="542.86" stroke="#444" stroke-width="0.4"/>
<line x1="330.9" y1="538.82" x2="331.8" y2="538.82" stroke="#444" stroke-width="0.4"/>
<line x1="330.9" y1="534.78" x2="331.8" y2="534.78" stroke="#444" stroke-width="0.4"/>
<line x1="330.2" y1="530.75" x2="331.8" y2="530.75" stroke="#444" stroke-width="0.4"/>
<text x="327.5" y="592.6" font-size="3.6" text-anchor="middle" font-weight="normal" fill="#333" transform="rotate(-90 327.5 591.3)">0</text>
<text x="327.5" y="572.41" font-size="3.6" text-anchor="middle" font-weight="normal" fill="#333" transform="rotate(-90 327.5 571.12)">100</text>
<text x="327.5" y="552.23" font-size="3.6" text-anchor="middle" font-weight="normal" fill="#333" transform="rotate(-90 327.5 550.93)">200</text>
<text x="327.5" y="532.04" font-size="3.6" text-anchor="middle" font-weight="normal" fill="#333" transform="rotate(-90 327.5 530.75)">300</text>
<text x="321.6" y="559.37" font-size="3.8" text-anchor="middle" font-weight="normal" fill="#333" transform="rotate(-90 321.6 558)">Count</text>
<line x1="350.4" y1="591.3" x2="350.4" y2="592.9" stroke="#444" stroke-width="0.4"/>
<text x="350.4" y="597.6" font-size="3.6" text-anchor="middle" fill="#333">10<tspan font-size="2.4" dy="-1.3">3</tspan></text>
<line x1="377.2" y1="591.3" x2="377.2" y2="592.9" stroke="#444" stroke-width="0.4"/>
<text x="377.2" y="597.6" font-size="3.6" text-anchor="middle" fill="#333">10<tspan font-size="2.4" dy="-1.3">4</tspan></text>
<line x1="403.6" y1="591.3" x2="403.6" y2="592.9" stroke="#444" stroke-width="0.4"/>
<text x="403.6" y="597.6" font-size="3.6" text-anchor="middle" fill="#333">10<tspan font-size="2.4" dy="-1.3">5</tspan></text>
<line x1="336.39" y1="591.3" x2="336.39" y2="592.1" stroke="#555" stroke-width="0.35"/>
<line x1="339.74" y1="591.3" x2="339.74" y2="592.1" stroke="#555" stroke-width="0.35"/>
<line x1="342.33" y1="591.3" x2="342.33" y2="592.1" stroke="#555" stroke-width="0.35"/>
<line x1="344.45" y1="591.3" x2="344.45" y2="592.1" stroke="#555" stroke-width="0.35"/>
<line x1="346.25" y1="591.3" x2="346.25" y2="592.1" stroke="#555" stroke-width="0.35"/>
<line x1="347.8" y1="591.3" x2="347.8" y2="592.1" stroke="#555" stroke-width="0.35"/>
<line x1="349.17" y1="591.3" x2="349.17" y2="592.1" stroke="#555" stroke-width="0.35"/>
<line x1="358.47" y1="591.3" x2="358.47" y2="592.1" stroke="#555" stroke-width="0.35"/>
<line x1="363.19" y1="591.3" x2="363.19" y2="592.1" stroke="#555" stroke-width="0.35"/>
<line x1="366.54" y1="591.3" x2="366.54" y2="592.1" stroke="#555" stroke-width="0.35"/>
<line x1="369.13" y1="591.3" x2="369.13" y2="592.1" stroke="#555" stroke-width="0.35"/>
<line x1="371.25" y1="591.3" x2="371.25" y2="592.1" stroke="#555" stroke-width="0.35"/>
<line x1="373.05" y1="591.3" x2="373.05" y2="592.1" stroke="#555" stroke-width="0.35"/>
<line x1="374.6" y1="591.3" x2="374.6" y2="592.1" stroke="#555" stroke-width="0.35"/>
<line x1="375.97" y1="591.3" x2="375.97" y2="592.1" stroke="#555" stroke-width="0.35"/>
<line x1="385.27" y1="591.3" x2="385.27" y2="592.1" stroke="#555" stroke-width="0.35"/>
<line x1="389.99" y1="591.3" x2="389.99" y2="592.1" stroke="#555" stroke-width="0.35"/>
<line x1="393.34" y1="591.3" x2="393.34" y2="592.1" stroke="#555" stroke-width="0.35"/>
<line x1="395.93" y1="591.3" x2="395.93" y2="592.1" stroke="#555" stroke-width="0.35"/>
<line x1="398.05" y1="591.3" x2="398.05" y2="592.1" stroke="#555" stroke-width="0.35"/>
<line x1="399.85" y1="591.3" x2="399.85" y2="592.1" stroke="#555" stroke-width="0.35"/>
<line x1="401.4" y1="591.3" x2="401.4" y2="592.1" stroke="#555" stroke-width="0.35"/>
<line x1="402.77" y1="591.3" x2="402.77" y2="592.1" stroke="#555" stroke-width="0.35"/>
<text x="367.8" y="603.07" font-size="3.8" text-anchor="middle" font-weight="normal" fill="#333" transform="translate(0 -72.2) scale(1 1.12)">FITC-A</text>
<polyline points="332.8,591.3 333.5,591.3 334.2,591.3 334.9,591.3 335.6,591.3 336.3,591.3 337,591.3 337.7,591.3 338.4,591.3 339.1,591.3 339.8,591.3 340.5,591.3 341.2,591.3 341.9,591.3 342.6,591.3 343.3,591.29 344,591.29 344.7,591.28 345.4,591.27 346.1,591.24 346.8,591.21 347.5,591.16 348.2,591.09 348.9,590.98 349.6,590.82 350.3,590.63 351,590.26 351.7,589.83 352.4,589.2 353.1,588.7 353.8,587.77 354.5,586.68 355.2,585.18 355.9,582.77 356.6,581.52 357.3,578.29 358,576.18 358.7,572.84 359.4,568.92 360.1,563.48 360.8,560.49 361.5,559.76 362.2,554.66 362.9,552.11 363.6,543.96 364.3,541.67 365,539.65 365.7,538.21 366.4,538.44 367.1,537.22 367.8,539.74 368.5,545.85 369.2,544.12 369.9,549.85 370.6,551.75 371.3,556.75 372,561.35 372.7,565.48 373.4,568.93 374.1,572.78 374.8,576.42 375.5,577.7 376.2,580.4 376.9,582.44 377.6,584.71 378.3,586.36 379,587.47 379.7,588.73 380.4,589.25 381.1,589.88 381.8,590.34 382.5,590.63 383.2,590.82 383.9,590.98 384.6,591.09 385.3,591.16 386,591.21 386.7,591.24 387.4,591.27 388.1,591.28 388.8,591.29 389.5,591.29 390.2,591.3 390.9,591.3 391.6,591.3 392.3,591.3 393,591.3 393.7,591.3 394.4,591.3 395.1,591.3 395.8,591.3 396.5,591.3 397.2,591.3 397.9,591.3 398.6,591.3 399.3,591.3 400,591.3 400.7,591.3 401.4,591.3 402.1,591.3 402.8,591.3" fill="none" stroke="#ff2a2a" stroke-width="0.6" stroke-linejoin="round"/>
<polyline points="332.8,591.3 333.5,591.3 334.2,591.3 334.9,591.3 335.6,591.3 336.3,591.3 337,591.3 337.7,591.3 338.4,591.3 339.1,591.3 339.8,591.3 340.5,591.3 341.2,591.3 341.9,591.3 342.6,591.3 343.3,591.3 344,591.3 344.7,591.3 345.4,591.3 346.1,591.29 346.8,591.29 347.5,591.28 348.2,591.28 348.9,591.26 349.6,591.24 350.3,591.2 351,591.14 351.7,591.06 352.4,590.94 353.1,590.78 353.8,590.54 354.5,590.25 355.2,589.77 355.9,589.13 356.6,588.44 357.3,587.62 358,586.13 358.7,584.85 359.4,583.02 360.1,580.92 360.8,578.02 361.5,575.83 362.2,570.81 362.9,565.84 363.6,564.07 364.3,558.32 365,552.73 365.7,554.05 366.4,549.74 367.1,541.35 367.8,537.92 368.5,537.11 369.2,539.65 369.9,536.64 370.6,532.67 371.3,533.49 372,536.03 372.7,543.45 373.4,541.49 374.1,548.62 374.8,550.32 375.5,557.89 376.2,557.68 376.9,563.72 377.6,567.29 378.3,572.7 379,574.85 379.7,577.96 380.4,580.58 381.1,583.14 381.8,584.57 382.5,586.45 383.2,587.67 383.9,588.67 384.6,589.21 385.3,589.93 386,590.31 386.7,590.63 387.4,590.8 388.1,590.96 388.8,591.08 389.5,591.15 390.2,591.21 390.9,591.24 391.6,591.26 392.3,591.28 393,591.29 393.7,591.29 394.4,591.3 395.1,591.3 395.8,591.3 396.5,591.3 397.2,591.3 397.9,591.3 398.6,591.3 399.3,591.3 400,591.3 400.7,591.3 401.4,591.3 402.1,591.3 402.8,591.3" fill="none" stroke="#3ce83c" stroke-width="0.6" stroke-linejoin="round"/>
<polyline points="332.8,591.3 333.5,591.3 334.2,591.3 334.9,591.3 335.6,591.3 336.3,591.3 337,591.3 337.7,591.3 338.4,591.3 339.1,591.3 339.8,591.3 340.5,591.3 341.2,591.3 341.9,591.3 342.6,591.3 343.3,591.3 344,591.3 344.7,591.3 345.4,591.3 346.1,591.3 346.8,591.3 347.5,591.3 348.2,591.3 348.9,591.29 349.6,591.29 350.3,591.28 351,591.27 351.7,591.25 352.4,591.21 353.1,591.17 353.8,591.09 354.5,590.99 355.2,590.84 355.9,590.61 356.6,590.32 357.3,589.91 358,589.52 358.7,588.68 359.4,587.81 360.1,586.85 360.8,585.55 361.5,582.59 362.2,581.67 362.9,578.87 363.6,576.07 364.3,571.82 365,569.95 365.7,564.5 366.4,560.8 367.1,553.89 367.8,554.61 368.5,548.46 369.2,543.48 369.9,536.24 370.6,537.19 371.3,535.54 372,532.55 372.7,535.66 373.4,538.63 374.1,535.79 374.8,534.55 375.5,539.08 376.2,546.32 376.9,547.2 377.6,550.53 378.3,558.36 379,560.94 379.7,566.14 380.4,570.39 381.1,573.74 381.8,577.09 382.5,579.53 383.2,582.42 383.9,583.91 384.6,585.89 385.3,586.72 386,587.96 386.7,589.08 387.4,589.47 388.1,590.11 388.8,590.43 389.5,590.69 390.2,590.89 390.9,591.02 391.6,591.12 392.3,591.18 393,591.22 393.7,591.25 394.4,591.27 395.1,591.28 395.8,591.29 396.5,591.29 397.2,591.3 397.9,591.3 398.6,591.3 399.3,591.3 400,591.3 400.7,591.3 401.4,591.3 402.1,591.3 402.8,591.3" fill="none" stroke="#ff3cff" stroke-width="0.6" stroke-linejoin="round"/>
<polyline points="332.8,591.3 333.5,591.3 334.2,591.3 334.9,591.3 335.6,591.3 336.3,591.3 337,591.3 337.7,591.3 338.4,591.3 339.1,591.3 339.8,591.3 340.5,591.3 341.2,591.3 341.9,591.3 342.6,591.3 343.3,591.3 344,591.3 344.7,591.3 345.4,591.3 346.1,591.3 346.8,591.3 347.5,591.29 348.2,591.29 348.9,591.28 349.6,591.27 350.3,591.25 351,591.22 351.7,591.17 352.4,591.11 353.1,591.01 353.8,590.87 354.5,590.68 355.2,590.42 355.9,590.02 356.6,589.6 357.3,588.67 358,588.15 358.7,586.59 359.4,585.69 360.1,583.95 360.8,581.83 361.5,580.13 362.2,577.32 362.9,573.67 363.6,569.96 364.3,564.45 365,559.7 365.7,560.34 366.4,553.63 367.1,552.38 367.8,544.13 368.5,544.51 369.2,537.36 369.9,538.26 370.6,540.74 371.3,541.5 372,539.91 372.7,536.04 373.4,544.03 374.1,544.15 374.8,548.21 375.5,552.02 376.2,553.24 376.9,560.55 377.6,562.16 378.3,566.44 379,569.37 379.7,574.15 380.4,576.33 381.1,580.07 381.8,582.18 382.5,584.1 383.2,585.56 383.9,586.9 384.6,588.4 385.3,589.16 386,589.65 386.7,590.07 387.4,590.47 388.1,590.73 388.8,590.91 389.5,591.04 390.2,591.13 390.9,591.19 391.6,591.23 392.3,591.26 393,591.27 393.7,591.28 394.4,591.29 395.1,591.29 395.8,591.3 396.5,591.3 397.2,591.3 397.9,591.3 398.6,591.3 399.3,591.3 400,591.3 400.7,591.3 401.4,591.3 402.1,591.3 402.8,591.3" fill="none" stroke="#ff8a2a" stroke-width="0.6" stroke-linejoin="round"/>
<polyline points="332.8,591.3 333.5,591.3 334.2,591.3 334.9,591.3 335.6,591.3 336.3,591.3 337,591.3 337.7,591.3 338.4,591.3 339.1,591.3 339.8,591.3 340.5,591.3 341.2,591.3 341.9,591.3 342.6,591.3 343.3,591.3 344,591.3 344.7,591.3 345.4,591.29 346.1,591.29 346.8,591.28 347.5,591.27 348.2,591.26 348.9,591.23 349.6,591.2 350.3,591.14 351,591.06 351.7,590.94 352.4,590.77 353.1,590.56 353.8,590.13 354.5,589.81 355.2,589.32 355.9,588.61 356.6,587.71 357.3,585.99 358,585.06 358.7,582.48 359.4,579.93 360.1,576.92 360.8,574.23 361.5,571.99 362.2,567.71 362.9,562.9 363.6,559.3 364.3,557.54 365,550.83 365.7,551.44 366.4,546.89 367.1,538.84 367.8,540.77 368.5,541.04 369.2,536.04 369.9,539.05 370.6,543.72 371.3,545.14 372,545.65 372.7,548.04 373.4,547.46 374.1,555.62 374.8,556.22 375.5,560.43 376.2,566.34 376.9,568.03 377.6,572.44 378.3,576.38 379,579.6 379.7,581.62 380.4,583.12 381.1,585.3 381.8,586.97 382.5,587.94 383.2,588.77 383.9,589.54 384.6,589.96 385.3,590.43 386,590.61 386.7,590.85 387.4,591 388.1,591.1 388.8,591.17 389.5,591.22 390.2,591.25 390.9,591.27 391.6,591.28 392.3,591.29 393,591.29 393.7,591.3 394.4,591.3 395.1,591.3 395.8,591.3 396.5,591.3 397.2,591.3 397.9,591.3 398.6,591.3 399.3,591.3 400,591.3 400.7,591.3 401.4,591.3 402.1,591.3 402.8,591.3" fill="none" stroke="#45e8e8" stroke-width="0.6" stroke-linejoin="round"/>
<rect x="317.3" y="528.2" width="3.6" height="4" fill="#ff2a2a" stroke="#555" stroke-width="0.3"/>
<rect x="317.3" y="532.6" width="3.6" height="4" fill="#3ce83c" stroke="#555" stroke-width="0.3"/>
<rect x="317.3" y="537" width="3.6" height="4" fill="#ff3cff" stroke="#555" stroke-width="0.3"/>
<rect x="317.3" y="541.4" width="3.6" height="4" fill="#ff8a2a" stroke="#555" stroke-width="0.3"/>
<rect x="317.3" y="545.8" width="3.6" height="4" fill="#45e8e8" stroke="#555" stroke-width="0.3"/>
<rect x="406.8" y="527.9" width="3.4" height="4" fill="#ff2a2a" stroke="#555" stroke-width="0.3"/>
<rect x="406.8" y="532.4" width="3.4" height="4" fill="#3ce83c" stroke="#555" stroke-width="0.3"/>
<rect x="406.8" y="536.9" width="3.4" height="4" fill="#ff3cff" stroke="#555" stroke-width="0.3"/>
<rect x="406.8" y="541.4" width="3.4" height="4" fill="#ff8a2a" stroke="#555" stroke-width="0.3"/>
<rect x="406.8" y="545.9" width="3.4" height="4" fill="#45e8e8" stroke="#555" stroke-width="0.3"/>
<text x="410.9" y="531.95" font-size="5.7" text-anchor="start" font-weight="normal" fill="#1a1a1a" transform="translate(0 -63.59) scale(1 1.12)">Control</text>
<text x="410.9" y="536.45" font-size="5.7" text-anchor="start" font-weight="normal" fill="#1a1a1a" transform="translate(0 -64.13) scale(1 1.12)">Hypoxia 24h</text>
<text x="410.9" y="540.95" font-size="5.7" text-anchor="start" font-weight="normal" fill="#1a1a1a" transform="translate(0 -64.67) scale(1 1.12)">Hypoxia 24h+NC</text>
<text x="410.9" y="545.45" font-size="5.7" text-anchor="start" font-weight="normal" fill="#1a1a1a" transform="translate(0 -65.21) scale(1 1.12)">Hypoxia 24h+GCLM</text>
<text x="410.9" y="549.95" font-size="5.7" text-anchor="start" font-weight="normal" fill="#1a1a1a" transform="translate(0 -65.75) scale(1 1.12)">Hypoxia 24h+GLS</text>
<line x1="494.4" y1="594.5" x2="494.4" y2="495.32" stroke="#222" stroke-width="0.9"/>
<line x1="490.9" y1="594.5" x2="494.4" y2="594.5" stroke="#222" stroke-width="0.9"/>
<text x="490.7" y="597.52" font-size="8.4" text-anchor="end" font-weight="normal" fill="#111" transform="translate(0 -71.34) scale(1 1.12)">0</text>
<line x1="490.9" y1="561.44" x2="494.4" y2="561.44" stroke="#222" stroke-width="0.9"/>
<text x="490.7" y="564.46" font-size="8.4" text-anchor="end" font-weight="normal" fill="#111" transform="translate(0 -67.37) scale(1 1.12)">20</text>
<line x1="490.9" y1="528.38" x2="494.4" y2="528.38" stroke="#222" stroke-width="0.9"/>
<text x="490.7" y="531.4" font-size="8.4" text-anchor="end" font-weight="normal" fill="#111" transform="translate(0 -63.41) scale(1 1.12)">40</text>
<line x1="490.9" y1="495.32" x2="494.4" y2="495.32" stroke="#222" stroke-width="0.9"/>
<text x="490.7" y="498.34" font-size="8.4" text-anchor="end" font-weight="normal" fill="#111" transform="translate(0 -59.44) scale(1 1.12)">60</text>
<text x="471.8" y="546.14" font-size="10.1" text-anchor="middle" font-weight="normal" fill="#111" transform="rotate(-90 471.8 542.5)">ROS positive rate (%)</text>
<rect x="499.3" y="578.8" width="7.6" height="15.7" fill="#d9d9d9"/>
<line x1="503.1" y1="576.32" x2="503.1" y2="581.28" stroke="#222" stroke-width="0.6"/>
<line x1="500.9" y1="576.32" x2="505.3" y2="576.32" stroke="#222" stroke-width="0.6"/>
<line x1="500.9" y1="581.28" x2="505.3" y2="581.28" stroke="#222" stroke-width="0.6"/>
<circle cx="504.31" cy="576.07" r="2" fill="#000"/>
<circle cx="502.19" cy="577.98" r="2" fill="#000"/>
<circle cx="502.22" cy="579.75" r="2" fill="#000"/>
<circle cx="502.48" cy="581.39" r="2" fill="#000"/>
<rect x="575.4" y="577.97" width="7.6" height="16.53" fill="#d9d9d9"/>
<line x1="579.2" y1="575.49" x2="579.2" y2="580.45" stroke="#222" stroke-width="0.6"/>
<line x1="577" y1="575.49" x2="581.4" y2="575.49" stroke="#222" stroke-width="0.6"/>
<line x1="577" y1="580.45" x2="581.4" y2="580.45" stroke="#222" stroke-width="0.6"/>
<circle cx="578.09" cy="575.24" r="2" fill="#000"/>
<circle cx="578.15" cy="577.15" r="2" fill="#000"/>
<circle cx="578.13" cy="578.92" r="2" fill="#000"/>
<circle cx="578.18" cy="580.56" r="2" fill="#000"/>
<rect x="513" y="516.81" width="7.6" height="77.69" fill="#f0aaf0"/>
<line x1="516.8" y1="506.89" x2="516.8" y2="526.73" stroke="#222" stroke-width="0.6"/>
<line x1="514.6" y1="506.89" x2="519" y2="506.89" stroke="#222" stroke-width="0.6"/>
<line x1="514.6" y1="526.73" x2="519" y2="526.73" stroke="#222" stroke-width="0.6"/>
<rect x="515.8" y="503.9" width="4" height="4" fill="#000"/>
<rect x="514.85" y="511.54" width="4" height="4" fill="#000"/>
<rect x="514.58" y="518.63" width="4" height="4" fill="#000"/>
<rect x="515.96" y="525.17" width="4" height="4" fill="#000"/>
<rect x="589.2" y="519.29" width="7.6" height="75.21" fill="#f0aaf0"/>
<line x1="593" y1="509.37" x2="593" y2="529.21" stroke="#222" stroke-width="0.6"/>
<line x1="590.8" y1="509.37" x2="595.2" y2="509.37" stroke="#222" stroke-width="0.6"/>
<line x1="590.8" y1="529.21" x2="595.2" y2="529.21" stroke="#222" stroke-width="0.6"/>
<rect x="592.31" y="506.38" width="4" height="4" fill="#000"/>
<rect x="590.03" y="514.02" width="4" height="4" fill="#000"/>
<rect x="592.2" y="521.11" width="4" height="4" fill="#000"/>
<rect x="591.5" y="527.65" width="4" height="4" fill="#000"/>
<rect x="526.4" y="520.94" width="7.6" height="73.56" fill="#b356ea"/>
<line x1="530.2" y1="511.02" x2="530.2" y2="530.86" stroke="#222" stroke-width="0.6"/>
<line x1="528" y1="511.02" x2="532.4" y2="511.02" stroke="#222" stroke-width="0.6"/>
<line x1="528" y1="530.86" x2="532.4" y2="530.86" stroke="#222" stroke-width="0.6"/>
<polygon points="529.2,507.63 526.9,511.63 531.5,511.63" fill="#000"/>
<polygon points="530.97,515.27 528.67,519.27 533.27,519.27" fill="#000"/>
<polygon points="531.56,522.36 529.26,526.36 533.86,526.36" fill="#000"/>
<polygon points="529.79,528.91 527.49,532.91 532.09,532.91" fill="#000"/>
<rect x="602.8" y="523.42" width="7.6" height="71.08" fill="#b356ea"/>
<line x1="606.6" y1="513.5" x2="606.6" y2="533.34" stroke="#222" stroke-width="0.6"/>
<line x1="604.4" y1="513.5" x2="608.8" y2="513.5" stroke="#222" stroke-width="0.6"/>
<line x1="604.4" y1="533.34" x2="608.8" y2="533.34" stroke="#222" stroke-width="0.6"/>
<polygon points="606.73,510.11 604.43,514.11 609.03,514.11" fill="#000"/>
<polygon points="607.06,517.75 604.76,521.75 609.36,521.75" fill="#000"/>
<polygon points="605.74,524.84 603.44,528.84 608.04,528.84" fill="#000"/>
<polygon points="605.38,531.39 603.08,535.39 607.68,535.39" fill="#000"/>
<rect x="540" y="550.7" width="7.6" height="43.8" fill="#efbf80"/>
<line x1="543.8" y1="544.08" x2="543.8" y2="557.31" stroke="#222" stroke-width="0.6"/>
<line x1="541.6" y1="544.08" x2="546" y2="544.08" stroke="#222" stroke-width="0.6"/>
<line x1="541.6" y1="557.31" x2="546" y2="557.31" stroke="#222" stroke-width="0.6"/>
<polygon points="545.14,545.82 542.84,541.82 547.44,541.82" fill="#000"/>
<polygon points="544.86,550.91 542.56,546.91 547.16,546.91" fill="#000"/>
<polygon points="542.49,555.64 540.19,551.64 544.79,551.64" fill="#000"/>
<polygon points="543.08,560.01 540.78,556.01 545.38,556.01" fill="#000"/>
<rect x="616.6" y="553.17" width="7.6" height="41.33" fill="#efbf80"/>
<line x1="620.4" y1="544.91" x2="620.4" y2="561.44" stroke="#222" stroke-width="0.6"/>
<line x1="618.2" y1="544.91" x2="622.6" y2="544.91" stroke="#222" stroke-width="0.6"/>
<line x1="618.2" y1="561.44" x2="622.6" y2="561.44" stroke="#222" stroke-width="0.6"/>
<polygon points="621.43,546.48 619.13,542.48 623.73,542.48" fill="#000"/>
<polygon points="620.68,552.85 618.38,548.85 622.98,548.85" fill="#000"/>
<polygon points="621.38,558.76 619.08,554.76 623.68,554.76" fill="#000"/>
<polygon points="619.66,564.21 617.36,560.21 621.96,560.21" fill="#000"/>
<rect x="553.6" y="549.37" width="7.6" height="45.13" fill="#f09a9c"/>
<line x1="557.4" y1="536.15" x2="557.4" y2="562.6" stroke="#222" stroke-width="0.6"/>
<line x1="555.2" y1="536.15" x2="559.6" y2="536.15" stroke="#222" stroke-width="0.6"/>
<line x1="555.2" y1="562.6" x2="559.6" y2="562.6" stroke="#222" stroke-width="0.6"/>
<polygon points="558.76,532.23 560.76,534.83 558.76,537.43 556.76,534.83" fill="#000"/>
<polygon points="558.12,542.41 560.12,545.01 558.12,547.61 556.12,545.01" fill="#000"/>
<polygon points="556.2,551.86 558.2,554.46 556.2,557.06 554.2,554.46" fill="#000"/>
<polygon points="558.48,560.59 560.48,563.19 558.48,565.79 556.48,563.19" fill="#000"/>
<rect x="630.3" y="551.85" width="7.6" height="42.65" fill="#f09a9c"/>
<line x1="634.1" y1="545.24" x2="634.1" y2="558.46" stroke="#222" stroke-width="0.6"/>
<line x1="631.9" y1="545.24" x2="636.3" y2="545.24" stroke="#222" stroke-width="0.6"/>
<line x1="631.9" y1="558.46" x2="636.3" y2="558.46" stroke="#222" stroke-width="0.6"/>
<polygon points="633.63,541.98 635.63,544.58 633.63,547.18 631.63,544.58" fill="#000"/>
<polygon points="633.03,547.07 635.03,549.67 633.03,552.27 631.03,549.67" fill="#000"/>
<polygon points="633.61,551.8 635.61,554.4 633.61,557 631.61,554.4" fill="#000"/>
<polygon points="634.69,556.16 636.69,558.76 634.69,561.36 632.69,558.76" fill="#000"/>
<line x1="494.4" y1="594.5" x2="643" y2="594.5" stroke="#222" stroke-width="0.9"/>
<line x1="530.25" y1="594.5" x2="530.25" y2="598" stroke="#222" stroke-width="0.9"/>
<line x1="606.65" y1="594.5" x2="606.65" y2="598" stroke="#222" stroke-width="0.9"/>
<text x="530.25" y="608.47" font-size="10.2" text-anchor="middle" font-weight="bold" fill="#000" transform="translate(0 -72.58) scale(1 1.12)">H9C2</text>
<text x="606.65" y="608.47" font-size="10.2" text-anchor="middle" font-weight="bold" fill="#000" transform="translate(0 -72.58) scale(1 1.12)">NRVM</text>
<polyline points="503.1,550.7 503.1,498.5 516.8,498.5 516.8,503.3" fill="none" stroke="#3a3a3a" stroke-width="0.8"/>
<text x="510.45" y="496.92" font-size="5.6" text-anchor="middle" fill="#222"><tspan font-weight="bold" font-style="italic">P</tspan> &lt; 0.0001</text>
<polyline points="530.2,504.4 530.2,494.1 557.4,494.1 557.4,518.5" fill="none" stroke="#3a3a3a" stroke-width="0.8"/>
<text x="543.3" y="492.82" font-size="5.6" text-anchor="middle" fill="#222"><tspan font-weight="bold" font-style="italic">P</tspan> = 0.0037</text>
<polyline points="530.2,508 530.2,504.4 543.8,504.4 543.8,524.2" fill="none" stroke="#3a3a3a" stroke-width="0.8"/>
<text x="540.5" y="502.92" font-size="5.6" text-anchor="middle" fill="#222"><tspan font-weight="bold" font-style="italic">P</tspan> = 0.0025</text>
<polyline points="579.2,550 579.2,495.9 593,495.9 593,500.6" fill="none" stroke="#3a3a3a" stroke-width="0.8"/>
<text x="586.6" y="495.02" font-size="5.6" text-anchor="middle" fill="#222"><tspan font-weight="bold" font-style="italic">P</tspan> &lt; 0.0001</text>
<polyline points="606.6,503.2 606.6,492.4 634.1,492.4 634.1,519.8" fill="none" stroke="#3a3a3a" stroke-width="0.8"/>
<text x="619.85" y="489.62" font-size="5.6" text-anchor="middle" fill="#222"><tspan font-weight="bold" font-style="italic">P</tspan> = 0.0022</text>
<polyline points="606.6,505.5 606.6,503.3 620.4,503.3 620.4,528.6" fill="none" stroke="#3a3a3a" stroke-width="0.8"/>
<text x="617" y="501.42" font-size="5.6" text-anchor="middle" fill="#222"><tspan font-weight="bold" font-style="italic">P</tspan> = 0.0015</text>
<rect x="494.2" y="612.7" width="134.7" height="25.1" fill="#fff" stroke="#555" stroke-width="0.7"/>
<rect x="496.4" y="616.1" width="7.9" height="3.8" fill="#d9d9d9"/>
<text x="506.6" y="620.59" font-size="7.2" text-anchor="start" font-weight="normal" fill="#111" transform="translate(0 -74.16) scale(1 1.12)">Control</text>
<rect x="496.4" y="623.6" width="7.9" height="3.8" fill="#f0aaf0"/>
<text x="506.6" y="628.09" font-size="7.2" text-anchor="start" font-weight="normal" fill="#111" transform="translate(0 -75.06) scale(1 1.12)">Hypoxia 24h</text>
<rect x="550" y="616.1" width="7.9" height="3.8" fill="#b356ea"/>
<text x="560.2" y="620.59" font-size="7.2" text-anchor="start" font-weight="normal" fill="#111" transform="translate(0 -74.16) scale(1 1.12)">Hypoxia 24h+NC</text>
<rect x="550" y="623.6" width="7.9" height="3.8" fill="#efbf80"/>
<text x="560.2" y="628.09" font-size="7.2" text-anchor="start" font-weight="normal" fill="#111" transform="translate(0 -75.06) scale(1 1.12)">Hypoxia 24h+GCLM</text>
<rect x="550" y="631" width="7.9" height="3.8" fill="#f09a9c"/>
<text x="560.2" y="635.49" font-size="7.2" text-anchor="start" font-weight="normal" fill="#111" transform="translate(0 -75.95) scale(1 1.12)">Hypoxia 24h+GLS</text>
<text x="47.6" y="683.36" font-size="8.5" text-anchor="end" font-weight="normal" fill="#111" transform="translate(0 -81.64) scale(1 1.12)">Hypoxia 24h</text>
<line x1="56.5" y1="680.6" x2="59.1" y2="680.6" stroke="#333" stroke-width="0.8"/>
<line x1="76" y1="680.3" x2="80.4" y2="680.3" stroke="#111" stroke-width="0.85"/>
<line x1="78.2" y1="678.1" x2="78.2" y2="682.5" stroke="#111" stroke-width="0.85"/>
<line x1="96.4" y1="680.3" x2="100.8" y2="680.3" stroke="#111" stroke-width="0.85"/>
<line x1="98.6" y1="678.1" x2="98.6" y2="682.5" stroke="#111" stroke-width="0.85"/>
<line x1="116.8" y1="680.3" x2="121.2" y2="680.3" stroke="#111" stroke-width="0.85"/>
<line x1="119" y1="678.1" x2="119" y2="682.5" stroke="#111" stroke-width="0.85"/>
<line x1="137.2" y1="680.3" x2="141.6" y2="680.3" stroke="#111" stroke-width="0.85"/>
<line x1="139.4" y1="678.1" x2="139.4" y2="682.5" stroke="#111" stroke-width="0.85"/>
<line x1="157.4" y1="680.3" x2="161.8" y2="680.3" stroke="#111" stroke-width="0.85"/>
<line x1="159.6" y1="678.1" x2="159.6" y2="682.5" stroke="#111" stroke-width="0.85"/>
<line x1="182.1" y1="680.6" x2="184.7" y2="680.6" stroke="#333" stroke-width="0.8"/>
<line x1="201.7" y1="680.3" x2="206.1" y2="680.3" stroke="#111" stroke-width="0.85"/>
<line x1="203.9" y1="678.1" x2="203.9" y2="682.5" stroke="#111" stroke-width="0.85"/>
<line x1="222.2" y1="680.3" x2="226.6" y2="680.3" stroke="#111" stroke-width="0.85"/>
<line x1="224.4" y1="678.1" x2="224.4" y2="682.5" stroke="#111" stroke-width="0.85"/>
<line x1="242.8" y1="680.3" x2="247.2" y2="680.3" stroke="#111" stroke-width="0.85"/>
<line x1="245" y1="678.1" x2="245" y2="682.5" stroke="#111" stroke-width="0.85"/>
<line x1="263.1" y1="680.3" x2="267.5" y2="680.3" stroke="#111" stroke-width="0.85"/>
<line x1="265.3" y1="678.1" x2="265.3" y2="682.5" stroke="#111" stroke-width="0.85"/>
<line x1="283.5" y1="680.3" x2="287.9" y2="680.3" stroke="#111" stroke-width="0.85"/>
<line x1="285.7" y1="678.1" x2="285.7" y2="682.5" stroke="#111" stroke-width="0.85"/>
<text x="47.6" y="692.36" font-size="8.5" text-anchor="end" font-weight="normal" fill="#111" transform="translate(0 -82.72) scale(1 1.12)">NC</text>
<line x1="56.5" y1="689.6" x2="59.1" y2="689.6" stroke="#333" stroke-width="0.8"/>
<line x1="76.9" y1="689.6" x2="79.5" y2="689.6" stroke="#333" stroke-width="0.8"/>
<line x1="96.4" y1="689.3" x2="100.8" y2="689.3" stroke="#111" stroke-width="0.85"/>
<line x1="98.6" y1="687.1" x2="98.6" y2="691.5" stroke="#111" stroke-width="0.85"/>
<line x1="117.7" y1="689.6" x2="120.3" y2="689.6" stroke="#333" stroke-width="0.8"/>
<line x1="137.2" y1="689.3" x2="141.6" y2="689.3" stroke="#111" stroke-width="0.85"/>
<line x1="139.4" y1="687.1" x2="139.4" y2="691.5" stroke="#111" stroke-width="0.85"/>
<line x1="158.3" y1="689.6" x2="160.9" y2="689.6" stroke="#333" stroke-width="0.8"/>
<line x1="182.1" y1="689.6" x2="184.7" y2="689.6" stroke="#333" stroke-width="0.8"/>
<line x1="202.6" y1="689.6" x2="205.2" y2="689.6" stroke="#333" stroke-width="0.8"/>
<line x1="222.2" y1="689.3" x2="226.6" y2="689.3" stroke="#111" stroke-width="0.85"/>
<line x1="224.4" y1="687.1" x2="224.4" y2="691.5" stroke="#111" stroke-width="0.85"/>
<line x1="243.7" y1="689.6" x2="246.3" y2="689.6" stroke="#333" stroke-width="0.8"/>
<line x1="263.1" y1="689.3" x2="267.5" y2="689.3" stroke="#111" stroke-width="0.85"/>
<line x1="265.3" y1="687.1" x2="265.3" y2="691.5" stroke="#111" stroke-width="0.85"/>
<line x1="284.4" y1="689.6" x2="287" y2="689.6" stroke="#333" stroke-width="0.8"/>
<text x="47.6" y="701.66" font-size="8.5" text-anchor="end" font-weight="normal" fill="#111" transform="translate(0 -83.83) scale(1 1.12)">GCLM</text>
<line x1="56.5" y1="698.9" x2="59.1" y2="698.9" stroke="#333" stroke-width="0.8"/>
<line x1="76.9" y1="698.9" x2="79.5" y2="698.9" stroke="#333" stroke-width="0.8"/>
<line x1="97.3" y1="698.9" x2="99.9" y2="698.9" stroke="#333" stroke-width="0.8"/>
<line x1="116.8" y1="698.6" x2="121.2" y2="698.6" stroke="#111" stroke-width="0.85"/>
<line x1="119" y1="696.4" x2="119" y2="700.8" stroke="#111" stroke-width="0.85"/>
<line x1="138.1" y1="698.9" x2="140.7" y2="698.9" stroke="#333" stroke-width="0.8"/>
<line x1="158.3" y1="698.9" x2="160.9" y2="698.9" stroke="#333" stroke-width="0.8"/>
<line x1="182.1" y1="698.9" x2="184.7" y2="698.9" stroke="#333" stroke-width="0.8"/>
<line x1="202.6" y1="698.9" x2="205.2" y2="698.9" stroke="#333" stroke-width="0.8"/>
<line x1="223.1" y1="698.9" x2="225.7" y2="698.9" stroke="#333" stroke-width="0.8"/>
<line x1="242.8" y1="698.6" x2="247.2" y2="698.6" stroke="#111" stroke-width="0.85"/>
<line x1="245" y1="696.4" x2="245" y2="700.8" stroke="#111" stroke-width="0.85"/>
<line x1="264" y1="698.9" x2="266.6" y2="698.9" stroke="#333" stroke-width="0.8"/>
<line x1="284.4" y1="698.9" x2="287" y2="698.9" stroke="#333" stroke-width="0.8"/>
<text x="47.6" y="710.86" font-size="8.5" text-anchor="end" font-weight="normal" fill="#111" transform="translate(0 -84.94) scale(1 1.12)">GLS</text>
<line x1="56.5" y1="708.1" x2="59.1" y2="708.1" stroke="#333" stroke-width="0.8"/>
<line x1="76.9" y1="708.1" x2="79.5" y2="708.1" stroke="#333" stroke-width="0.8"/>
<line x1="97.3" y1="708.1" x2="99.9" y2="708.1" stroke="#333" stroke-width="0.8"/>
<line x1="117.7" y1="708.1" x2="120.3" y2="708.1" stroke="#333" stroke-width="0.8"/>
<line x1="138.1" y1="708.1" x2="140.7" y2="708.1" stroke="#333" stroke-width="0.8"/>
<line x1="157.4" y1="707.8" x2="161.8" y2="707.8" stroke="#111" stroke-width="0.85"/>
<line x1="159.6" y1="705.6" x2="159.6" y2="710" stroke="#111" stroke-width="0.85"/>
<line x1="182.1" y1="708.1" x2="184.7" y2="708.1" stroke="#333" stroke-width="0.8"/>
<line x1="202.6" y1="708.1" x2="205.2" y2="708.1" stroke="#333" stroke-width="0.8"/>
<line x1="223.1" y1="708.1" x2="225.7" y2="708.1" stroke="#333" stroke-width="0.8"/>
<line x1="243.7" y1="708.1" x2="246.3" y2="708.1" stroke="#333" stroke-width="0.8"/>
<line x1="264" y1="708.1" x2="266.6" y2="708.1" stroke="#333" stroke-width="0.8"/>
<line x1="283.5" y1="707.8" x2="287.9" y2="707.8" stroke="#111" stroke-width="0.85"/>
<line x1="285.7" y1="705.6" x2="285.7" y2="710" stroke="#111" stroke-width="0.85"/>
<text x="295.6" y="711.9" font-size="8.6" text-anchor="start" font-weight="normal" fill="#111" transform="translate(0 -85.06) scale(1 1.12)">kDa</text>
<clipPath id="cp21"><rect x="46.3" y="713.4" width="122.5" height="17.1"/></clipPath>
<g clip-path="url(#cp21)">
<rect x="46.3" y="713.4" width="122.5" height="17.1" fill="#dcdcdc"/>
<rect x="47.55" y="714.4" width="16.5" height="15.1" fill="#000" fill-opacity="0.28" filter="url(#bl3)"/>
<rect x="47.55" y="715.6" width="16.5" height="3.4" rx="1.7" fill="#000" fill-opacity="0.3" filter="url(#bl)"/>
<rect x="47.55" y="720.5" width="16.5" height="2.4" rx="1.2" fill="#000" fill-opacity="0.92" filter="url(#bl)"/>
<rect x="47.55" y="724.5" width="16.5" height="3" rx="1.5" fill="#000" fill-opacity="0.3" filter="url(#bl)"/>
<rect x="68.15" y="714.4" width="16.5" height="15.1" fill="#000" fill-opacity="0.15" filter="url(#bl3)"/>
<rect x="68.15" y="716.25" width="16.5" height="3.5" rx="1.75" fill="#000" fill-opacity="0.05" filter="url(#bl)"/>
<rect x="68.15" y="722.75" width="16.5" height="3.5" rx="1.75" fill="#000" fill-opacity="0.05" filter="url(#bl)"/>
<rect x="88.65" y="714.4" width="16.5" height="15.1" fill="#000" fill-opacity="0.15" filter="url(#bl3)"/>
<rect x="88.65" y="716.25" width="16.5" height="3.5" rx="1.75" fill="#000" fill-opacity="0.06" filter="url(#bl)"/>
<rect x="88.65" y="722.75" width="16.5" height="3.5" rx="1.75" fill="#000" fill-opacity="0.06" filter="url(#bl)"/>
<rect x="109.55" y="714.4" width="16.5" height="15.1" fill="#000" fill-opacity="0.28" filter="url(#bl3)"/>
<rect x="109.55" y="715.6" width="16.5" height="3.4" rx="1.7" fill="#000" fill-opacity="0.3" filter="url(#bl)"/>
<rect x="109.55" y="720.1" width="16.5" height="2.4" rx="1.2" fill="#000" fill-opacity="0.95" filter="url(#bl)"/>
<rect x="109.55" y="724" width="16.5" height="3" rx="1.5" fill="#000" fill-opacity="0.35" filter="url(#bl)"/>
<rect x="129.35" y="714.4" width="16.5" height="15.1" fill="#000" fill-opacity="0.12" filter="url(#bl3)"/>
<rect x="129.35" y="717" width="16.5" height="4" rx="2" fill="#000" fill-opacity="0.1" filter="url(#bl)"/>
<rect x="149.15" y="714.4" width="16.5" height="15.1" fill="#000" fill-opacity="0.03" filter="url(#bl3)"/>
<rect x="149.15" y="719.5" width="16.5" height="3" rx="1.5" fill="#000" fill-opacity="0.05" filter="url(#bl)"/>
</g>
<rect x="46.3" y="713.4" width="122.5" height="17.1" fill="none" stroke="#4a4a4a" stroke-width="1"/>
<clipPath id="cp22"><rect x="46.3" y="734" width="122.5" height="16.4"/></clipPath>
<g clip-path="url(#cp22)">
<rect x="46.3" y="734" width="122.5" height="16.4" fill="#ececec"/>
<rect x="48.5" y="735" width="18" height="14.4" fill="#000" fill-opacity="0.06" filter="url(#bl3)"/>
<rect x="48.5" y="738.9" width="18" height="2.6" rx="1.3" fill="#000" fill-opacity="0.6" filter="url(#bl)"/>
<rect x="48.5" y="741.7" width="18" height="3.2" rx="1.6" fill="#000" fill-opacity="0.88" filter="url(#bl)"/>
<rect x="69.3" y="735" width="18" height="14.4" fill="#000" fill-opacity="0.05" filter="url(#bl3)"/>
<rect x="69.3" y="738.9" width="18" height="2.2" rx="1.1" fill="#000" fill-opacity="0.3" filter="url(#bl)"/>
<rect x="69.3" y="741.9" width="18" height="2.8" rx="1.4" fill="#000" fill-opacity="0.62" filter="url(#bl)"/>
<rect x="89.5" y="735" width="18" height="14.4" fill="#000" fill-opacity="0.05" filter="url(#bl3)"/>
<rect x="89.5" y="738.9" width="18" height="2.2" rx="1.1" fill="#000" fill-opacity="0.32" filter="url(#bl)"/>
<rect x="89.5" y="741.9" width="18" height="2.8" rx="1.4" fill="#000" fill-opacity="0.62" filter="url(#bl)"/>
<rect x="109.5" y="735" width="18" height="14.4" fill="#000" fill-opacity="0.05" filter="url(#bl3)"/>
<rect x="109.5" y="738.9" width="18" height="2.2" rx="1.1" fill="#000" fill-opacity="0.35" filter="url(#bl)"/>
<rect x="109.5" y="741.9" width="18" height="2.8" rx="1.4" fill="#000" fill-opacity="0.65" filter="url(#bl)"/>
<rect x="129.3" y="735" width="18" height="14.4" fill="#000" fill-opacity="0.05" filter="url(#bl3)"/>
<rect x="129.3" y="738.9" width="18" height="2.2" rx="1.1" fill="#000" fill-opacity="0.38" filter="url(#bl)"/>
<rect x="129.3" y="741.9" width="18" height="2.8" rx="1.4" fill="#000" fill-opacity="0.68" filter="url(#bl)"/>
<rect x="146.95" y="735" width="18.5" height="14.4" fill="#000" fill-opacity="0.08" filter="url(#bl3)"/>
<rect x="146.95" y="739" width="18.5" height="2.8" rx="1.4" fill="#000" fill-opacity="0.6" filter="url(#bl)"/>
<rect x="146.95" y="741.8" width="18.5" height="3.4" rx="1.7" fill="#000" fill-opacity="0.82" filter="url(#bl)"/>
</g>
<rect x="46.3" y="734" width="122.5" height="16.4" fill="none" stroke="#4a4a4a" stroke-width="1"/>
<clipPath id="cp23"><rect x="46.3" y="754" width="122.5" height="16.4"/></clipPath>
<g clip-path="url(#cp23)">
<rect x="46.3" y="754" width="122.5" height="16.4" fill="#f0f0f0"/>
<rect x="52" y="760.2" width="17.2" height="3.8" rx="1.9" fill="#000" fill-opacity="1" filter="url(#bl)"/>
<rect x="71.6" y="760.2" width="17.2" height="3.8" rx="1.9" fill="#000" fill-opacity="1" filter="url(#bl)"/>
<rect x="91" y="760.2" width="17.2" height="3.8" rx="1.9" fill="#000" fill-opacity="1" filter="url(#bl)"/>
<rect x="109.9" y="760.2" width="17.2" height="3.8" rx="1.9" fill="#000" fill-opacity="1" filter="url(#bl)"/>
<rect x="129.6" y="760.2" width="17.2" height="3.8" rx="1.9" fill="#000" fill-opacity="1" filter="url(#bl)"/>
<rect x="149.4" y="760.2" width="17.2" height="3.8" rx="1.9" fill="#000" fill-opacity="1" filter="url(#bl)"/>
</g>
<rect x="46.3" y="754" width="122.5" height="16.4" fill="none" stroke="#4a4a4a" stroke-width="1"/>
<clipPath id="cp24"><rect x="171.2" y="713.4" width="123" height="16.4"/></clipPath>
<g clip-path="url(#cp24)">
<rect x="171.2" y="713.4" width="123" height="16.4" fill="#dedede"/>
<rect x="174.25" y="714.4" width="16.5" height="14.4" fill="#000" fill-opacity="0.3" filter="url(#bl3)"/>
<rect x="174.25" y="715.6" width="16.5" height="3" rx="1.5" fill="#000" fill-opacity="0.7" filter="url(#bl)"/>
<rect x="174.25" y="720" width="16.5" height="2.8" rx="1.4" fill="#000" fill-opacity="1" filter="url(#bl)"/>
<rect x="174.25" y="724.5" width="16.5" height="2.6" rx="1.3" fill="#000" fill-opacity="0.4" filter="url(#bl)"/>
<rect x="196.4" y="714.4" width="15" height="14.4" fill="#000" fill-opacity="0.15" filter="url(#bl3)"/>
<rect x="196.4" y="720.4" width="15" height="2.4" rx="1.2" fill="#000" fill-opacity="0.5" filter="url(#bl)"/>
<rect x="196.4" y="716" width="15" height="2" rx="1" fill="#000" fill-opacity="0.1" filter="url(#bl)"/>
<rect x="216.5" y="714.4" width="15" height="14.4" fill="#000" fill-opacity="0.17" filter="url(#bl3)"/>
<rect x="216.5" y="720.4" width="15" height="2.4" rx="1.2" fill="#000" fill-opacity="0.55" filter="url(#bl)"/>
<rect x="216.5" y="716" width="15" height="2" rx="1" fill="#000" fill-opacity="0.15" filter="url(#bl)"/>
<rect x="236.2" y="714.4" width="16" height="14.4" fill="#000" fill-opacity="0.3" filter="url(#bl3)"/>
<rect x="236.2" y="715.6" width="16" height="3" rx="1.5" fill="#000" fill-opacity="0.7" filter="url(#bl)"/>
<rect x="236.2" y="720" width="16" height="2.8" rx="1.4" fill="#000" fill-opacity="1" filter="url(#bl)"/>
<rect x="236.2" y="724.5" width="16" height="2.6" rx="1.3" fill="#000" fill-opacity="0.4" filter="url(#bl)"/>
<rect x="256.8" y="714.4" width="15" height="14.4" fill="#000" fill-opacity="0.12" filter="url(#bl3)"/>
<rect x="256.8" y="720.4" width="15" height="2.4" rx="1.2" fill="#000" fill-opacity="0.5" filter="url(#bl)"/>
<rect x="277.1" y="714.4" width="15" height="14.4" fill="#000" fill-opacity="0.15" filter="url(#bl3)"/>
<rect x="277.1" y="720.4" width="15" height="2.4" rx="1.2" fill="#000" fill-opacity="0.45" filter="url(#bl)"/>
<rect x="277.1" y="716" width="15" height="2" rx="1" fill="#000" fill-opacity="0.15" filter="url(#bl)"/>
<rect x="277.1" y="724.8" width="15" height="2.4" rx="1.2" fill="#000" fill-opacity="0.2" filter="url(#bl)"/>
</g>
<rect x="171.2" y="713.4" width="123" height="16.4" fill="none" stroke="#4a4a4a" stroke-width="1"/>
<clipPath id="cp25"><rect x="171.2" y="734" width="123" height="15.8"/></clipPath>
<g clip-path="url(#cp25)">
<rect x="171.2" y="734" width="123" height="15.8" fill="#f0f0f0"/>
<rect x="174.3" y="735" width="17" height="13.8" fill="#000" fill-opacity="0.03" filter="url(#bl3)"/>
<rect x="174.3" y="738" width="17" height="2.4" rx="1.2" fill="#000" fill-opacity="0.85" filter="url(#bl)"/>
<rect x="174.3" y="741.1" width="17" height="3" rx="1.5" fill="#000" fill-opacity="0.98" filter="url(#bl)"/>
<rect x="195.4" y="735" width="17" height="13.8" fill="#000" fill-opacity="0.02" filter="url(#bl3)"/>
<rect x="195.4" y="738.6" width="17" height="2" rx="1" fill="#000" fill-opacity="0.15" filter="url(#bl)"/>
<rect x="195.4" y="741.8" width="17" height="2.4" rx="1.2" fill="#000" fill-opacity="0.3" filter="url(#bl)"/>
<rect x="215.5" y="735" width="17" height="13.8" fill="#000" fill-opacity="0.02" filter="url(#bl3)"/>
<rect x="215.5" y="738.6" width="17" height="2" rx="1" fill="#000" fill-opacity="0.15" filter="url(#bl)"/>
<rect x="215.5" y="741.8" width="17" height="2.4" rx="1.2" fill="#000" fill-opacity="0.32" filter="url(#bl)"/>
<rect x="235.7" y="735" width="17" height="13.8" fill="#000" fill-opacity="0.02" filter="url(#bl3)"/>
<rect x="235.7" y="738.6" width="17" height="2" rx="1" fill="#000" fill-opacity="0.22" filter="url(#bl)"/>
<rect x="235.7" y="741.8" width="17" height="2.4" rx="1.2" fill="#000" fill-opacity="0.42" filter="url(#bl)"/>
<rect x="255.8" y="735" width="17" height="13.8" fill="#000" fill-opacity="0.02" filter="url(#bl3)"/>
<rect x="255.8" y="738.6" width="17" height="2" rx="1" fill="#000" fill-opacity="0.3" filter="url(#bl)"/>
<rect x="255.8" y="741.8" width="17" height="2.4" rx="1.2" fill="#000" fill-opacity="0.6" filter="url(#bl)"/>
<rect x="275.45" y="735" width="17.5" height="13.8" fill="#000" fill-opacity="0.04" filter="url(#bl3)"/>
<rect x="275.45" y="737.9" width="17.5" height="2.6" rx="1.3" fill="#000" fill-opacity="0.92" filter="url(#bl)"/>
<rect x="275.45" y="741" width="17.5" height="3.2" rx="1.6" fill="#000" fill-opacity="1" filter="url(#bl)"/>
</g>
<rect x="171.2" y="734" width="123" height="15.8" fill="none" stroke="#4a4a4a" stroke-width="1"/>
<clipPath id="cp26"><rect x="171.2" y="754.5" width="123" height="15.9"/></clipPath>
<g clip-path="url(#cp26)">
<rect x="171.2" y="754.5" width="123" height="15.9" fill="#f0f0f0"/>
<rect x="175.7" y="760.8" width="17" height="3.8" rx="1.9" fill="#000" fill-opacity="1" filter="url(#bl)"/>
<rect x="175.7" y="766.1" width="17" height="1.4" rx="0.7" fill="#000" fill-opacity="0.12" filter="url(#bl)"/>
<rect x="195.7" y="760.8" width="17" height="3.8" rx="1.9" fill="#000" fill-opacity="1" filter="url(#bl)"/>
<rect x="195.7" y="766.1" width="17" height="1.4" rx="0.7" fill="#000" fill-opacity="0.12" filter="url(#bl)"/>
<rect x="215.7" y="760.8" width="17" height="3.8" rx="1.9" fill="#000" fill-opacity="1" filter="url(#bl)"/>
<rect x="215.7" y="766.1" width="17" height="1.4" rx="0.7" fill="#000" fill-opacity="0.12" filter="url(#bl)"/>
<rect x="235.5" y="760.8" width="17" height="3.8" rx="1.9" fill="#000" fill-opacity="1" filter="url(#bl)"/>
<rect x="235.5" y="766.1" width="17" height="1.4" rx="0.7" fill="#000" fill-opacity="0.12" filter="url(#bl)"/>
<rect x="254.9" y="760.8" width="17" height="3.8" rx="1.9" fill="#000" fill-opacity="1" filter="url(#bl)"/>
<rect x="254.9" y="766.1" width="17" height="1.4" rx="0.7" fill="#000" fill-opacity="0.12" filter="url(#bl)"/>
<rect x="274.5" y="760.8" width="17" height="3.8" rx="1.9" fill="#000" fill-opacity="1" filter="url(#bl)"/>
<rect x="274.5" y="766.1" width="17" height="1.4" rx="0.7" fill="#000" fill-opacity="0.12" filter="url(#bl)"/>
</g>
<rect x="171.2" y="754.5" width="123" height="15.9" fill="none" stroke="#4a4a4a" stroke-width="1"/>
<text x="42.6" y="725.54" font-size="10.1" text-anchor="end" font-weight="normal" fill="#111" transform="translate(0 -86.63) scale(1 1.12)">GCLM</text>
<text x="42.6" y="745.64" font-size="10.1" text-anchor="end" font-weight="normal" fill="#111" transform="translate(0 -89.04) scale(1 1.12)">GLS</text>
<text x="42.6" y="765.74" font-size="10.1" text-anchor="end" font-weight="normal" fill="#111" transform="translate(0 -91.45) scale(1 1.12)">β-actin</text>
<line x1="294.2" y1="719" x2="298.8" y2="719" stroke="#222" stroke-width="0.8"/>
<text x="300.5" y="722.02" font-size="8.4" text-anchor="start" font-weight="normal" fill="#111" transform="translate(0 -86.28) scale(1 1.12)">33</text>
<line x1="294.2" y1="749.1" x2="298.8" y2="749.1" stroke="#222" stroke-width="0.8"/>
<text x="300.5" y="752.12" font-size="8.4" text-anchor="start" font-weight="normal" fill="#111" transform="translate(0 -89.89) scale(1 1.12)">55</text>
<line x1="294.2" y1="767.8" x2="298.8" y2="767.8" stroke="#222" stroke-width="0.8"/>
<text x="300.5" y="770.82" font-size="8.4" text-anchor="start" font-weight="normal" fill="#111" transform="translate(0 -92.14) scale(1 1.12)">40</text>
<text x="109.2" y="787.17" font-size="10.2" text-anchor="middle" font-weight="bold" fill="#000" transform="translate(0 -94.02) scale(1 1.12)">H9C2</text>
<text x="237.1" y="784.57" font-size="10.2" text-anchor="middle" font-weight="bold" fill="#000" transform="translate(0 -93.71) scale(1 1.12)">NRVM</text>
<line x1="351.1" y1="771.2" x2="351.1" y2="676.8" stroke="#222" stroke-width="0.9"/>
<line x1="348.1" y1="771.2" x2="351.1" y2="771.2" stroke="#222" stroke-width="0.9"/>
<text x="347.8" y="774.19" font-size="8.3" text-anchor="end" font-weight="normal" fill="#111" transform="translate(0 -92.54) scale(1 1.12)">0.0</text>
<line x1="348.1" y1="747.6" x2="351.1" y2="747.6" stroke="#222" stroke-width="0.9"/>
<text x="347.8" y="750.59" font-size="8.3" text-anchor="end" font-weight="normal" fill="#111" transform="translate(0 -89.71) scale(1 1.12)">0.2</text>
<line x1="348.1" y1="724" x2="351.1" y2="724" stroke="#222" stroke-width="0.9"/>
<text x="347.8" y="726.99" font-size="8.3" text-anchor="end" font-weight="normal" fill="#111" transform="translate(0 -86.88) scale(1 1.12)">0.4</text>
<line x1="348.1" y1="700.4" x2="351.1" y2="700.4" stroke="#222" stroke-width="0.9"/>
<text x="347.8" y="703.39" font-size="8.3" text-anchor="end" font-weight="normal" fill="#111" transform="translate(0 -84.05) scale(1 1.12)">0.6</text>
<line x1="348.1" y1="676.8" x2="351.1" y2="676.8" stroke="#222" stroke-width="0.9"/>
<text x="347.8" y="679.79" font-size="8.3" text-anchor="end" font-weight="normal" fill="#111" transform="translate(0 -81.22) scale(1 1.12)">0.8</text>
<text x="329.4" y="728.24" font-size="10.1" text-anchor="middle" font-weight="normal" fill="#111" transform="rotate(-90 329.4 724.6)">Relative protein level</text>
<text x="465.3" y="683.76" font-size="9.9" text-anchor="start" font-weight="bold" fill="#000" transform="translate(0 -81.62) scale(1 1.12)">H9C2</text>
<rect x="355.9" y="733.44" width="6.3" height="37.76" fill="#d9d9d9"/>
<line x1="359.05" y1="727.54" x2="359.05" y2="739.34" stroke="#222" stroke-width="0.55"/>
<line x1="357.25" y1="727.54" x2="360.85" y2="727.54" stroke="#222" stroke-width="0.55"/>
<line x1="357.25" y1="739.34" x2="360.85" y2="739.34" stroke="#222" stroke-width="0.55"/>
<circle cx="358.31" cy="726.95" r="1.8" fill="#000"/>
<circle cx="359.54" cy="731.49" r="1.8" fill="#000"/>
<circle cx="358.95" cy="735.71" r="1.8" fill="#000"/>
<circle cx="358.61" cy="739.61" r="1.8" fill="#000"/>
<rect x="367.2" y="755.86" width="6.3" height="15.34" fill="#f0aaf0"/>
<line x1="370.35" y1="751.14" x2="370.35" y2="760.58" stroke="#222" stroke-width="0.55"/>
<line x1="368.55" y1="751.14" x2="372.15" y2="751.14" stroke="#222" stroke-width="0.55"/>
<line x1="368.55" y1="760.58" x2="372.15" y2="760.58" stroke="#222" stroke-width="0.55"/>
<rect x="368.62" y="748.87" width="3.6" height="3.6" fill="#000"/>
<rect x="368.3" y="752.5" width="3.6" height="3.6" fill="#000"/>
<rect x="369.2" y="755.88" width="3.6" height="3.6" fill="#000"/>
<rect x="369.1" y="758.99" width="3.6" height="3.6" fill="#000"/>
<rect x="378.5" y="759.4" width="6.3" height="11.8" fill="#b356ea"/>
<line x1="381.65" y1="755.86" x2="381.65" y2="762.94" stroke="#222" stroke-width="0.55"/>
<line x1="379.85" y1="755.86" x2="383.45" y2="755.86" stroke="#222" stroke-width="0.55"/>
<line x1="379.85" y1="762.94" x2="383.45" y2="762.94" stroke="#222" stroke-width="0.55"/>
<polygon points="382.2,753.35 380.13,756.95 384.27,756.95" fill="#000"/>
<polygon points="380.88,756.07 378.81,759.67 382.95,759.67" fill="#000"/>
<polygon points="381.27,758.6 379.2,762.2 383.34,762.2" fill="#000"/>
<polygon points="382.49,760.94 380.42,764.54 384.56,764.54" fill="#000"/>
<rect x="389.8" y="744.06" width="6.3" height="27.14" fill="#efbf80"/>
<line x1="392.95" y1="739.34" x2="392.95" y2="748.78" stroke="#222" stroke-width="0.55"/>
<line x1="391.15" y1="739.34" x2="394.75" y2="739.34" stroke="#222" stroke-width="0.55"/>
<line x1="391.15" y1="748.78" x2="394.75" y2="748.78" stroke="#222" stroke-width="0.55"/>
<polygon points="393.63,741.03 391.56,737.43 395.7,737.43" fill="#000"/>
<polygon points="392.34,744.66 390.27,741.06 394.41,741.06" fill="#000"/>
<polygon points="393.21,748.04 391.14,744.44 395.28,744.44" fill="#000"/>
<polygon points="393.27,751.15 391.2,747.55 395.34,747.55" fill="#000"/>
<rect x="401.1" y="760.58" width="6.3" height="10.62" fill="#b356ea"/>
<line x1="404.25" y1="757.04" x2="404.25" y2="764.12" stroke="#222" stroke-width="0.55"/>
<line x1="402.45" y1="757.04" x2="406.05" y2="757.04" stroke="#222" stroke-width="0.55"/>
<line x1="402.45" y1="764.12" x2="406.05" y2="764.12" stroke="#222" stroke-width="0.55"/>
<polygon points="404.37,758.85 402.3,755.25 406.44,755.25" fill="#000"/>
<polygon points="404.08,761.57 402.01,757.97 406.15,757.97" fill="#000"/>
<polygon points="404.34,764.1 402.27,760.5 406.41,760.5" fill="#000"/>
<polygon points="405.06,766.44 402.99,762.84 407.13,762.84" fill="#000"/>
<rect x="412.4" y="759.4" width="6.3" height="11.8" fill="#f09a9c"/>
<line x1="415.55" y1="754.68" x2="415.55" y2="764.12" stroke="#222" stroke-width="0.55"/>
<line x1="413.75" y1="754.68" x2="417.35" y2="754.68" stroke="#222" stroke-width="0.55"/>
<line x1="413.75" y1="764.12" x2="417.35" y2="764.12" stroke="#222" stroke-width="0.55"/>
<circle cx="415.7" cy="754.21" r="1.53" fill="none" stroke="#000" stroke-width="0.7"/>
<circle cx="415.42" cy="757.84" r="1.53" fill="none" stroke="#000" stroke-width="0.7"/>
<circle cx="415.04" cy="761.22" r="1.53" fill="none" stroke="#000" stroke-width="0.7"/>
<circle cx="416" cy="764.33" r="1.53" fill="none" stroke="#000" stroke-width="0.7"/>
<rect x="431.1" y="726.36" width="6.3" height="44.84" fill="#d9d9d9"/>
<line x1="434.25" y1="720.46" x2="434.25" y2="732.26" stroke="#222" stroke-width="0.55"/>
<line x1="432.45" y1="720.46" x2="436.05" y2="720.46" stroke="#222" stroke-width="0.55"/>
<line x1="432.45" y1="732.26" x2="436.05" y2="732.26" stroke="#222" stroke-width="0.55"/>
<circle cx="433.52" cy="719.87" r="1.8" fill="#000"/>
<circle cx="434.97" cy="724.41" r="1.8" fill="#000"/>
<circle cx="433.99" cy="728.63" r="1.8" fill="#000"/>
<circle cx="434.26" cy="732.53" r="1.8" fill="#000"/>
<rect x="442.4" y="744.06" width="6.3" height="27.14" fill="#f0aaf0"/>
<line x1="445.55" y1="739.34" x2="445.55" y2="748.78" stroke="#222" stroke-width="0.55"/>
<line x1="443.75" y1="739.34" x2="447.35" y2="739.34" stroke="#222" stroke-width="0.55"/>
<line x1="443.75" y1="748.78" x2="447.35" y2="748.78" stroke="#222" stroke-width="0.55"/>
<rect x="444.16" y="737.07" width="3.6" height="3.6" fill="#000"/>
<rect x="444.52" y="740.7" width="3.6" height="3.6" fill="#000"/>
<rect x="443.7" y="744.08" width="3.6" height="3.6" fill="#000"/>
<rect x="443.07" y="747.19" width="3.6" height="3.6" fill="#000"/>
<rect x="453.7" y="751.14" width="6.3" height="20.06" fill="#b356ea"/>
<line x1="456.85" y1="746.42" x2="456.85" y2="755.86" stroke="#222" stroke-width="0.55"/>
<line x1="455.05" y1="746.42" x2="458.65" y2="746.42" stroke="#222" stroke-width="0.55"/>
<line x1="455.05" y1="755.86" x2="458.65" y2="755.86" stroke="#222" stroke-width="0.55"/>
<polygon points="457.13,743.79 455.06,747.39 459.2,747.39" fill="#000"/>
<polygon points="457.47,747.42 455.4,751.02 459.54,751.02" fill="#000"/>
<polygon points="457.12,750.8 455.05,754.4 459.19,754.4" fill="#000"/>
<polygon points="457.57,753.91 455.5,757.51 459.64,757.51" fill="#000"/>
<rect x="465" y="746.42" width="6.3" height="24.78" fill="#efbf80"/>
<line x1="468.15" y1="741.7" x2="468.15" y2="751.14" stroke="#222" stroke-width="0.55"/>
<line x1="466.35" y1="741.7" x2="469.95" y2="741.7" stroke="#222" stroke-width="0.55"/>
<line x1="466.35" y1="751.14" x2="469.95" y2="751.14" stroke="#222" stroke-width="0.55"/>
<polygon points="468.33,743.39 466.26,739.79 470.4,739.79" fill="#000"/>
<polygon points="467.72,747.02 465.65,743.42 469.79,743.42" fill="#000"/>
<polygon points="468.87,750.4 466.8,746.8 470.94,746.8" fill="#000"/>
<polygon points="468.65,753.51 466.58,749.91 470.72,749.91" fill="#000"/>
<rect x="476.3" y="745.24" width="6.3" height="25.96" fill="#b356ea"/>
<line x1="479.45" y1="741.7" x2="479.45" y2="748.78" stroke="#222" stroke-width="0.55"/>
<line x1="477.65" y1="741.7" x2="481.25" y2="741.7" stroke="#222" stroke-width="0.55"/>
<line x1="477.65" y1="748.78" x2="481.25" y2="748.78" stroke="#222" stroke-width="0.55"/>
<polygon points="480.11,743.51 478.04,739.91 482.18,739.91" fill="#000"/>
<polygon points="479.61,746.23 477.54,742.63 481.68,742.63" fill="#000"/>
<polygon points="480.09,748.76 478.02,745.16 482.16,745.16" fill="#000"/>
<polygon points="479.15,751.1 477.08,747.5 481.22,747.5" fill="#000"/>
<rect x="487.6" y="732.26" width="6.3" height="38.94" fill="#f09a9c"/>
<line x1="490.75" y1="728.72" x2="490.75" y2="735.8" stroke="#222" stroke-width="0.55"/>
<line x1="488.95" y1="728.72" x2="492.55" y2="728.72" stroke="#222" stroke-width="0.55"/>
<line x1="488.95" y1="735.8" x2="492.55" y2="735.8" stroke="#222" stroke-width="0.55"/>
<circle cx="490.2" cy="728.37" r="1.53" fill="none" stroke="#000" stroke-width="0.7"/>
<circle cx="491.21" cy="731.09" r="1.53" fill="none" stroke="#000" stroke-width="0.7"/>
<circle cx="490.51" cy="733.62" r="1.53" fill="none" stroke="#000" stroke-width="0.7"/>
<circle cx="490.03" cy="735.96" r="1.53" fill="none" stroke="#000" stroke-width="0.7"/>
<line x1="351.1" y1="771.2" x2="497.5" y2="771.2" stroke="#222" stroke-width="0.9"/>
<line x1="387.3" y1="771.2" x2="387.3" y2="774.2" stroke="#222" stroke-width="0.9"/>
<line x1="462.5" y1="771.2" x2="462.5" y2="774.2" stroke="#222" stroke-width="0.9"/>
<text x="387.3" y="785.03" font-size="9.8" text-anchor="middle" font-weight="normal" fill="#111" transform="translate(0 -93.78) scale(1 1.12)">GCLM</text>
<text x="462.5" y="785.03" font-size="9.8" text-anchor="middle" font-weight="normal" fill="#111" transform="translate(0 -93.78) scale(1 1.12)">GLS</text>
<polyline points="359.05,718 359.05,714.9 370.35,714.9 370.35,735.7" fill="none" stroke="#3a3a3a" stroke-width="0.6"/>
<text x="366.2" y="713.16" font-size="4.9" text-anchor="middle" fill="#222"><tspan font-weight="bold" font-style="italic">P</tspan> = 0.0004</text>
<polyline points="381.65,745 381.65,729.3 392.95,729.3 392.95,733" fill="none" stroke="#3a3a3a" stroke-width="0.6"/>
<text x="390.6" y="727.76" font-size="4.9" text-anchor="middle" fill="#222"><tspan font-weight="bold" font-style="italic">P</tspan> = 0.0188</text>
<polyline points="434.25,714 434.25,710.7 445.55,710.7 445.55,727" fill="none" stroke="#3a3a3a" stroke-width="0.6"/>
<text x="440.1" y="708.36" font-size="4.9" text-anchor="middle" fill="#222"><tspan font-weight="bold" font-style="italic">P</tspan> = 0.0017</text>
<polyline points="479.45,735 479.45,720.4 490.75,720.4 490.75,723.5" fill="none" stroke="#3a3a3a" stroke-width="0.6"/>
<text x="484.1" y="718.06" font-size="4.9" text-anchor="middle" fill="#222"><tspan font-weight="bold" font-style="italic">P</tspan> = 0.0375</text>
<rect x="358.5" y="787" width="131.8" height="23.6" fill="#fff" stroke="#555" stroke-width="0.7"/>
<rect x="360.8" y="790.3" width="7.5" height="3.8" fill="#d9d9d9"/>
<text x="370.8" y="794.72" font-size="7" text-anchor="start" font-weight="normal" fill="#111" transform="translate(0 -95.06) scale(1 1.12)">Control</text>
<rect x="360.8" y="797.5" width="7.5" height="3.8" fill="#f0aaf0"/>
<text x="370.8" y="801.92" font-size="7" text-anchor="start" font-weight="normal" fill="#111" transform="translate(0 -95.93) scale(1 1.12)">Hypoxia 24h</text>
<rect x="413" y="790.3" width="7.5" height="3.8" fill="#b356ea"/>
<text x="423" y="794.72" font-size="7" text-anchor="start" font-weight="normal" fill="#111" transform="translate(0 -95.06) scale(1 1.12)">Hypoxia 24h+NC</text>
<rect x="413" y="797.5" width="7.5" height="3.8" fill="#efbf80"/>
<text x="423" y="801.92" font-size="7" text-anchor="start" font-weight="normal" fill="#111" transform="translate(0 -95.93) scale(1 1.12)">Hypoxia 24h+GCLM</text>
<rect x="413" y="804.5" width="7.5" height="3.8" fill="#f09a9c"/>
<text x="423" y="808.92" font-size="7" text-anchor="start" font-weight="normal" fill="#111" transform="translate(0 -96.77) scale(1 1.12)">Hypoxia 24h+GLS</text>
<line x1="530.5" y1="771" x2="530.5" y2="678.84" stroke="#222" stroke-width="0.9"/>
<line x1="527.5" y1="771" x2="530.5" y2="771" stroke="#222" stroke-width="0.9"/>
<text x="527.2" y="773.99" font-size="8.3" text-anchor="end" font-weight="normal" fill="#111" transform="translate(0 -92.52) scale(1 1.12)">0.0</text>
<line x1="527.5" y1="747.96" x2="530.5" y2="747.96" stroke="#222" stroke-width="0.9"/>
<text x="527.2" y="750.95" font-size="8.3" text-anchor="end" font-weight="normal" fill="#111" transform="translate(0 -89.76) scale(1 1.12)">0.2</text>
<line x1="527.5" y1="724.92" x2="530.5" y2="724.92" stroke="#222" stroke-width="0.9"/>
<text x="527.2" y="727.91" font-size="8.3" text-anchor="end" font-weight="normal" fill="#111" transform="translate(0 -86.99) scale(1 1.12)">0.4</text>
<line x1="527.5" y1="701.88" x2="530.5" y2="701.88" stroke="#222" stroke-width="0.9"/>
<text x="527.2" y="704.87" font-size="8.3" text-anchor="end" font-weight="normal" fill="#111" transform="translate(0 -84.23) scale(1 1.12)">0.6</text>
<line x1="527.5" y1="678.84" x2="530.5" y2="678.84" stroke="#222" stroke-width="0.9"/>
<text x="527.2" y="681.83" font-size="8.3" text-anchor="end" font-weight="normal" fill="#111" transform="translate(0 -81.46) scale(1 1.12)">0.8</text>
<text x="510.3" y="728.24" font-size="10.1" text-anchor="middle" font-weight="normal" fill="#111" transform="rotate(-90 510.3 724.6)">Relative protein level</text>
<text x="644.8" y="683.76" font-size="9.9" text-anchor="start" font-weight="bold" fill="#000" transform="translate(0 -81.62) scale(1 1.12)">NRVM</text>
<rect x="535.2" y="729.53" width="6.3" height="41.47" fill="#d9d9d9"/>
<line x1="538.35" y1="724.92" x2="538.35" y2="734.14" stroke="#222" stroke-width="0.55"/>
<line x1="536.55" y1="724.92" x2="540.15" y2="724.92" stroke="#222" stroke-width="0.55"/>
<line x1="536.55" y1="734.14" x2="540.15" y2="734.14" stroke="#222" stroke-width="0.55"/>
<circle cx="537.89" cy="724.46" r="1.8" fill="#000"/>
<circle cx="539.03" cy="728.01" r="1.8" fill="#000"/>
<circle cx="538.22" cy="731.3" r="1.8" fill="#000"/>
<circle cx="538.89" cy="734.34" r="1.8" fill="#000"/>
<rect x="546.7" y="751.42" width="6.3" height="19.58" fill="#f0aaf0"/>
<line x1="549.85" y1="745.66" x2="549.85" y2="757.18" stroke="#222" stroke-width="0.55"/>
<line x1="548.05" y1="745.66" x2="551.65" y2="745.66" stroke="#222" stroke-width="0.55"/>
<line x1="548.05" y1="757.18" x2="551.65" y2="757.18" stroke="#222" stroke-width="0.55"/>
<rect x="547.57" y="743.28" width="3.6" height="3.6" fill="#000"/>
<rect x="547.92" y="747.72" width="3.6" height="3.6" fill="#000"/>
<rect x="548.32" y="751.83" width="3.6" height="3.6" fill="#000"/>
<rect x="548.49" y="755.64" width="3.6" height="3.6" fill="#000"/>
<rect x="558.2" y="750.26" width="6.3" height="20.74" fill="#b356ea"/>
<line x1="561.35" y1="743.35" x2="561.35" y2="757.18" stroke="#222" stroke-width="0.55"/>
<line x1="559.55" y1="743.35" x2="563.15" y2="743.35" stroke="#222" stroke-width="0.55"/>
<line x1="559.55" y1="757.18" x2="563.15" y2="757.18" stroke="#222" stroke-width="0.55"/>
<polygon points="561.54,740.5 559.47,744.1 563.61,744.1" fill="#000"/>
<polygon points="561.26,745.82 559.19,749.42 563.33,749.42" fill="#000"/>
<polygon points="561.25,750.77 559.18,754.37 563.32,754.37" fill="#000"/>
<polygon points="562.05,755.33 559.98,758.93 564.12,758.93" fill="#000"/>
<rect x="569.7" y="728.38" width="6.3" height="42.62" fill="#efbf80"/>
<line x1="572.85" y1="719.16" x2="572.85" y2="737.59" stroke="#222" stroke-width="0.55"/>
<line x1="571.05" y1="719.16" x2="574.65" y2="719.16" stroke="#222" stroke-width="0.55"/>
<line x1="571.05" y1="737.59" x2="574.65" y2="737.59" stroke="#222" stroke-width="0.55"/>
<polygon points="573.67,720.4 571.6,716.8 575.74,716.8" fill="#000"/>
<polygon points="573.1,727.49 571.03,723.89 575.17,723.89" fill="#000"/>
<polygon points="573.68,734.08 571.61,730.48 575.75,730.48" fill="#000"/>
<polygon points="572.82,740.17 570.75,736.57 574.89,736.57" fill="#000"/>
<rect x="581.2" y="752.57" width="6.3" height="18.43" fill="#b356ea"/>
<line x1="584.35" y1="749.11" x2="584.35" y2="756.02" stroke="#222" stroke-width="0.55"/>
<line x1="582.55" y1="749.11" x2="586.15" y2="749.11" stroke="#222" stroke-width="0.55"/>
<line x1="582.55" y1="756.02" x2="586.15" y2="756.02" stroke="#222" stroke-width="0.55"/>
<polygon points="583.62,750.93 581.55,747.33 585.69,747.33" fill="#000"/>
<polygon points="584.96,753.59 582.89,749.99 587.03,749.99" fill="#000"/>
<polygon points="583.67,756.06 581.6,752.46 585.74,752.46" fill="#000"/>
<polygon points="583.76,758.34 581.69,754.74 585.83,754.74" fill="#000"/>
<rect x="592.7" y="754.87" width="6.3" height="16.13" fill="#f09a9c"/>
<line x1="595.85" y1="751.42" x2="595.85" y2="758.33" stroke="#222" stroke-width="0.55"/>
<line x1="594.05" y1="751.42" x2="597.65" y2="751.42" stroke="#222" stroke-width="0.55"/>
<line x1="594.05" y1="758.33" x2="597.65" y2="758.33" stroke="#222" stroke-width="0.55"/>
<circle cx="595.93" cy="751.07" r="1.53" fill="none" stroke="#000" stroke-width="0.7"/>
<circle cx="595.18" cy="753.73" r="1.53" fill="none" stroke="#000" stroke-width="0.7"/>
<circle cx="596.56" cy="756.2" r="1.53" fill="none" stroke="#000" stroke-width="0.7"/>
<circle cx="596.43" cy="758.48" r="1.53" fill="none" stroke="#000" stroke-width="0.7"/>
<rect x="611.8" y="731.83" width="6.3" height="39.17" fill="#d9d9d9"/>
<line x1="614.95" y1="727.22" x2="614.95" y2="736.44" stroke="#222" stroke-width="0.55"/>
<line x1="613.15" y1="727.22" x2="616.75" y2="727.22" stroke="#222" stroke-width="0.55"/>
<line x1="613.15" y1="736.44" x2="616.75" y2="736.44" stroke="#222" stroke-width="0.55"/>
<circle cx="615.74" cy="726.76" r="1.8" fill="#000"/>
<circle cx="615.17" cy="730.31" r="1.8" fill="#000"/>
<circle cx="614.64" cy="733.61" r="1.8" fill="#000"/>
<circle cx="614.34" cy="736.65" r="1.8" fill="#000"/>
<rect x="623.1" y="753.72" width="6.3" height="17.28" fill="#f0aaf0"/>
<line x1="626.25" y1="749.11" x2="626.25" y2="758.33" stroke="#222" stroke-width="0.55"/>
<line x1="624.45" y1="749.11" x2="628.05" y2="749.11" stroke="#222" stroke-width="0.55"/>
<line x1="624.45" y1="758.33" x2="628.05" y2="758.33" stroke="#222" stroke-width="0.55"/>
<rect x="625.14" y="746.85" width="3.6" height="3.6" fill="#000"/>
<rect x="623.88" y="750.4" width="3.6" height="3.6" fill="#000"/>
<rect x="625.14" y="753.69" width="3.6" height="3.6" fill="#000"/>
<rect x="625.27" y="756.74" width="3.6" height="3.6" fill="#000"/>
<rect x="634.4" y="751.42" width="6.3" height="19.58" fill="#b356ea"/>
<line x1="637.55" y1="745.66" x2="637.55" y2="757.18" stroke="#222" stroke-width="0.55"/>
<line x1="635.75" y1="745.66" x2="639.35" y2="745.66" stroke="#222" stroke-width="0.55"/>
<line x1="635.75" y1="757.18" x2="639.35" y2="757.18" stroke="#222" stroke-width="0.55"/>
<polygon points="637.83,742.92 635.76,746.52 639.9,746.52" fill="#000"/>
<polygon points="637.51,747.36 635.44,750.96 639.58,750.96" fill="#000"/>
<polygon points="636.99,751.47 634.92,755.07 639.06,755.07" fill="#000"/>
<polygon points="637.96,755.28 635.89,758.88 640.03,758.88" fill="#000"/>
<rect x="645.7" y="752.57" width="6.3" height="18.43" fill="#efbf80"/>
<line x1="648.85" y1="745.66" x2="648.85" y2="759.48" stroke="#222" stroke-width="0.55"/>
<line x1="647.05" y1="745.66" x2="650.65" y2="745.66" stroke="#222" stroke-width="0.55"/>
<line x1="647.05" y1="759.48" x2="650.65" y2="759.48" stroke="#222" stroke-width="0.55"/>
<polygon points="648.39,747.12 646.32,743.52 650.46,743.52" fill="#000"/>
<polygon points="648.5,752.45 646.43,748.85 650.57,748.85" fill="#000"/>
<polygon points="649.45,757.39 647.38,753.79 651.52,753.79" fill="#000"/>
<polygon points="648.15,761.95 646.08,758.35 650.22,758.35" fill="#000"/>
<rect x="657" y="751.42" width="6.3" height="19.58" fill="#b356ea"/>
<line x1="660.15" y1="743.35" x2="660.15" y2="759.48" stroke="#222" stroke-width="0.55"/>
<line x1="658.35" y1="743.35" x2="661.95" y2="743.35" stroke="#222" stroke-width="0.55"/>
<line x1="658.35" y1="759.48" x2="661.95" y2="759.48" stroke="#222" stroke-width="0.55"/>
<polygon points="660.55,744.71 658.48,741.11 662.62,741.11" fill="#000"/>
<polygon points="660.46,750.91 658.39,747.31 662.53,747.31" fill="#000"/>
<polygon points="660.97,756.68 658.9,753.08 663.04,753.08" fill="#000"/>
<polygon points="659.72,762 657.65,758.4 661.79,758.4" fill="#000"/>
<rect x="668.3" y="728.38" width="6.3" height="42.62" fill="#f09a9c"/>
<line x1="671.45" y1="721.46" x2="671.45" y2="735.29" stroke="#222" stroke-width="0.55"/>
<line x1="669.65" y1="721.46" x2="673.25" y2="721.46" stroke="#222" stroke-width="0.55"/>
<line x1="669.65" y1="735.29" x2="673.25" y2="735.29" stroke="#222" stroke-width="0.55"/>
<circle cx="672.03" cy="720.77" r="1.53" fill="none" stroke="#000" stroke-width="0.7"/>
<circle cx="670.61" cy="726.1" r="1.53" fill="none" stroke="#000" stroke-width="0.7"/>
<circle cx="670.99" cy="731.04" r="1.53" fill="none" stroke="#000" stroke-width="0.7"/>
<circle cx="671.67" cy="735.6" r="1.53" fill="none" stroke="#000" stroke-width="0.7"/>
<line x1="530.5" y1="771" x2="680.3" y2="771" stroke="#222" stroke-width="0.9"/>
<line x1="567.1" y1="771" x2="567.1" y2="774" stroke="#222" stroke-width="0.9"/>
<line x1="643.2" y1="771" x2="643.2" y2="774" stroke="#222" stroke-width="0.9"/>
<text x="567.1" y="785.03" font-size="9.8" text-anchor="middle" font-weight="normal" fill="#111" transform="translate(0 -93.78) scale(1 1.12)">GCLM</text>
<text x="643.2" y="785.03" font-size="9.8" text-anchor="middle" font-weight="normal" fill="#111" transform="translate(0 -93.78) scale(1 1.12)">GLS</text>
<polyline points="538.35,717 538.35,714.2 549.85,714.2 549.85,733.6" fill="none" stroke="#3a3a3a" stroke-width="0.6"/>
<text x="544.6" y="711.96" font-size="4.9" text-anchor="middle" fill="#222"><tspan font-weight="bold" font-style="italic">P</tspan> = 0.0018</text>
<polyline points="561.35,730 561.35,714.2 572.85,714.2 572.85,716.5" fill="none" stroke="#3a3a3a" stroke-width="0.6"/>
<text x="574.1" y="711.96" font-size="4.9" text-anchor="middle" fill="#222"><tspan font-weight="bold" font-style="italic">P</tspan> = 0.0016</text>
<polyline points="614.95,722 614.95,719.6 626.25,719.6 626.25,739.4" fill="none" stroke="#3a3a3a" stroke-width="0.6"/>
<text x="621.1" y="717.76" font-size="4.9" text-anchor="middle" fill="#222"><tspan font-weight="bold" font-style="italic">P</tspan> = 0.0058</text>
<polyline points="660.15,730 660.15,712.6 671.45,712.6 671.45,715.5" fill="none" stroke="#3a3a3a" stroke-width="0.6"/>
<text x="665.8" y="710.76" font-size="4.9" text-anchor="middle" fill="#222"><tspan font-weight="bold" font-style="italic">P</tspan> = 0.0044</text>
<rect x="536.6" y="787" width="133.7" height="23.6" fill="#fff" stroke="#555" stroke-width="0.7"/>
<rect x="539" y="790.3" width="7.5" height="3.8" fill="#d9d9d9"/>
<text x="549" y="794.72" font-size="7" text-anchor="start" font-weight="normal" fill="#111" transform="translate(0 -95.06) scale(1 1.12)">Control</text>
<rect x="539" y="797.5" width="7.5" height="3.8" fill="#f0aaf0"/>
<text x="549" y="801.92" font-size="7" text-anchor="start" font-weight="normal" fill="#111" transform="translate(0 -95.93) scale(1 1.12)">Hypoxia 24h</text>
<rect x="591.5" y="790.3" width="7.5" height="3.8" fill="#b356ea"/>
<text x="601.5" y="794.72" font-size="7" text-anchor="start" font-weight="normal" fill="#111" transform="translate(0 -95.06) scale(1 1.12)">Hypoxia 24h+NC</text>
<rect x="591.5" y="797.5" width="7.5" height="3.8" fill="#efbf80"/>
<text x="601.5" y="801.92" font-size="7" text-anchor="start" font-weight="normal" fill="#111" transform="translate(0 -95.93) scale(1 1.12)">Hypoxia 24h+GCLM</text>
<rect x="591.5" y="804.5" width="7.5" height="3.8" fill="#f09a9c"/>
<text x="601.5" y="808.92" font-size="7" text-anchor="start" font-weight="normal" fill="#111" transform="translate(0 -96.77) scale(1 1.12)">Hypoxia 24h+GLS</text>
</svg></body></html>
